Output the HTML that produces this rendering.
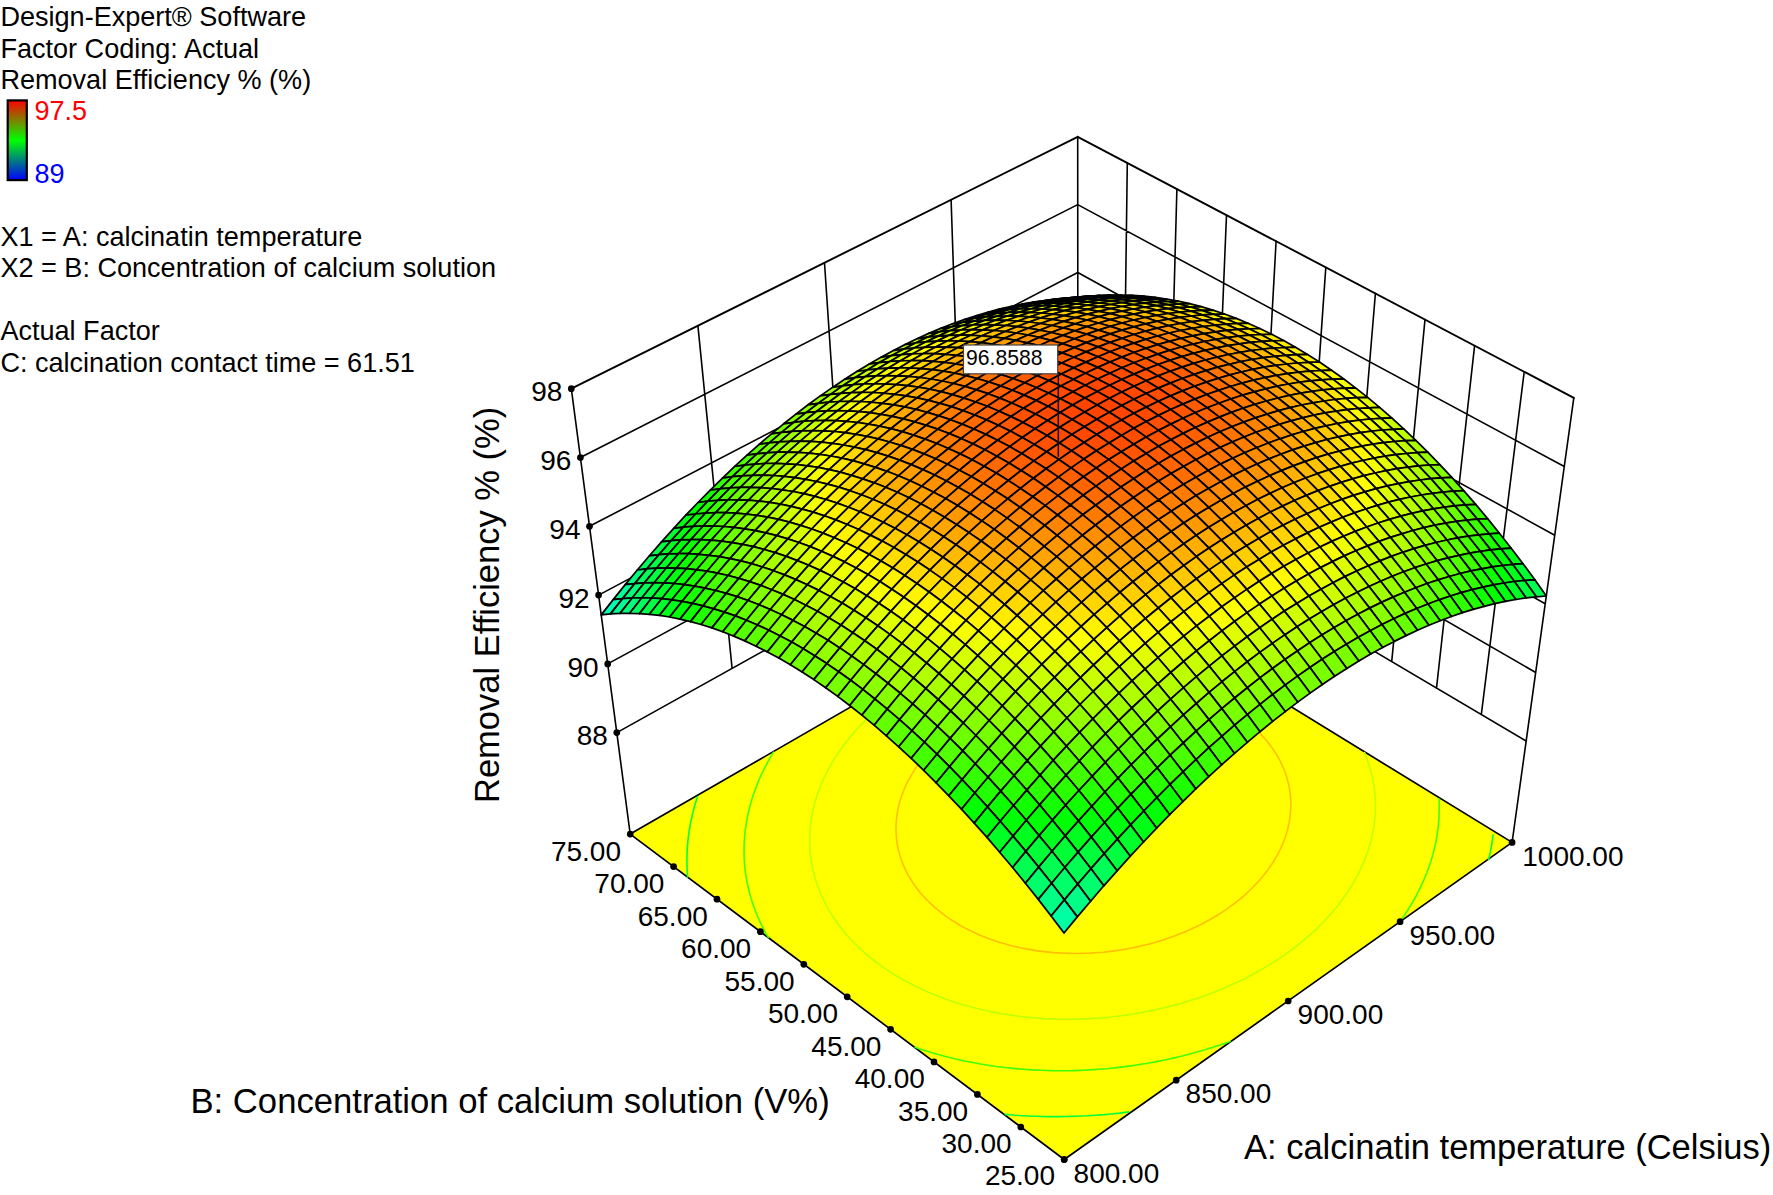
<!DOCTYPE html>
<html><head><meta charset="utf-8"><title>Design-Expert 3D Surface</title>
<style>
html,body{margin:0;padding:0;background:#fff}
body{width:1773px;height:1195px;overflow:hidden;position:relative;font-family:"Liberation Sans",sans-serif;color:#000}
svg{position:absolute;left:0;top:0}
svg text{font-family:"Liberation Sans",sans-serif;fill:#000}
</style></head><body>
<svg width="1773" height="1195" viewBox="0 0 1773 1195">
<defs><linearGradient id="lg" x1="0" y1="0" x2="0" y2="1"><stop offset="0" stop-color="#ff0000"/><stop offset="0.5" stop-color="#00ff00"/><stop offset="1" stop-color="#0000ff"/></linearGradient></defs>
<path d="M616.8,732.6 L1077.9,476.0 M1077.9,476.0 L1526.2,741.1 M607.7,663.9 L1077.9,408.1 M1077.9,408.1 L1535.7,672.5 M598.6,595.1 L1077.8,340.3 M1077.8,340.3 L1545.2,603.8 M589.5,526.3 L1077.8,272.5 M1077.8,272.5 L1554.7,535.2 M580.4,457.5 L1077.7,204.6 M1077.7,204.6 L1564.3,466.5 M732.1,668.5 L697.9,325.7 M847.4,604.3 L824.5,262.8 M962.6,540.1 L951.1,199.8 M1481.3,714.6 L1524.2,371.8 M1436.5,688.1 L1474.6,345.7 M1391.7,661.6 L1425.0,319.6 M1346.9,635.1 L1375.4,293.5 M1302.0,608.5 L1325.8,267.4 M1257.2,582.0 L1276.1,241.2 M1212.4,555.5 L1226.5,215.1 M1167.6,529.0 L1176.9,189.0 M1122.8,502.5 L1127.3,162.9 M630.2,834.1 L571.3,388.7 M1512.1,842.4 L1573.8,397.9 M1077.9,476.0 L1077.7,136.8" fill="none" stroke="#000" stroke-width="1.6" stroke-linecap="round"/>
<path d="M571.3,388.7 L1077.7,136.8 M1077.7,136.8 L1573.8,397.9" fill="none" stroke="#000" stroke-width="1.9" stroke-linecap="round" stroke-linejoin="round"/>
<polygon points="630.2,834.1 1064.2,1159.5 1512.1,842.4 1078.0,576.0" fill="#ffff00" stroke="#000" stroke-width="1.7" stroke-linejoin="round"/>
<polyline points="1488.4,860.4 1489.3,856.6 1489.9,854.0 1490.4,851.6 1490.9,849.2 1491.5,845.6 1492.1,842.0 1492.5,839.4 1492.8,836.9 1493.2,834.4" fill="none" stroke="#00ff40" stroke-width="1.6"/>
<polyline points="1004.6,1114.4 1010.0,1114.8 1014.4,1115.2 1018.8,1115.5 1023.3,1115.7 1027.9,1116.0 1032.4,1116.2 1037.1,1116.3 1041.7,1116.5 1046.5,1116.6 1051.3,1116.6 1056.1,1116.6 1061.0,1116.6 1066.0,1116.5 1071.0,1116.4 1076.1,1116.2 1081.3,1116.0 1086.5,1115.8 1091.3,1115.5 1095.7,1115.2 1100.0,1114.9 1104.3,1114.6 1108.5,1114.2 1113.9,1113.7 1119.6,1113.1 1125.0,1112.4 1129.0,1111.9" fill="none" stroke="#00ff40" stroke-width="1.6"/>
<polyline points="697.7,796.1 696.6,799.3 695.7,802.4 694.7,805.5 694.0,808.3 693.3,811.0 692.6,813.6 692.0,816.3 691.4,819.0 690.8,821.8 690.3,824.6 689.8,827.4 689.3,830.2 688.9,833.1 688.5,836.0 688.1,839.0 687.8,842.0 687.6,845.0 687.3,848.0 687.2,851.1 687.0,854.3 687.0,857.5 686.9,860.3 686.9,863.0 687.0,865.7 687.1,868.3 687.2,870.9 687.4,874.1 687.7,877.6" fill="none" stroke="#00ff40" stroke-width="1.6"/>
<polyline points="1398.5,923.6 1400.7,920.6 1403.1,917.2 1404.8,914.6 1407.1,911.2 1408.7,908.5 1410.6,905.5 1412.5,902.4 1413.8,900.0 1416.0,896.1 1417.1,894.0 1419.2,889.9 1420.3,887.6 1421.5,885.1 1423.3,881.1 1424.3,878.9 1425.5,876.0 1427.0,872.2 1427.8,870.0 1428.8,867.4 1430.2,863.3 1431.0,860.9 1431.7,858.5 1432.6,855.4 1433.6,851.6 1434.2,849.2 1434.8,846.8 1435.4,844.1 1436.1,840.5 1436.8,837.1 1437.2,834.6 1437.5,832.2 1437.9,829.7 1438.2,826.8 1438.5,823.5 1438.8,820.3 1439.0,817.1 1439.1,814.3 1439.2,811.7 1439.2,809.0 1439.2,806.4 1439.2,803.7 1439.1,800.9 1439.0,798.2" fill="none" stroke="#40ff00" stroke-width="1.6"/>
<polyline points="914.5,1047.1 919.9,1048.9 923.1,1049.9 929.6,1052.0 932.9,1053.0 938.5,1054.6 942.9,1055.8 946.4,1056.7 952.8,1058.3 956.9,1059.2 960.5,1060.1 966.1,1061.3 971.5,1062.3 975.2,1063.0 979.0,1063.7 984.7,1064.7 990.6,1065.6 994.5,1066.2 998.5,1066.7 1002.6,1067.2 1007.6,1067.8 1013.1,1068.4 1018.4,1068.9 1023.5,1069.3 1027.8,1069.6 1032.2,1069.9 1036.7,1070.1 1041.2,1070.3 1045.7,1070.5 1050.4,1070.6 1055.1,1070.7 1059.8,1070.7 1064.6,1070.7 1069.5,1070.7 1074.5,1070.6 1079.5,1070.4 1084.6,1070.2 1089.8,1069.9 1094.2,1069.6 1098.4,1069.3 1102.7,1069.0 1106.8,1068.7 1111.5,1068.2 1117.2,1067.6 1123.0,1066.9 1127.0,1066.4 1130.9,1065.9 1134.9,1065.3 1141.1,1064.3 1146.3,1063.5 1150.0,1062.8 1153.8,1062.1 1160.4,1060.9 1164.6,1060.0 1168.2,1059.2 1174.3,1057.9 1178.8,1056.8 1182.2,1056.0 1189.0,1054.2 1192.4,1053.3 1196.9,1052.1 1202.4,1050.5 1205.6,1049.6 1212.1,1047.6 1215.2,1046.6 1221.5,1044.5 1224.6,1043.4 1230.8,1041.2" fill="none" stroke="#40ff00" stroke-width="1.6"/>
<polyline points="1100.2,588.6 1096.5,588.8 1092.9,589.0 1088.7,589.2 1084.0,589.6 1079.2,590.0 1075.1,590.3 1071.6,590.7 1068.2,591.0 1064.3,591.5 1059.1,592.1 1054.8,592.6 1051.6,593.1 1048.3,593.6 1042.8,594.4" fill="none" stroke="#40ff00" stroke-width="1.6"/>
<polyline points="773.8,751.6 772.2,754.2 770.9,756.3 769.2,759.4 767.3,762.8 766.2,764.9 765.0,767.1 763.4,770.5 761.7,773.9 760.7,776.1 759.7,778.4 758.6,781.0 757.2,784.4 755.9,787.8 754.9,790.3 754.1,792.8 753.2,795.2 752.4,797.7 751.5,800.8 750.6,804.0 749.7,807.1 748.9,810.2 748.2,813.2 747.6,816.0 747.1,818.7 746.6,821.5 746.1,824.3 745.7,827.1 745.3,830.0 745.0,832.9 744.7,835.8 744.5,838.8 744.3,841.8 744.1,844.9 744.1,847.7 744.0,850.4 744.1,853.1 744.1,855.8 744.2,858.4 744.4,861.1 744.6,864.5 744.9,867.9 745.3,871.3 745.7,873.9 746.1,876.4 746.5,878.9 747.1,882.5 747.9,886.3 748.5,888.7 749.1,891.1 749.9,894.4 751.0,898.2 751.8,900.6 752.5,902.9 754.0,907.3 755.0,909.8 755.9,912.1 757.7,916.6 758.7,918.8 760.0,921.6 761.8,925.4 762.9,927.6 765.1,931.8 766.3,934.0 768.8,938.2" fill="none" stroke="#40ff00" stroke-width="1.6"/>
<polyline points="1167.2,630.0 1162.3,629.4 1158.8,629.0 1155.2,628.7 1151.6,628.3 1147.8,628.0 1143.2,627.7 1138.8,627.4 1134.4,627.2 1130.1,627.1 1125.9,627.0 1121.7,626.9 1117.6,626.9 1113.6,626.9 1109.7,627.0 1105.8,627.0 1101.9,627.2 1098.1,627.3 1094.4,627.5 1089.9,627.8 1085.2,628.2 1080.3,628.6 1076.4,628.9 1072.9,629.3 1069.5,629.7 1064.9,630.3 1059.5,631.0 1056.1,631.5 1052.9,632.0 1048.2,632.8 1043.3,633.6 1040.1,634.2 1036.0,635.0 1030.9,636.1 1027.9,636.8 1022.7,637.9 1019.0,638.8 1015.5,639.7 1010.3,641.1 1007.4,641.9 1001.8,643.5 999.0,644.3 993.5,646.0 990.6,647.0 985.4,648.7 980.5,650.4 977.5,651.5 972.4,653.5 968.7,654.9 964.8,656.5 959.8,658.6 954.9,660.7 952.4,661.8 947.6,664.1 942.9,666.3 938.3,668.7 933.7,671.1 929.1,673.5 924.7,676.0 920.3,678.5 916.0,681.2 911.7,683.8 907.5,686.5 903.4,689.3 899.3,692.1 895.3,695.0 891.8,697.6 889.4,699.4 885.6,702.4 881.9,705.5 880.0,707.1 876.3,710.2 872.7,713.4 871.0,715.1 867.5,718.4 864.7,721.1 862.4,723.4 859.1,726.9 857.5,728.7 854.3,732.2 852.7,734.0 849.7,737.6 848.1,739.6 845.9,742.4 843.7,745.2 842.3,747.2 839.5,751.1 838.2,753.1 836.4,755.8 834.2,759.1 833.0,761.2 831.4,763.9 829.3,767.5 828.1,769.7 827.0,771.9 825.3,775.3 823.7,778.5 822.7,780.8 821.7,783.1 820.5,786.0 819.2,789.4 818.0,792.5 817.2,795.0 816.4,797.4 815.6,799.9 814.9,802.6 814.0,805.7 813.3,808.8 812.6,811.9 812.0,814.9 811.5,817.9 811.0,820.9 810.6,823.8 810.3,826.7 810.1,829.5 809.9,832.3 809.7,835.1 809.7,837.9 809.6,840.6 809.7,843.3 809.8,846.0 809.9,848.6 810.1,851.6 810.5,855.0 810.9,858.5 811.3,861.5 811.7,863.9 812.2,866.4 812.8,869.4 813.8,873.2 814.5,876.1 815.2,878.5 816.1,881.3 817.5,885.4 818.3,887.7 819.2,890.0 821.0,894.5 822.0,896.7 823.3,899.4 825.2,903.2 826.3,905.3 828.6,909.6 829.9,911.6 832.4,915.8 833.8,917.8 836.5,921.8 837.9,923.8 840.9,927.7 842.5,929.7 845.6,933.4 848.8,937.2 850.5,939.0 854.0,942.7 857.6,946.3 861.3,949.8 863.4,951.6 867.1,954.9 871.2,958.3 875.3,961.5 879.6,964.7 884.0,967.9 888.6,970.9 893.2,973.9 896.3,975.8 900.5,978.3 905.5,981.1 910.6,983.8 914.4,985.8 918.6,987.8 924.0,990.3 927.0,991.7 932.5,994.0 937.5,996.0 941.3,997.4 946.8,999.5 950.4,1000.7 955.4,1002.4 959.9,1003.8 963.3,1004.8 969.7,1006.6 973.0,1007.5 977.8,1008.7 983.4,1010.0 986.9,1010.8 991.1,1011.7 997.4,1012.9 1001.5,1013.7 1005.3,1014.3 1009.3,1014.9 1015.1,1015.8 1020.6,1016.5 1024.9,1017.0 1029.0,1017.4 1033.2,1017.8 1037.4,1018.1 1041.7,1018.4 1046.7,1018.7 1051.7,1018.9 1056.5,1019.1 1061.2,1019.2 1065.9,1019.3 1070.5,1019.3 1075.0,1019.2 1079.5,1019.1 1083.8,1018.9 1088.5,1018.7 1093.6,1018.4 1098.9,1018.1 1104.3,1017.6 1108.9,1017.2 1112.9,1016.8 1116.9,1016.3 1121.2,1015.8 1127.1,1014.9 1132.2,1014.2 1135.9,1013.5 1139.6,1012.9 1146.0,1011.7 1150.4,1010.8 1154.0,1010.1 1159.6,1008.8 1164.3,1007.7 1167.7,1006.9 1174.4,1005.2 1177.7,1004.3 1182.4,1002.9 1187.3,1001.4 1190.8,1000.3 1196.7,998.4 1199.8,997.4 1205.8,995.2 1209.6,993.8 1214.7,991.9 1220.4,989.6 1223.2,988.4 1228.8,986.0 1233.1,984.1 1237.0,982.3 1242.3,979.7 1247.6,977.1 1250.1,975.8 1255.2,973.0 1260.2,970.3 1265.1,967.4 1269.8,964.6 1274.5,961.6 1279.1,958.6 1283.6,955.6 1287.9,952.5 1292.2,949.3 1296.4,946.1 1300.5,942.9 1304.5,939.6 1308.4,936.2 1312.2,932.8 1314.1,931.1 1317.8,927.6 1321.3,924.0 1324.3,921.0 1326.5,918.6 1329.8,915.0 1332.0,912.5 1334.6,909.4 1337.7,905.6 1339.2,903.7 1342.1,899.8 1343.6,897.9 1346.3,893.9 1347.7,891.9 1350.3,887.9 1351.6,885.8 1354.0,881.7 1355.2,879.7 1356.9,876.6 1358.6,873.3 1359.6,871.2 1361.5,867.2 1362.6,864.7 1363.6,862.5 1365.2,858.5 1366.2,855.8 1367.1,853.5 1368.1,850.4 1369.3,846.6 1370.0,844.3 1370.6,841.9 1371.4,839.0 1372.2,835.4 1372.8,832.3 1373.3,829.9 1373.7,827.4 1374.1,824.9 1374.5,821.7 1374.8,818.5 1375.1,815.3 1375.3,812.2 1375.4,809.4 1375.4,806.7 1375.4,804.0 1375.3,801.3 1375.2,798.5 1375.0,795.7 1374.8,792.9 1374.5,790.0 1374.1,787.1 1373.7,784.2 1373.1,781.2 1372.6,778.5 1372.0,775.9 1371.4,773.4 1370.8,770.9 1370.1,768.5 1369.2,765.5 1368.1,762.2 1367.0,759.0 1366.1,756.7 1365.2,754.4 1364.2,751.9" fill="none" stroke="#bfff00" stroke-width="1.6"/>
<polyline points="1198.7,925.6 1203.7,923.0 1208.7,920.3 1213.5,917.5 1218.2,914.7 1222.7,911.8 1227.2,908.8 1231.4,905.7 1235.6,902.6 1239.6,899.3 1243.5,896.1 1247.3,892.7 1249.1,891.0 1252.7,887.5 1256.1,883.9 1257.8,882.1 1261.0,878.5 1263.5,875.5 1265.6,872.8 1268.4,869.2 1269.9,867.0 1272.2,863.6 1273.9,861.0 1275.4,858.4 1277.5,854.8 1278.6,852.7 1280.4,849.0 1281.7,846.2 1282.6,844.0 1284.0,840.6 1285.2,837.3 1286.0,835.0 1286.7,832.6 1287.7,829.3 1288.5,825.7 1289.1,823.0 1289.5,820.5 1289.9,818.0 1290.2,815.4 1290.5,812.6 1290.7,809.5 1290.8,806.5 1290.8,803.6 1290.8,800.7 1290.6,797.9 1290.4,795.2 1290.0,792.5 1289.7,789.8 1289.2,787.2 1288.6,784.3 1287.8,781.1 1286.9,777.8 1286.0,774.9 1285.2,772.6 1284.3,770.3 1283.1,767.3 1281.4,763.7 1280.4,761.5 1279.3,759.4 1277.1,755.5 1275.7,753.2 1274.3,751.1 1271.8,747.4 1270.4,745.5 1267.4,741.8 1265.9,739.9 1262.8,736.4 1261.2,734.6 1257.8,731.3 1254.4,728.0 1252.6,726.4 1248.9,723.2 1245.0,720.2 1241.1,717.2 1237.9,715.0 1234.8,713.0 1230.5,710.3 1227.6,708.6 1223.8,706.4 1219.1,704.0 1214.3,701.6 1209.4,699.4 1206.9,698.3 1201.7,696.2 1196.4,694.2 1193.6,693.2 1188.1,691.3 1185.2,690.5 1179.7,688.9 1176.4,688.0 1172.7,687.1 1167.2,685.8 1164.0,685.1 1160.2,684.4 1154.5,683.4 1150.8,682.8 1147.3,682.3 1143.8,681.9 1138.8,681.3 1134.0,680.9 1129.3,680.5 1125.2,680.3 1121.2,680.1 1117.2,680.0 1113.0,679.9 1108.8,679.9 1104.5,680.0 1100.0,680.1 1096.0,680.3 1092.2,680.5 1088.5,680.8 1084.9,681.1 1080.7,681.5 1075.5,682.1 1070.9,682.7 1067.5,683.2 1064.2,683.7 1058.4,684.7 1054.6,685.5 1051.4,686.1 1045.4,687.4 1042.3,688.2 1038.1,689.2 1033.4,690.5 1030.2,691.4 1024.9,693.1 1021.4,694.2 1016.7,695.8 1011.4,697.7 1008.8,698.7 1003.6,700.8 998.6,702.9 996.1,704.1 991.2,706.3 986.5,708.7 981.8,711.1 977.2,713.6 972.8,716.2 968.4,718.8 964.2,721.6 960.0,724.4 956.0,727.3 952.0,730.2 948.9,732.6 946.3,734.8 942.6,738.0 939.0,741.2 937.2,742.9 933.8,746.3 932.0,748.0 928.8,751.5 926.7,753.8 924.1,756.9 922.3,759.1 919.7,762.5 918.3,764.5 915.5,768.4 914.2,770.4 912.7,772.9 910.5,776.6 909.3,778.7 908.1,780.9 906.2,784.7 905.0,787.5 904.0,789.8 903.1,792.1 901.8,795.4 900.7,798.8 899.8,801.8 899.1,804.3 898.5,806.8 898.0,809.4 897.5,812.1 897.0,814.8 896.6,817.5 896.4,820.4 896.1,823.3 896.0,826.2 896.0,829.2 896.1,832.3 896.2,835.5 896.5,838.7 896.9,842.0 897.3,844.5 897.8,847.0 898.3,849.5 899.2,852.9 900.3,856.6 901.0,858.9 901.8,861.2 903.4,865.1 904.6,867.9 905.6,870.1 907.8,874.4 909.0,876.5 911.0,879.9 912.8,882.6 915.0,885.8 917.0,888.5 920.0,892.4 921.6,894.2 924.9,897.9 928.4,901.5 930.2,903.2 933.9,906.7 937.8,910.0 941.9,913.2 946.1,916.4 950.5,919.4 955.1,922.3 959.9,925.2 964.8,927.9 967.4,929.2 972.6,931.8 978.0,934.3 980.8,935.4 986.5,937.7 989.7,938.9 995.4,940.9 998.5,941.9 1004.8,943.8 1008.0,944.7 1013.2,946.1 1018.1,947.2 1021.6,948.0 1026.2,948.9 1032.2,949.9 1036.2,950.6 1040.0,951.1 1043.9,951.6 1048.8,952.1 1053.9,952.6 1059.0,952.9 1063.8,953.2 1068.6,953.4 1073.2,953.5 1077.7,953.5 1082.1,953.4 1086.5,953.3 1090.7,953.1 1094.9,952.8 1098.9,952.5 1103.2,952.2 1108.7,951.6 1114.4,950.9 1118.3,950.3 1122.0,949.8 1126.5,949.0 1132.7,947.8 1136.1,947.1 1139.8,946.3 1146.2,944.8 1149.4,943.9 1154.7,942.5 1159.0,941.2 1163.2,939.9 1168.1,938.3 1172.5,936.7 1176.9,935.1 1182.6,932.8 1185.3,931.7 1190.8,929.3 1196.1,926.8 1198.7,925.6" fill="none" stroke="#ffbf00" stroke-width="1.6"/>
<g stroke="#000" stroke-width="1.75" stroke-linejoin="round">
<polygon points="1077.7,297.1 1088.8,296.6 1078.0,298.0 1066.9,298.5" fill="#23ff00"/>
<polygon points="1066.6,298.0 1077.7,297.1 1066.9,298.5 1055.8,299.4" fill="#36ff00"/>
<polygon points="1088.6,296.2 1099.7,295.7 1088.8,296.6 1077.7,297.1" fill="#3dff00"/>
<polygon points="1055.4,299.2 1066.6,298.0 1055.8,299.4 1044.6,300.6" fill="#47ff00"/>
<polygon points="1077.5,297.0 1088.6,296.2 1077.7,297.1 1066.6,298.0" fill="#50ff00"/>
<polygon points="1099.6,295.6 1110.6,295.2 1099.7,295.7 1088.6,296.2" fill="#56ff00"/>
<polygon points="1044.1,300.8 1055.4,299.2 1044.6,300.6 1033.3,302.2" fill="#57ff00"/>
<polygon points="1066.3,298.2 1077.5,297.0 1066.6,298.0 1055.4,299.2" fill="#61ff00"/>
<polygon points="1088.4,296.4 1099.6,295.6 1088.6,296.2 1077.5,297.0" fill="#68ff00"/>
<polygon points="1110.6,295.5 1121.7,295.1 1110.6,295.2 1099.6,295.6" fill="#6dff00"/>
<polygon points="1032.7,302.7 1044.1,300.8 1033.3,302.2 1022.0,304.2" fill="#66ff00"/>
<polygon points="1055.0,299.8 1066.3,298.2 1055.4,299.2 1044.1,300.8" fill="#72ff00"/>
<polygon points="1077.2,297.6 1088.4,296.4 1077.5,297.0 1066.3,298.2" fill="#7aff00"/>
<polygon points="1099.5,296.3 1110.6,295.5 1099.6,295.6 1088.4,296.4" fill="#80ff00"/>
<polygon points="1121.8,295.8 1132.8,295.4 1121.7,295.1 1110.6,295.5" fill="#82ff00"/>
<polygon points="1021.3,305.0 1032.7,302.7 1022.0,304.2 1010.6,306.5" fill="#74ff00"/>
<polygon points="1043.6,301.7 1055.0,299.8 1044.1,300.8 1032.7,302.7" fill="#81ff00"/>
<polygon points="1065.9,299.2 1077.2,297.6 1066.3,298.2 1055.0,299.8" fill="#8aff00"/>
<polygon points="1088.3,297.5 1099.5,296.3 1088.4,296.4 1077.2,297.6" fill="#91ff00"/>
<polygon points="1110.6,296.6 1121.8,295.8 1110.6,295.5 1099.5,296.3" fill="#95ff00"/>
<polygon points="1133.0,296.6 1144.1,296.2 1132.8,295.4 1121.8,295.8" fill="#96ff00"/>
<polygon points="1009.8,307.7 1021.3,305.0 1010.6,306.5 999.1,309.2" fill="#80ff00"/>
<polygon points="1032.1,304.0 1043.6,301.7 1032.7,302.7 1021.3,305.0" fill="#8eff00"/>
<polygon points="1054.5,301.1 1065.9,299.2 1055.0,299.8 1043.6,301.7" fill="#99ff00"/>
<polygon points="1076.9,299.0 1088.3,297.5 1077.2,297.6 1065.9,299.2" fill="#a2ff00"/>
<polygon points="1099.4,297.7 1110.6,296.6 1099.5,296.3 1088.3,297.5" fill="#a7ff00"/>
<polygon points="1144.3,297.8 1155.3,297.4 1144.1,296.2 1133.0,296.6" fill="#a8ff00"/>
<polygon points="998.2,310.8 1009.8,307.7 999.1,309.2 987.5,312.3" fill="#8bff00"/>
<polygon points="1121.8,297.3 1133.0,296.6 1121.8,295.8 1110.6,296.6" fill="#a9ff00"/>
<polygon points="1020.6,306.7 1032.1,304.0 1021.3,305.0 1009.8,307.7" fill="#9bff00"/>
<polygon points="1043.1,303.3 1054.5,301.1 1043.6,301.7 1032.1,304.0" fill="#a7ff00"/>
<polygon points="1065.6,300.9 1076.9,299.0 1065.9,299.2 1054.5,301.1" fill="#b1ff00"/>
<polygon points="986.6,314.2 998.2,310.8 987.5,312.3 975.9,315.8" fill="#95ff00"/>
<polygon points="1088.1,299.2 1099.4,297.7 1088.3,297.5 1076.9,299.0" fill="#b7ff00"/>
<polygon points="1155.7,299.4 1166.7,299.0 1155.3,297.4 1144.3,297.8" fill="#b9ff00"/>
<polygon points="1110.6,298.4 1121.8,297.3 1110.6,296.6 1099.4,297.7" fill="#bbff00"/>
<polygon points="1133.1,298.5 1144.3,297.8 1133.0,296.6 1121.8,297.3" fill="#bcff00"/>
<polygon points="1009.0,309.7 1020.6,306.7 1009.8,307.7 998.2,310.8" fill="#a6ff00"/>
<polygon points="1031.5,306.0 1043.1,303.3 1032.1,304.0 1020.6,306.7" fill="#b4ff00"/>
<polygon points="974.9,318.1 986.6,314.2 975.9,315.8 964.2,319.6" fill="#9dff00"/>
<polygon points="1054.1,303.1 1065.6,300.9 1054.5,301.1 1043.1,303.3" fill="#bfff00"/>
<polygon points="1076.7,301.1 1088.1,299.2 1076.9,299.0 1065.6,300.9" fill="#c7ff00"/>
<polygon points="1167.1,301.5 1178.1,301.1 1166.7,299.0 1155.7,299.4" fill="#c9ff00"/>
<polygon points="1099.3,299.9 1110.6,298.4 1099.4,297.7 1088.1,299.2" fill="#ccff00"/>
<polygon points="1144.5,300.1 1155.7,299.4 1144.3,297.8 1133.1,298.5" fill="#cdff00"/>
<polygon points="997.4,313.1 1009.0,309.7 998.2,310.8 986.6,314.2" fill="#b0ff00"/>
<polygon points="1121.9,299.6 1133.1,298.5 1121.8,297.3 1110.6,298.4" fill="#ceff00"/>
<polygon points="1019.9,309.0 1031.5,306.0 1020.6,306.7 1009.0,309.7" fill="#bfff00"/>
<polygon points="963.1,322.3 974.9,318.1 964.2,319.6 952.5,323.8" fill="#a5ff00"/>
<polygon points="1042.5,305.8 1054.1,303.1 1043.1,303.3 1031.5,306.0" fill="#cbff00"/>
<polygon points="1065.2,303.3 1076.7,301.1 1065.6,300.9 1054.1,303.1" fill="#d5ff00"/>
<polygon points="985.6,316.9 997.4,313.1 986.6,314.2 974.9,318.1" fill="#b8ff00"/>
<polygon points="1178.6,304.0 1189.6,303.7 1178.1,301.1 1167.1,301.5" fill="#d7ff00"/>
<polygon points="1087.9,301.8 1099.3,299.9 1088.1,299.2 1076.7,301.1" fill="#dbff00"/>
<polygon points="1156.0,302.2 1167.1,301.5 1155.7,299.4 1144.5,300.1" fill="#dcff00"/>
<polygon points="1110.6,301.1 1121.9,299.6 1110.6,298.4 1099.3,299.9" fill="#deff00"/>
<polygon points="1133.3,301.2 1144.5,300.1 1133.1,298.5 1121.9,299.6" fill="#dfff00"/>
<polygon points="1008.2,312.5 1019.9,309.0 1009.0,309.7 997.4,313.1" fill="#c9ff00"/>
<polygon points="951.3,326.9 963.1,322.3 952.5,323.8 940.7,328.4" fill="#abff00"/>
<polygon points="1030.9,308.8 1042.5,305.8 1031.5,306.0 1019.9,309.0" fill="#d7ff00"/>
<polygon points="973.8,321.2 985.6,316.9 974.9,318.1 963.1,322.3" fill="#c0ff00"/>
<polygon points="1053.6,306.0 1065.2,303.3 1054.1,303.1 1042.5,305.8" fill="#e1ff00"/>
<polygon points="1190.2,307.0 1201.2,306.7 1189.6,303.7 1178.6,304.0" fill="#e3ff00"/>
<polygon points="1076.4,304.0 1087.9,301.8 1076.7,301.1 1065.2,303.3" fill="#e9ff00"/>
<polygon points="1167.5,304.7 1178.6,304.0 1167.1,301.5 1156.0,302.2" fill="#eaff00"/>
<polygon points="939.4,331.9 951.3,326.9 940.7,328.4 928.8,333.4" fill="#afff00"/>
<polygon points="1099.2,302.9 1110.6,301.1 1099.3,299.9 1087.9,301.8" fill="#eeff00"/>
<polygon points="1144.7,303.2 1156.0,302.2 1144.5,300.1 1133.3,301.2" fill="#eeff00"/>
<polygon points="996.5,316.3 1008.2,312.5 997.4,313.1 985.6,316.9" fill="#d2ff00"/>
<polygon points="1122.0,302.6 1133.3,301.2 1121.9,299.6 1110.6,301.1" fill="#f0ff00"/>
<polygon points="1019.2,312.2 1030.9,308.8 1019.9,309.0 1008.2,312.5" fill="#e1ff00"/>
<polygon points="962.0,325.7 973.8,321.2 963.1,322.3 951.3,326.9" fill="#c6ff00"/>
<polygon points="1042.0,309.0 1053.6,306.0 1042.5,305.8 1030.9,308.8" fill="#edff00"/>
<polygon points="1201.8,310.4 1212.8,310.1 1201.2,306.7 1190.2,307.0" fill="#eeff00"/>
<polygon points="927.5,337.2 939.4,331.9 928.8,333.4 916.9,338.8" fill="#b3ff00"/>
<polygon points="1064.8,306.6 1076.4,304.0 1065.2,303.3 1053.6,306.0" fill="#f6ff00"/>
<polygon points="984.7,320.4 996.5,316.3 985.6,316.9 973.8,321.2" fill="#d9ff00"/>
<polygon points="1179.0,307.6 1190.2,307.0 1178.6,304.0 1167.5,304.7" fill="#f7ff00"/>
<polygon points="1087.7,305.1 1099.2,302.9 1087.9,301.8 1076.4,304.0" fill="#fcff00"/>
<polygon points="1156.2,305.7 1167.5,304.7 1156.0,302.2 1144.7,303.2" fill="#fcff00"/>
<polygon points="1110.5,304.5 1122.0,302.6 1110.6,301.1 1099.2,302.9" fill="#ffff00"/>
<polygon points="1133.4,304.7 1144.7,303.2 1133.3,301.2 1122.0,302.6" fill="#ffff00"/>
<polygon points="950.1,330.7 962.0,325.7 951.3,326.9 939.4,331.9" fill="#caff00"/>
<polygon points="1007.5,316.0 1019.2,312.2 1008.2,312.5 996.5,316.3" fill="#e9ff00"/>
<polygon points="915.5,343.0 927.5,337.2 916.9,338.8 905.0,344.6" fill="#b5ff00"/>
<polygon points="1030.3,312.4 1042.0,309.0 1030.9,308.8 1019.2,312.2" fill="#f7ff00"/>
<polygon points="1213.5,314.3 1224.5,314.0 1212.8,310.1 1201.8,310.4" fill="#f7ff00"/>
<polygon points="972.8,325.0 984.7,320.4 973.8,321.2 962.0,325.7" fill="#dfff00"/>
<polygon points="1053.2,309.6 1064.8,306.6 1053.6,306.0 1042.0,309.0" fill="#fffd00"/>
<polygon points="1190.7,311.1 1201.8,310.4 1190.2,307.0 1179.0,307.6" fill="#fffd00"/>
<polygon points="1076.1,307.7 1087.7,305.1 1076.4,304.0 1064.8,306.6" fill="#fff500"/>
<polygon points="1167.8,308.7 1179.0,307.6 1167.5,304.7 1156.2,305.7" fill="#fff500"/>
<polygon points="938.2,336.1 950.1,330.7 939.4,331.9 927.5,337.2" fill="#ceff00"/>
<polygon points="1099.0,306.7 1110.5,304.5 1099.2,302.9 1087.7,305.1" fill="#fff100"/>
<polygon points="1144.9,307.1 1156.2,305.7 1144.7,303.2 1133.4,304.7" fill="#fff100"/>
<polygon points="1122.0,306.5 1133.4,304.7 1122.0,302.6 1110.5,304.5" fill="#ffef00"/>
<polygon points="995.6,320.2 1007.5,316.0 996.5,316.3 984.7,320.4" fill="#f1ff00"/>
<polygon points="903.5,349.2 915.5,343.0 905.0,344.6 893.0,350.7" fill="#b6ff00"/>
<polygon points="1018.5,316.2 1030.3,312.4 1019.2,312.2 1007.5,316.0" fill="#fffe00"/>
<polygon points="1225.2,318.6 1236.2,318.4 1224.5,314.0 1213.5,314.3" fill="#ffff00"/>
<polygon points="960.9,330.0 972.8,325.0 962.0,325.7 950.1,330.7" fill="#e4ff00"/>
<polygon points="1041.5,313.0 1053.2,309.6 1042.0,309.0 1030.3,312.4" fill="#fff200"/>
<polygon points="1202.4,314.9 1213.5,314.3 1201.8,310.4 1190.7,311.1" fill="#fff300"/>
<polygon points="926.2,341.8 938.2,336.1 927.5,337.2 915.5,343.0" fill="#d0ff00"/>
<polygon points="891.4,355.7 903.5,349.2 893.0,350.7 881.0,357.3" fill="#b5ff00"/>
<polygon points="1064.5,310.7 1076.1,307.7 1064.8,306.6 1053.2,309.6" fill="#ffea00"/>
<polygon points="1179.5,312.1 1190.7,311.1 1179.0,307.6 1167.8,308.7" fill="#ffea00"/>
<polygon points="983.8,324.7 995.6,320.2 984.7,320.4 972.8,325.0" fill="#f7ff00"/>
<polygon points="1087.5,309.3 1099.0,306.7 1087.7,305.1 1076.1,307.7" fill="#ffe400"/>
<polygon points="1156.5,310.1 1167.8,308.7 1156.2,305.7 1144.9,307.1" fill="#ffe400"/>
<polygon points="1110.5,308.7 1122.0,306.5 1110.5,304.5 1099.0,306.7" fill="#ffe100"/>
<polygon points="1133.5,309.0 1144.9,307.1 1133.4,304.7 1122.0,306.5" fill="#ffe100"/>
<polygon points="948.9,335.4 960.9,330.0 950.1,330.7 938.2,336.1" fill="#e8ff00"/>
<polygon points="1006.7,320.3 1018.5,316.2 1007.5,316.0 995.6,320.2" fill="#fff700"/>
<polygon points="1237.0,323.5 1248.0,323.2 1236.2,318.4 1225.2,318.6" fill="#fff900"/>
<polygon points="914.1,348.0 926.2,341.8 915.5,343.0 903.5,349.2" fill="#d1ff00"/>
<polygon points="879.3,362.6 891.4,355.7 881.0,357.3 868.9,364.2" fill="#b4ff00"/>
<polygon points="1029.7,316.8 1041.5,313.0 1030.3,312.4 1018.5,316.2" fill="#ffe900"/>
<polygon points="1214.1,319.3 1225.2,318.6 1213.5,314.3 1202.4,314.9" fill="#ffeb00"/>
<polygon points="971.8,329.7 983.8,324.7 972.8,325.0 960.9,330.0" fill="#fcff00"/>
<polygon points="1052.7,314.1 1064.5,310.7 1053.2,309.6 1041.5,313.0" fill="#ffdf00"/>
<polygon points="1191.2,316.0 1202.4,314.9 1190.7,311.1 1179.5,312.1" fill="#ffe100"/>
<polygon points="1075.8,312.2 1087.5,309.3 1076.1,307.7 1064.5,310.7" fill="#ffd800"/>
<polygon points="1168.2,313.5 1179.5,312.1 1167.8,308.7 1156.5,310.1" fill="#ffd900"/>
<polygon points="936.9,341.1 948.9,335.4 938.2,336.1 926.2,341.8" fill="#eaff00"/>
<polygon points="1098.9,311.3 1110.5,308.7 1099.0,306.7 1087.5,309.3" fill="#ffd400"/>
<polygon points="1145.1,311.9 1156.5,310.1 1144.9,307.1 1133.5,309.0" fill="#ffd400"/>
<polygon points="1248.9,328.8 1259.8,328.5 1248.0,323.2 1237.0,323.5" fill="#fff400"/>
<polygon points="1122.0,311.1 1133.5,309.0 1122.0,306.5 1110.5,308.7" fill="#ffd300"/>
<polygon points="994.8,324.9 1006.7,320.3 995.6,320.2 983.8,324.7" fill="#fff000"/>
<polygon points="867.2,370.0 879.3,362.6 868.9,364.2 856.8,371.5" fill="#b1ff00"/>
<polygon points="902.0,354.6 914.1,348.0 903.5,349.2 891.4,355.7" fill="#d1ff00"/>
<polygon points="1226.0,324.1 1237.0,323.5 1225.2,318.6 1214.1,319.3" fill="#ffe500"/>
<polygon points="1017.8,321.0 1029.7,316.8 1018.5,316.2 1006.7,320.3" fill="#ffe200"/>
<polygon points="959.8,335.1 971.8,329.7 960.9,330.0 948.9,335.4" fill="#fffe00"/>
<polygon points="1203.0,320.3 1214.1,319.3 1202.4,314.9 1191.2,316.0" fill="#ffd900"/>
<polygon points="1040.9,317.9 1052.7,314.1 1041.5,313.0 1029.7,316.8" fill="#ffd600"/>
<polygon points="855.0,377.7 867.2,370.0 856.8,371.5 844.7,379.3" fill="#acff00"/>
<polygon points="924.8,347.3 936.9,341.1 926.2,341.8 914.1,348.0" fill="#ebff00"/>
<polygon points="889.9,361.5 902.0,354.6 891.4,355.7 879.3,362.6" fill="#cfff00"/>
<polygon points="1260.8,334.5 1271.7,334.3 1259.8,328.5 1248.9,328.8" fill="#fff100"/>
<polygon points="1179.9,317.4 1191.2,316.0 1179.5,312.1 1168.2,313.5" fill="#ffd000"/>
<polygon points="1064.1,315.6 1075.8,312.2 1064.5,310.7 1052.7,314.1" fill="#ffce00"/>
<polygon points="982.8,329.9 994.8,324.9 983.8,324.7 971.8,329.7" fill="#ffeb00"/>
<polygon points="1156.8,315.3 1168.2,313.5 1156.5,310.1 1145.1,311.9" fill="#ffc900"/>
<polygon points="1087.3,314.2 1098.9,311.3 1087.5,309.3 1075.8,312.2" fill="#ffc800"/>
<polygon points="1133.6,314.1 1145.1,311.9 1133.5,309.0 1122.0,311.1" fill="#ffc600"/>
<polygon points="1110.4,313.7 1122.0,311.1 1110.5,308.7 1098.9,311.3" fill="#ffc500"/>
<polygon points="1237.8,329.4 1248.9,328.8 1237.0,323.5 1226.0,324.1" fill="#ffe000"/>
<polygon points="947.8,340.8 959.8,335.1 948.9,335.4 936.9,341.1" fill="#fffc00"/>
<polygon points="1005.9,325.5 1017.8,321.0 1006.7,320.3 994.8,324.9" fill="#ffdb00"/>
<polygon points="842.8,385.8 855.0,377.7 844.7,379.3 832.5,387.4" fill="#a7ff00"/>
<polygon points="912.7,353.8 924.8,347.3 914.1,348.0 902.0,354.6" fill="#ebff00"/>
<polygon points="877.7,368.8 889.9,361.5 879.3,362.6 867.2,370.0" fill="#ccff00"/>
<polygon points="1214.8,325.1 1226.0,324.1 1214.1,319.3 1203.0,320.3" fill="#ffd200"/>
<polygon points="1029.1,322.0 1040.9,317.9 1029.7,316.8 1017.8,321.0" fill="#ffce00"/>
<polygon points="1272.7,340.8 1283.6,340.5 1271.7,334.3 1260.8,334.5" fill="#fff000"/>
<polygon points="970.8,335.2 982.8,329.9 971.8,329.7 959.8,335.1" fill="#ffe800"/>
<polygon points="1191.7,321.7 1203.0,320.3 1191.2,316.0 1179.9,317.4" fill="#ffc800"/>
<polygon points="1052.3,319.4 1064.1,315.6 1052.7,314.1 1040.9,317.9" fill="#ffc500"/>
<polygon points="830.6,394.4 842.8,385.8 832.5,387.4 820.3,395.9" fill="#a0ff00"/>
<polygon points="1168.5,319.2 1179.9,317.4 1168.2,313.5 1156.8,315.3" fill="#ffc000"/>
<polygon points="1075.5,317.6 1087.3,314.2 1075.8,312.2 1064.1,315.6" fill="#ffbe00"/>
<polygon points="935.7,347.0 947.8,340.8 936.9,341.1 924.8,347.3" fill="#fffb00"/>
<polygon points="1249.7,335.2 1260.8,334.5 1248.9,328.8 1237.8,329.4" fill="#ffdd00"/>
<polygon points="865.5,376.6 877.7,368.8 867.2,370.0 855.0,377.7" fill="#c8ff00"/>
<polygon points="1145.3,317.5 1156.8,315.3 1145.1,311.9 1133.6,314.1" fill="#ffbb00"/>
<polygon points="1098.8,316.7 1110.4,313.7 1098.9,311.3 1087.3,314.2" fill="#ffba00"/>
<polygon points="900.5,360.8 912.7,353.8 902.0,354.6 889.9,361.5" fill="#e9ff00"/>
<polygon points="1122.0,316.6 1133.6,314.1 1122.0,311.1 1110.4,313.7" fill="#ffb900"/>
<polygon points="993.9,330.5 1005.9,325.5 994.8,324.9 982.8,329.9" fill="#ffd600"/>
<polygon points="1284.6,347.5 1295.5,347.2 1283.6,340.5 1272.7,340.8" fill="#fff000"/>
<polygon points="1226.7,330.4 1237.8,329.4 1226.0,324.1 1214.8,325.1" fill="#ffce00"/>
<polygon points="818.4,403.3 830.6,394.4 820.3,395.9 808.1,404.8" fill="#98ff00"/>
<polygon points="1017.1,326.6 1029.1,322.0 1017.8,321.0 1005.9,325.5" fill="#ffc800"/>
<polygon points="958.7,341.0 970.8,335.2 959.8,335.1 947.8,340.8" fill="#ffe500"/>
<polygon points="853.3,384.7 865.5,376.6 855.0,377.7 842.8,385.8" fill="#c3ff00"/>
<polygon points="1203.5,326.5 1214.8,325.1 1203.0,320.3 1191.7,321.7" fill="#ffc100"/>
<polygon points="923.5,353.5 935.7,347.0 924.8,347.3 912.7,353.8" fill="#fffb00"/>
<polygon points="1040.4,323.5 1052.3,319.4 1040.9,317.9 1029.1,322.0" fill="#ffbd00"/>
<polygon points="888.3,368.1 900.5,360.8 889.9,361.5 877.7,368.8" fill="#e7ff00"/>
<polygon points="1261.7,341.4 1272.7,340.8 1260.8,334.5 1249.7,335.2" fill="#ffdb00"/>
<polygon points="1180.3,323.5 1191.7,321.7 1179.9,317.4 1168.5,319.2" fill="#ffb700"/>
<polygon points="1063.7,321.4 1075.5,317.6 1064.1,315.6 1052.3,319.4" fill="#ffb400"/>
<polygon points="806.1,412.6 818.4,403.3 808.1,404.8 795.9,414.1" fill="#8fff00"/>
<polygon points="981.9,335.8 993.9,330.5 982.8,329.9 970.8,335.2" fill="#ffd200"/>
<polygon points="1157.0,321.3 1168.5,319.2 1156.8,315.3 1145.3,317.5" fill="#ffb100"/>
<polygon points="1087.0,320.0 1098.8,316.7 1087.3,314.2 1075.5,317.6" fill="#ffaf00"/>
<polygon points="1296.6,354.7 1307.5,354.4 1295.5,347.2 1284.6,347.5" fill="#fff100"/>
<polygon points="1133.7,320.0 1145.3,317.5 1133.6,314.1 1122.0,316.6" fill="#ffad00"/>
<polygon points="1110.4,319.6 1122.0,316.6 1110.4,313.7 1098.8,316.7" fill="#ffad00"/>
<polygon points="1238.6,336.2 1249.7,335.2 1237.8,329.4 1226.7,330.4" fill="#ffca00"/>
<polygon points="841.0,393.3 853.3,384.7 842.8,385.8 830.6,394.4" fill="#bcff00"/>
<polygon points="946.6,347.1 958.7,341.0 947.8,340.8 935.7,347.0" fill="#ffe400"/>
<polygon points="1005.1,331.5 1017.1,326.6 1005.9,325.5 993.9,330.5" fill="#ffc300"/>
<polygon points="793.9,422.3 806.1,412.6 795.9,414.1 783.7,423.8" fill="#84ff00"/>
<polygon points="876.1,375.9 888.3,368.1 877.7,368.8 865.5,376.6" fill="#e2ff00"/>
<polygon points="911.3,360.5 923.5,353.5 912.7,353.8 900.5,360.8" fill="#fffc00"/>
<polygon points="1215.4,331.8 1226.7,330.4 1214.8,325.1 1203.5,326.5" fill="#ffbc00"/>
<polygon points="1273.6,348.1 1284.6,347.5 1272.7,340.8 1261.7,341.4" fill="#ffdb00"/>
<polygon points="1028.4,328.1 1040.4,323.5 1029.1,322.0 1017.1,326.6" fill="#ffb600"/>
<polygon points="969.8,341.6 981.9,335.8 970.8,335.2 958.7,341.0" fill="#ffd000"/>
<polygon points="1308.6,362.3 1319.5,362.0 1307.5,354.4 1296.6,354.7" fill="#fff400"/>
<polygon points="1192.1,328.3 1203.5,326.5 1191.7,321.7 1180.3,323.5" fill="#ffb100"/>
<polygon points="828.8,402.2 841.0,393.3 830.6,394.4 818.4,403.3" fill="#b4ff00"/>
<polygon points="1051.8,325.5 1063.7,321.4 1052.3,319.4 1040.4,323.5" fill="#ffac00"/>
<polygon points="781.6,432.4 793.9,422.3 783.7,423.8 771.5,433.9" fill="#78ff00"/>
<polygon points="1168.8,325.7 1180.3,323.5 1168.5,319.2 1157.0,321.3" fill="#ffa900"/>
<polygon points="934.4,353.7 946.6,347.1 935.7,347.0 923.5,353.5" fill="#ffe400"/>
<polygon points="1250.5,342.4 1261.7,341.4 1249.7,335.2 1238.6,336.2" fill="#ffc800"/>
<polygon points="1075.2,323.8 1087.0,320.0 1075.5,317.6 1063.7,321.4" fill="#ffa600"/>
<polygon points="863.8,384.0 876.1,375.9 865.5,376.6 853.3,384.7" fill="#ddff00"/>
<polygon points="1145.4,323.9 1157.0,321.3 1145.3,317.5 1133.7,320.0" fill="#ffa400"/>
<polygon points="899.1,367.9 911.3,360.5 900.5,360.8 888.3,368.1" fill="#ffff00"/>
<polygon points="1098.6,323.0 1110.4,319.6 1098.8,316.7 1087.0,320.0" fill="#ffa200"/>
<polygon points="1122.0,323.0 1133.7,320.0 1122.0,316.6 1110.4,319.6" fill="#ffa100"/>
<polygon points="993.1,336.9 1005.1,331.5 993.9,330.5 981.9,335.8" fill="#ffbf00"/>
<polygon points="1285.6,355.3 1296.6,354.7 1284.6,347.5 1273.6,348.1" fill="#ffdd00"/>
<polygon points="769.3,442.9 781.6,432.4 771.5,433.9 759.2,444.3" fill="#6bff00"/>
<polygon points="816.5,411.5 828.8,402.2 818.4,403.3 806.1,412.6" fill="#abff00"/>
<polygon points="1227.3,337.6 1238.6,336.2 1226.7,330.4 1215.4,331.8" fill="#ffb900"/>
<polygon points="1320.7,370.5 1331.5,370.2 1319.5,362.0 1308.6,362.3" fill="#fff800"/>
<polygon points="1016.4,333.0 1028.4,328.1 1017.1,326.6 1005.1,331.5" fill="#ffb100"/>
<polygon points="957.6,347.7 969.8,341.6 958.7,341.0 946.6,347.1" fill="#ffcf00"/>
<polygon points="851.6,392.6 863.8,384.0 853.3,384.7 841.0,393.3" fill="#d7ff00"/>
<polygon points="1204.0,333.6 1215.4,331.8 1203.5,326.5 1192.1,328.3" fill="#ffac00"/>
<polygon points="922.2,360.7 934.4,353.7 923.5,353.5 911.3,360.5" fill="#ffe500"/>
<polygon points="757.0,453.8 769.3,442.9 759.2,444.3 747.0,455.2" fill="#5dff00"/>
<polygon points="1039.9,330.1 1051.8,325.5 1040.4,323.5 1028.4,328.1" fill="#ffa600"/>
<polygon points="886.8,375.6 899.1,367.9 888.3,368.1 876.1,375.9" fill="#fbff00"/>
<polygon points="1262.5,349.1 1273.6,348.1 1261.7,341.4 1250.5,342.4" fill="#ffc800"/>
<polygon points="804.1,421.2 816.5,411.5 806.1,412.6 793.9,422.3" fill="#a0ff00"/>
<polygon points="1180.7,330.5 1192.1,328.3 1180.3,323.5 1168.8,325.7" fill="#ffa200"/>
<polygon points="1063.3,327.9 1075.2,323.8 1063.7,321.4 1051.8,325.5" fill="#ff9e00"/>
<polygon points="981.0,342.6 993.1,336.9 981.9,335.8 969.8,341.6" fill="#ffbc00"/>
<polygon points="1297.7,363.0 1308.6,362.3 1296.6,354.7 1285.6,355.3" fill="#ffdf00"/>
<polygon points="1332.7,379.1 1343.5,378.8 1331.5,370.2 1320.7,370.5" fill="#fffe00"/>
<polygon points="1157.2,328.2 1168.8,325.7 1157.0,321.3 1145.4,323.9" fill="#ff9b00"/>
<polygon points="1086.8,326.7 1098.6,323.0 1087.0,320.0 1075.2,323.8" fill="#ff9900"/>
<polygon points="744.7,465.1 757.0,453.8 747.0,455.2 734.7,466.4" fill="#4dff00"/>
<polygon points="1133.8,326.8 1145.4,323.9 1133.7,320.0 1122.0,323.0" fill="#ff9700"/>
<polygon points="1110.3,326.3 1122.0,323.0 1110.4,319.6 1098.6,323.0" fill="#ff9700"/>
<polygon points="1239.3,343.8 1250.5,342.4 1238.6,336.2 1227.3,337.6" fill="#ffb700"/>
<polygon points="839.2,401.5 851.6,392.6 841.0,393.3 828.8,402.2" fill="#cfff00"/>
<polygon points="945.5,354.3 957.6,347.7 946.6,347.1 934.4,353.7" fill="#ffce00"/>
<polygon points="791.8,431.4 804.1,421.2 793.9,422.3 781.6,432.4" fill="#95ff00"/>
<polygon points="1004.4,338.4 1016.4,333.0 1005.1,331.5 993.1,336.9" fill="#ffad00"/>
<polygon points="874.5,383.8 886.8,375.6 876.1,375.9 863.8,384.0" fill="#f6ff00"/>
<polygon points="910.0,368.0 922.2,360.7 911.3,360.5 899.1,367.9" fill="#ffe800"/>
<polygon points="732.4,476.7 744.7,465.1 734.7,466.4 722.5,478.1" fill="#3cff00"/>
<polygon points="1274.6,356.3 1285.6,355.3 1273.6,348.1 1262.5,349.1" fill="#ffc900"/>
<polygon points="1216.0,339.4 1227.3,337.6 1215.4,331.8 1204.0,333.6" fill="#ffa800"/>
<polygon points="1344.8,388.2 1355.5,387.9 1343.5,378.8 1332.7,379.1" fill="#f8ff00"/>
<polygon points="1027.8,335.0 1039.9,330.1 1028.4,328.1 1016.4,333.0" fill="#ffa000"/>
<polygon points="1309.8,371.1 1320.7,370.5 1308.6,362.3 1297.7,363.0" fill="#ffe400"/>
<polygon points="826.9,410.9 839.2,401.5 828.8,402.2 816.5,411.5" fill="#c5ff00"/>
<polygon points="968.8,348.8 981.0,342.6 969.8,341.6 957.6,347.7" fill="#ffbb00"/>
<polygon points="779.5,441.9 791.8,431.4 781.6,432.4 769.3,442.9" fill="#88ff00"/>
<polygon points="720.1,488.8 732.4,476.7 722.5,478.1 710.3,490.1" fill="#2aff00"/>
<polygon points="1192.6,335.8 1204.0,333.6 1192.1,328.3 1180.7,330.5" fill="#ff9d00"/>
<polygon points="1051.3,332.5 1063.3,327.9 1051.8,325.5 1039.9,330.1" fill="#ff9700"/>
<polygon points="1251.3,350.5 1262.5,349.1 1250.5,342.4 1239.3,343.8" fill="#ffb600"/>
<polygon points="1169.1,333.0 1180.7,330.5 1168.8,325.7 1157.2,328.2" fill="#ff9500"/>
<polygon points="862.2,392.3 874.5,383.8 863.8,384.0 851.6,392.6" fill="#efff00"/>
<polygon points="933.2,361.3 945.5,354.3 934.4,353.7 922.2,360.7" fill="#ffd000"/>
<polygon points="1074.9,330.8 1086.8,326.7 1075.2,323.8 1063.3,327.9" fill="#ff9000"/>
<polygon points="707.9,501.2 720.1,488.8 710.3,490.1 698.0,502.5" fill="#16ff00"/>
<polygon points="897.7,375.8 910.0,368.0 899.1,367.9 886.8,375.6" fill="#ffec00"/>
<polygon points="1145.6,331.2 1157.2,328.2 1145.4,323.9 1133.8,326.8" fill="#ff8f00"/>
<polygon points="1098.5,330.1 1110.3,326.3 1098.6,323.0 1086.8,326.7" fill="#ff8d00"/>
<polygon points="1122.0,330.2 1133.8,326.8 1122.0,323.0 1110.3,326.3" fill="#ff8d00"/>
<polygon points="1356.9,397.7 1367.6,397.4 1355.5,387.9 1344.8,388.2" fill="#efff00"/>
<polygon points="992.2,344.1 1004.4,338.4 993.1,336.9 981.0,342.6" fill="#ffaa00"/>
<polygon points="767.1,452.8 779.5,441.9 769.3,442.9 757.0,453.8" fill="#79ff00"/>
<polygon points="1286.6,364.0 1297.7,363.0 1285.6,355.3 1274.6,356.3" fill="#ffcc00"/>
<polygon points="814.5,420.6 826.9,410.9 816.5,411.5 804.1,421.2" fill="#bbff00"/>
<polygon points="1321.8,379.8 1332.7,379.1 1320.7,370.5 1309.8,371.1" fill="#ffea00"/>
<polygon points="695.6,514.0 707.9,501.2 698.0,502.5 685.8,515.2" fill="#02ff00"/>
<polygon points="1228.0,345.6 1239.3,343.8 1227.3,337.6 1216.0,339.4" fill="#ffa600"/>
<polygon points="1015.7,340.4 1027.8,335.0 1016.4,333.0 1004.4,338.4" fill="#ff9c00"/>
<polygon points="956.6,355.4 968.8,348.8 957.6,347.7 945.5,354.3" fill="#ffbb00"/>
<polygon points="683.4,527.2 695.6,514.0 685.8,515.2 673.7,528.4" fill="#00ff15"/>
<polygon points="754.8,464.1 767.1,452.8 757.0,453.8 744.7,465.1" fill="#6aff00"/>
<polygon points="849.8,401.3 862.2,392.3 851.6,392.6 839.2,401.5" fill="#e8ff00"/>
<polygon points="1204.5,341.5 1216.0,339.4 1204.0,333.6 1192.6,335.8" fill="#ff9900"/>
<polygon points="1369.0,407.8 1379.6,407.4 1367.6,397.4 1356.9,397.7" fill="#e4ff00"/>
<polygon points="1263.4,357.7 1274.6,356.3 1262.5,349.1 1251.3,350.5" fill="#ffb800"/>
<polygon points="920.9,368.6 933.2,361.3 922.2,360.7 910.0,368.0" fill="#ffd200"/>
<polygon points="885.3,384.0 897.7,375.8 886.8,375.6 874.5,383.8" fill="#fff100"/>
<polygon points="802.2,430.8 814.5,420.6 804.1,421.2 791.8,431.4" fill="#afff00"/>
<polygon points="671.2,540.7 683.4,527.2 673.7,528.4 661.5,541.9" fill="#00ff2c"/>
<polygon points="1039.3,337.4 1051.3,332.5 1039.9,330.1 1027.8,335.0" fill="#ff9100"/>
<polygon points="1333.9,388.9 1344.8,388.2 1332.7,379.1 1321.8,379.8" fill="#fff100"/>
<polygon points="1181.0,338.3 1192.6,335.8 1180.7,330.5 1169.1,333.0" fill="#ff8f00"/>
<polygon points="1298.7,372.2 1309.8,371.1 1297.7,363.0 1286.6,364.0" fill="#ffd100"/>
<polygon points="742.5,475.8 754.8,464.1 744.7,465.1 732.4,476.7" fill="#59ff00"/>
<polygon points="659.0,554.6 671.2,540.7 661.5,541.9 649.4,555.8" fill="#00ff45"/>
<polygon points="980.0,350.3 992.2,344.1 981.0,342.6 968.8,348.8" fill="#ffa900"/>
<polygon points="1062.9,335.4 1074.9,330.8 1063.3,327.9 1051.3,332.5" fill="#ff8a00"/>
<polygon points="1157.5,336.0 1169.1,333.0 1157.2,328.2 1145.6,331.2" fill="#ff8800"/>
<polygon points="646.8,568.9 659.0,554.6 649.4,555.8 637.3,570.0" fill="#00ff5e"/>
<polygon points="1086.6,334.2 1098.5,330.1 1086.8,326.7 1074.9,330.8" fill="#ff8500"/>
<polygon points="837.5,410.7 849.8,401.3 839.2,401.5 826.9,410.9" fill="#dfff00"/>
<polygon points="1240.0,352.3 1251.3,350.5 1239.3,343.8 1228.0,345.6" fill="#ffa600"/>
<polygon points="1133.8,334.5 1145.6,331.2 1133.8,326.8 1122.0,330.2" fill="#ff8400"/>
<polygon points="1381.0,418.3 1391.7,417.9 1379.6,407.4 1369.0,407.8" fill="#d8ff00"/>
<polygon points="1110.2,333.9 1122.0,330.2 1110.3,326.3 1098.5,330.1" fill="#ff8300"/>
<polygon points="634.7,583.6 646.8,568.9 637.3,570.0 625.2,584.6" fill="#00ff7a"/>
<polygon points="789.8,441.3 802.2,430.8 791.8,431.4 779.5,441.9" fill="#a2ff00"/>
<polygon points="730.1,487.8 742.5,475.8 732.4,476.7 720.1,488.8" fill="#47ff00"/>
<polygon points="622.6,598.6 634.7,583.6 625.2,584.6 613.2,599.6" fill="#00ff96"/>
<polygon points="944.3,362.3 956.6,355.4 945.5,354.3 933.2,361.3" fill="#ffbc00"/>
<polygon points="610.5,613.9 622.6,598.6 613.2,599.6 601.2,614.9" fill="#00ffb4"/>
<polygon points="873.0,392.5 885.3,384.0 874.5,383.8 862.2,392.3" fill="#fff700"/>
<polygon points="1003.6,346.1 1015.7,340.4 1004.4,338.4 992.2,344.1" fill="#ff9900"/>
<polygon points="908.6,376.4 920.9,368.6 910.0,368.0 897.7,375.8" fill="#ffd600"/>
<polygon points="1275.5,365.4 1286.6,364.0 1274.6,356.3 1263.4,357.7" fill="#ffba00"/>
<polygon points="1346.0,398.4 1356.9,397.7 1344.8,388.2 1333.9,388.9" fill="#fffa00"/>
<polygon points="1216.5,347.8 1228.0,345.6 1216.0,339.4 1204.5,341.5" fill="#ff9700"/>
<polygon points="1310.8,380.8 1321.8,379.8 1309.8,371.1 1298.7,372.2" fill="#ffd600"/>
<polygon points="717.8,500.3 730.1,487.8 720.1,488.8 707.9,501.2" fill="#33ff00"/>
<polygon points="1393.1,429.3 1403.7,428.9 1391.7,417.9 1381.0,418.3" fill="#caff00"/>
<polygon points="777.4,452.2 789.8,441.3 779.5,441.9 767.1,452.8" fill="#94ff00"/>
<polygon points="825.1,420.4 837.5,410.7 826.9,410.9 814.5,420.6" fill="#d4ff00"/>
<polygon points="1027.2,342.8 1039.3,337.4 1027.8,335.0 1015.7,340.4" fill="#ff8d00"/>
<polygon points="967.8,356.9 980.0,350.3 968.8,348.8 956.6,355.4" fill="#ffa800"/>
<polygon points="1193.0,344.1 1204.5,341.5 1192.6,335.8 1181.0,338.3" fill="#ff8c00"/>
<polygon points="705.5,513.1 717.8,500.3 707.9,501.2 695.6,514.0" fill="#1eff00"/>
<polygon points="1252.1,359.5 1263.4,357.7 1251.3,350.5 1240.0,352.3" fill="#ffa700"/>
<polygon points="1050.9,340.3 1062.9,335.4 1051.3,332.5 1039.3,337.4" fill="#ff8400"/>
<polygon points="860.6,401.5 873.0,392.5 862.2,392.3 849.8,401.3" fill="#ffff00"/>
<polygon points="1358.2,408.5 1369.0,407.8 1356.9,397.7 1346.0,398.4" fill="#f9ff00"/>
<polygon points="1169.4,341.3 1181.0,338.3 1169.1,333.0 1157.5,336.0" fill="#ff8300"/>
<polygon points="932.0,369.7 944.3,362.3 933.2,361.3 920.9,368.6" fill="#ffbe00"/>
<polygon points="765.0,463.5 777.4,452.2 767.1,452.8 754.8,464.1" fill="#85ff00"/>
<polygon points="1405.2,440.7 1415.8,440.3 1403.7,428.9 1393.1,429.3" fill="#bbff00"/>
<polygon points="896.2,384.6 908.6,376.4 897.7,375.8 885.3,384.0" fill="#ffdb00"/>
<polygon points="1074.6,338.8 1086.6,334.2 1074.9,330.8 1062.9,335.4" fill="#ff7e00"/>
<polygon points="693.2,526.3 705.5,513.1 695.6,514.0 683.4,527.2" fill="#08ff00"/>
<polygon points="1145.7,339.3 1157.5,336.0 1145.6,331.2 1133.8,334.5" fill="#ff7d00"/>
<polygon points="1287.6,373.6 1298.7,372.2 1286.6,364.0 1275.5,365.4" fill="#ffbf00"/>
<polygon points="1323.0,389.9 1333.9,388.9 1321.8,379.8 1310.8,380.8" fill="#ffde00"/>
<polygon points="812.7,430.6 825.1,420.4 814.5,420.6 802.2,430.8" fill="#c9ff00"/>
<polygon points="1098.3,338.1 1110.2,333.9 1098.5,330.1 1086.6,334.2" fill="#ff7b00"/>
<polygon points="1122.0,338.3 1133.8,334.5 1122.0,330.2 1110.2,333.9" fill="#ff7a00"/>
<polygon points="991.4,352.3 1003.6,346.1 992.2,344.1 980.0,350.3" fill="#ff9800"/>
<polygon points="680.9,539.9 693.2,526.3 683.4,527.2 671.2,540.7" fill="#00ff0f"/>
<polygon points="1228.6,354.5 1240.0,352.3 1228.0,345.6 1216.5,347.8" fill="#ff9700"/>
<polygon points="752.6,475.3 765.0,463.5 754.8,464.1 742.5,475.8" fill="#74ff00"/>
<polygon points="1417.3,452.6 1427.8,452.2 1415.8,440.3 1405.2,440.7" fill="#abff00"/>
<polygon points="668.7,553.9 680.9,539.9 671.2,540.7 659.0,554.6" fill="#00ff27"/>
<polygon points="1370.3,419.0 1381.0,418.3 1369.0,407.8 1358.2,408.5" fill="#edff00"/>
<polygon points="848.2,410.9 860.6,401.5 849.8,401.3 837.5,410.7" fill="#f6ff00"/>
<polygon points="955.5,363.9 967.8,356.9 956.6,355.4 944.3,362.3" fill="#ffa900"/>
<polygon points="1015.1,348.6 1027.2,342.8 1015.7,340.4 1003.6,346.1" fill="#ff8a00"/>
<polygon points="656.5,568.2 668.7,553.9 659.0,554.6 646.8,568.9" fill="#00ff41"/>
<polygon points="1205.0,350.3 1216.5,347.8 1204.5,341.5 1193.0,344.1" fill="#ff8900"/>
<polygon points="800.3,441.1 812.7,430.6 802.2,430.8 789.8,441.3" fill="#bcff00"/>
<polygon points="1264.2,367.2 1275.5,365.4 1263.4,357.7 1252.1,359.5" fill="#ffaa00"/>
<polygon points="883.8,393.2 896.2,384.6 885.3,384.0 873.0,392.5" fill="#ffe100"/>
<polygon points="919.6,377.5 932.0,369.7 920.9,368.6 908.6,376.4" fill="#ffc200"/>
<polygon points="644.3,582.9 656.5,568.2 646.8,568.9 634.7,583.6" fill="#00ff5c"/>
<polygon points="1335.1,399.5 1346.0,398.4 1333.9,388.9 1323.0,389.9" fill="#ffe700"/>
<polygon points="740.3,487.4 752.6,475.3 742.5,475.8 730.1,487.8" fill="#62ff00"/>
<polygon points="1429.3,465.0 1439.8,464.6 1427.8,452.2 1417.3,452.6" fill="#98ff00"/>
<polygon points="1299.7,382.2 1310.8,380.8 1298.7,372.2 1287.6,373.6" fill="#ffc400"/>
<polygon points="632.2,598.0 644.3,582.9 634.7,583.6 622.6,598.6" fill="#00ff79"/>
<polygon points="1038.8,345.7 1050.9,340.3 1039.3,337.4 1027.2,342.8" fill="#ff8000"/>
<polygon points="620.0,613.4 632.2,598.0 622.6,598.6 610.5,613.9" fill="#00ff96"/>
<polygon points="1181.4,347.0 1193.0,344.1 1181.0,338.3 1169.4,341.3" fill="#ff7f00"/>
<polygon points="1382.4,430.0 1393.1,429.3 1381.0,418.3 1370.3,419.0" fill="#e0ff00"/>
<polygon points="979.1,358.9 991.4,352.3 980.0,350.3 967.8,356.9" fill="#ff9800"/>
<polygon points="1062.5,343.7 1074.6,338.8 1062.9,335.4 1050.9,340.3" fill="#ff7800"/>
<polygon points="727.9,499.8 740.3,487.4 730.1,487.8 717.8,500.3" fill="#4eff00"/>
<polygon points="835.7,420.7 848.2,410.9 837.5,410.7 825.1,420.4" fill="#ecff00"/>
<polygon points="1157.6,344.6 1169.4,341.3 1157.5,336.0 1145.7,339.3" fill="#ff7800"/>
<polygon points="787.8,452.1 800.3,441.1 789.8,441.3 777.4,452.2" fill="#aeff00"/>
<polygon points="1441.3,477.9 1451.8,477.4 1439.8,464.6 1429.3,465.0" fill="#84ff00"/>
<polygon points="1240.7,361.7 1252.1,359.5 1240.0,352.3 1228.6,354.5" fill="#ff9800"/>
<polygon points="1086.3,342.6 1098.3,338.1 1086.6,334.2 1074.6,338.8" fill="#ff7400"/>
<polygon points="1133.9,343.1 1145.7,339.3 1133.8,334.5 1122.0,338.3" fill="#ff7300"/>
<polygon points="1110.1,342.4 1122.0,338.3 1110.2,333.9 1098.3,338.1" fill="#ff7200"/>
<polygon points="1347.3,409.6 1358.2,408.5 1346.0,398.4 1335.1,399.5" fill="#fff100"/>
<polygon points="943.2,371.2 955.5,363.9 944.3,362.3 932.0,369.7" fill="#ffac00"/>
<polygon points="871.4,402.2 883.8,393.2 873.0,392.5 860.6,401.5" fill="#ffe900"/>
<polygon points="715.5,512.7 727.9,499.8 717.8,500.3 705.5,513.1" fill="#3aff00"/>
<polygon points="1276.3,375.4 1287.6,373.6 1275.5,365.4 1264.2,367.2" fill="#ffae00"/>
<polygon points="1453.3,491.2 1463.7,490.7 1451.8,477.4 1441.3,477.9" fill="#6fff00"/>
<polygon points="1394.5,441.5 1405.2,440.7 1393.1,429.3 1382.4,430.0" fill="#d0ff00"/>
<polygon points="907.3,385.7 919.6,377.5 908.6,376.4 896.2,384.6" fill="#ffc700"/>
<polygon points="1002.8,354.7 1015.1,348.6 1003.6,346.1 991.4,352.3" fill="#ff8900"/>
<polygon points="1311.9,391.4 1323.0,389.9 1310.8,380.8 1299.7,382.2" fill="#ffcc00"/>
<polygon points="1217.1,357.1 1228.6,354.5 1216.5,347.8 1205.0,350.3" fill="#ff8900"/>
<polygon points="775.4,463.4 787.8,452.1 777.4,452.2 765.0,463.5" fill="#9eff00"/>
<polygon points="823.3,430.8 835.7,420.7 825.1,420.4 812.7,430.6" fill="#e0ff00"/>
<polygon points="1465.3,504.9 1475.7,504.4 1463.7,490.7 1453.3,491.2" fill="#58ff00"/>
<polygon points="703.2,526.0 715.5,512.7 705.5,513.1 693.2,526.3" fill="#24ff00"/>
<polygon points="1026.6,351.5 1038.8,345.7 1027.2,342.8 1015.1,348.6" fill="#ff7d00"/>
<polygon points="1193.4,353.3 1205.0,350.3 1193.0,344.1 1181.4,347.0" fill="#ff7d00"/>
<polygon points="1406.6,453.5 1417.3,452.6 1405.2,440.7 1394.5,441.5" fill="#c0ff00"/>
<polygon points="1477.3,519.1 1487.6,518.6 1475.7,504.4 1465.3,504.9" fill="#40ff00"/>
<polygon points="966.8,365.8 979.1,358.9 967.8,356.9 955.5,363.9" fill="#ff9900"/>
<polygon points="1359.4,420.1 1370.3,419.0 1358.2,408.5 1347.3,409.6" fill="#fffd00"/>
<polygon points="690.9,539.6 703.2,526.0 693.2,526.3 680.9,539.9" fill="#0dff00"/>
<polygon points="1252.8,369.4 1264.2,367.2 1252.1,359.5 1240.7,361.7" fill="#ff9a00"/>
<polygon points="763.0,475.2 775.4,463.4 765.0,463.5 752.6,475.3" fill="#8dff00"/>
<polygon points="859.0,411.6 871.4,402.2 860.6,401.5 848.2,410.9" fill="#fff200"/>
<polygon points="1489.2,533.8 1499.4,533.2 1487.6,518.6 1477.3,519.1" fill="#26ff00"/>
<polygon points="1050.4,349.1 1062.5,343.7 1050.9,340.3 1038.8,345.7" fill="#ff7400"/>
<polygon points="1169.6,350.4 1181.4,347.0 1169.4,341.3 1157.6,344.6" fill="#ff7400"/>
<polygon points="678.6,553.6 690.9,539.6 680.9,539.9 668.7,553.9" fill="#00ff0c"/>
<polygon points="930.8,379.0 943.2,371.2 932.0,369.7 919.6,377.5" fill="#ffaf00"/>
<polygon points="1324.0,401.0 1335.1,399.5 1323.0,389.9 1311.9,391.4" fill="#ffd400"/>
<polygon points="1288.5,384.0 1299.7,382.2 1287.6,373.6 1276.3,375.4" fill="#ffb400"/>
<polygon points="894.8,394.3 907.3,385.7 896.2,384.6 883.8,393.2" fill="#ffcd00"/>
<polygon points="1501.0,548.9 1511.2,548.2 1499.4,533.2 1489.2,533.8" fill="#0bff00"/>
<polygon points="810.8,441.4 823.3,430.8 812.7,430.6 800.3,441.1" fill="#d4ff00"/>
<polygon points="1074.3,347.6 1086.3,342.6 1074.6,338.8 1062.5,343.7" fill="#ff6e00"/>
<polygon points="1145.8,348.3 1157.6,344.6 1145.7,339.3 1133.9,343.1" fill="#ff6e00"/>
<polygon points="1418.7,465.9 1429.3,465.0 1417.3,452.6 1406.6,453.5" fill="#aeff00"/>
<polygon points="1512.8,564.4 1523.0,563.7 1511.2,548.2 1501.0,548.9" fill="#00ff12"/>
<polygon points="666.3,568.0 678.6,553.6 668.7,553.9 656.5,568.2" fill="#00ff25"/>
<polygon points="1536.3,596.8 1546.3,596.0 1534.7,579.6 1524.6,580.4" fill="#00ff51"/>
<polygon points="1524.6,580.4 1534.7,579.6 1523.0,563.7 1512.8,564.4" fill="#00ff31"/>
<polygon points="1098.1,346.9 1110.1,342.4 1098.3,338.1 1086.3,342.6" fill="#ff6b00"/>
<polygon points="1122.0,347.2 1133.9,343.1 1122.0,338.3 1110.1,342.4" fill="#ff6b00"/>
<polygon points="990.6,361.3 1002.8,354.7 991.4,352.3 979.1,358.9" fill="#ff8800"/>
<polygon points="750.5,487.3 763.0,475.2 752.6,475.3 740.3,487.4" fill="#7bff00"/>
<polygon points="1229.2,364.3 1240.7,361.7 1228.6,354.5 1217.1,357.1" fill="#ff8a00"/>
<polygon points="654.1,582.7 666.3,568.0 656.5,568.2 644.3,582.9" fill="#00ff40"/>
<polygon points="1371.6,431.2 1382.4,430.0 1370.3,419.0 1359.4,420.1" fill="#f3ff00"/>
<polygon points="641.9,597.8 654.1,582.7 644.3,582.9 632.2,598.0" fill="#00ff5d"/>
<polygon points="629.7,613.3 641.9,597.8 632.2,598.0 620.0,613.4" fill="#00ff7a"/>
<polygon points="1430.8,478.7 1441.3,477.9 1429.3,465.0 1418.7,465.9" fill="#9aff00"/>
<polygon points="846.5,421.3 859.0,411.6 848.2,410.9 835.7,420.7" fill="#fffc00"/>
<polygon points="798.4,452.4 810.8,441.4 800.3,441.1 787.8,452.1" fill="#c5ff00"/>
<polygon points="954.5,373.2 966.8,365.8 955.5,363.9 943.2,371.2" fill="#ff9b00"/>
<polygon points="738.1,499.8 750.5,487.3 740.3,487.4 727.9,499.8" fill="#68ff00"/>
<polygon points="1014.4,357.6 1026.6,351.5 1015.1,348.6 1002.8,354.7" fill="#ff7b00"/>
<polygon points="1265.0,377.6 1276.3,375.4 1264.2,367.2 1252.8,369.4" fill="#ff9e00"/>
<polygon points="1336.2,411.1 1347.3,409.6 1335.1,399.5 1324.0,401.0" fill="#ffdf00"/>
<polygon points="1205.5,360.0 1217.1,357.1 1205.0,350.3 1193.4,353.3" fill="#ff7c00"/>
<polygon points="882.4,403.3 894.8,394.3 883.8,393.2 871.4,402.2" fill="#ffd500"/>
<polygon points="1300.7,393.2 1311.9,391.4 1299.7,382.2 1288.5,384.0" fill="#ffbb00"/>
<polygon points="918.4,387.2 930.8,379.0 919.6,377.5 907.3,385.7" fill="#ffb400"/>
<polygon points="1383.7,442.7 1394.5,441.5 1382.4,430.0 1371.6,431.2" fill="#e4ff00"/>
<polygon points="1442.8,492.1 1453.3,491.2 1441.3,477.9 1430.8,478.7" fill="#85ff00"/>
<polygon points="725.7,512.7 738.1,499.8 727.9,499.8 715.5,512.7" fill="#54ff00"/>
<polygon points="1038.2,354.8 1050.4,349.1 1038.8,345.7 1026.6,351.5" fill="#ff7100"/>
<polygon points="1181.7,356.6 1193.4,353.3 1181.4,347.0 1169.6,350.4" fill="#ff7200"/>
<polygon points="785.9,463.8 798.4,452.4 787.8,452.1 775.4,463.4" fill="#b6ff00"/>
<polygon points="1454.9,505.9 1465.3,504.9 1453.3,491.2 1442.8,492.1" fill="#6eff00"/>
<polygon points="834.0,431.5 846.5,421.3 835.7,420.7 823.3,430.8" fill="#f6ff00"/>
<polygon points="978.2,368.3 990.6,361.3 979.1,358.9 966.8,365.8" fill="#ff8900"/>
<polygon points="1241.3,372.0 1252.8,369.4 1240.7,361.7 1229.2,364.3" fill="#ff8c00"/>
<polygon points="1062.1,352.9 1074.3,347.6 1062.5,343.7 1050.4,349.1" fill="#ff6900"/>
<polygon points="1157.8,354.1 1169.6,350.4 1157.6,344.6 1145.8,348.3" fill="#ff6a00"/>
<polygon points="713.3,526.0 725.7,512.7 715.5,512.7 703.2,526.0" fill="#3eff00"/>
<polygon points="1348.4,421.6 1359.4,420.1 1347.3,409.6 1336.2,411.1" fill="#ffeb00"/>
<polygon points="1395.9,454.6 1406.6,453.5 1394.5,441.5 1383.7,442.7" fill="#d4ff00"/>
<polygon points="1086.1,351.9 1098.1,346.9 1086.3,342.6 1074.3,347.6" fill="#ff6500"/>
<polygon points="1466.8,520.1 1477.3,519.1 1465.3,504.9 1454.9,505.9" fill="#56ff00"/>
<polygon points="1133.9,352.5 1145.8,348.3 1133.9,343.1 1122.0,347.2" fill="#ff6500"/>
<polygon points="1110.0,351.8 1122.0,347.2 1110.1,342.4 1098.1,346.9" fill="#ff6400"/>
<polygon points="1277.2,386.2 1288.5,384.0 1276.3,375.4 1265.0,377.6" fill="#ffa400"/>
<polygon points="869.9,412.7 882.4,403.3 871.4,402.2 859.0,411.6" fill="#ffdd00"/>
<polygon points="1312.9,402.8 1324.0,401.0 1311.9,391.4 1300.7,393.2" fill="#ffc300"/>
<polygon points="942.1,381.0 954.5,373.2 943.2,371.2 930.8,379.0" fill="#ff9e00"/>
<polygon points="700.9,539.7 713.3,526.0 703.2,526.0 690.9,539.6" fill="#27ff00"/>
<polygon points="1478.8,534.8 1489.2,533.8 1477.3,519.1 1466.8,520.1" fill="#3cff00"/>
<polygon points="773.4,475.5 785.9,463.8 775.4,463.4 763.0,475.2" fill="#a5ff00"/>
<polygon points="905.9,395.8 918.4,387.2 907.3,385.7 894.8,394.3" fill="#ffba00"/>
<polygon points="1002.1,364.2 1014.4,357.6 1002.8,354.7 990.6,361.3" fill="#ff7b00"/>
<polygon points="1217.6,367.2 1229.2,364.3 1217.1,357.1 1205.5,360.0" fill="#ff7d00"/>
<polygon points="1490.7,549.9 1501.0,548.9 1489.2,533.8 1478.8,534.8" fill="#20ff00"/>
<polygon points="821.5,442.1 834.0,431.5 823.3,430.8 810.8,441.4" fill="#eaff00"/>
<polygon points="1408.0,467.1 1418.7,465.9 1406.6,453.5 1395.9,454.6" fill="#c2ff00"/>
<polygon points="688.6,553.7 700.9,539.7 690.9,539.6 678.6,553.6" fill="#0eff00"/>
<polygon points="1502.6,565.5 1512.8,564.4 1501.0,548.9 1490.7,549.9" fill="#04ff00"/>
<polygon points="1514.4,581.5 1524.6,580.4 1512.8,564.4 1502.6,565.5" fill="#00ff1b"/>
<polygon points="1526.1,597.9 1536.3,596.8 1524.6,580.4 1514.4,581.5" fill="#00ff3b"/>
<polygon points="1360.6,432.7 1371.6,431.2 1359.4,420.1 1348.4,421.6" fill="#fff800"/>
<polygon points="676.3,568.1 688.6,553.7 678.6,553.6 666.3,568.0" fill="#00ff0b"/>
<polygon points="760.9,487.7 773.4,475.5 763.0,475.2 750.5,487.3" fill="#94ff00"/>
<polygon points="1026.0,361.0 1038.2,354.8 1026.6,351.5 1014.4,357.6" fill="#ff6f00"/>
<polygon points="1193.8,363.4 1205.5,360.0 1193.4,353.3 1181.7,356.6" fill="#ff7100"/>
<polygon points="1253.5,380.2 1265.0,377.6 1252.8,369.4 1241.3,372.0" fill="#ff9000"/>
<polygon points="965.9,375.7 978.2,368.3 966.8,365.8 954.5,373.2" fill="#ff8b00"/>
<polygon points="664.0,582.9 676.3,568.1 666.3,568.0 654.1,582.7" fill="#00ff26"/>
<polygon points="1420.1,480.0 1430.8,478.7 1418.7,465.9 1408.0,467.1" fill="#aeff00"/>
<polygon points="857.4,422.5 869.9,412.7 859.0,411.6 846.5,421.3" fill="#ffe800"/>
<polygon points="1325.1,412.9 1336.2,411.1 1324.0,401.0 1312.9,402.8" fill="#ffce00"/>
<polygon points="651.7,598.0 664.0,582.9 654.1,582.7 641.9,597.8" fill="#00ff42"/>
<polygon points="1289.4,395.4 1300.7,393.2 1288.5,384.0 1277.2,386.2" fill="#ffab00"/>
<polygon points="639.5,613.6 651.7,598.0 641.9,597.8 629.7,613.3" fill="#00ff60"/>
<polygon points="809.0,453.1 821.5,442.1 810.8,441.4 798.4,452.4" fill="#dcff00"/>
<polygon points="1049.9,358.7 1062.1,352.9 1050.4,349.1 1038.2,354.8" fill="#ff6600"/>
<polygon points="1169.9,360.4 1181.7,356.6 1169.6,350.4 1157.8,354.1" fill="#ff6800"/>
<polygon points="929.6,389.2 942.1,381.0 930.8,379.0 918.4,387.2" fill="#ffa300"/>
<polygon points="893.5,404.8 905.9,395.8 894.8,394.3 882.4,403.3" fill="#ffc200"/>
<polygon points="748.5,500.2 760.9,487.7 750.5,487.3 738.1,499.8" fill="#80ff00"/>
<polygon points="1372.8,444.2 1383.7,442.7 1371.6,431.2 1360.6,432.7" fill="#f7ff00"/>
<polygon points="1432.2,493.3 1442.8,492.1 1430.8,478.7 1420.1,480.0" fill="#99ff00"/>
<polygon points="1073.9,357.3 1086.1,351.9 1074.3,347.6 1062.1,352.9" fill="#ff6100"/>
<polygon points="1145.9,358.3 1157.8,354.1 1145.8,348.3 1133.9,352.5" fill="#ff6100"/>
<polygon points="1097.9,356.7 1110.0,351.8 1098.1,346.9 1086.1,351.9" fill="#ff5e00"/>
<polygon points="1121.9,357.1 1133.9,352.5 1122.0,347.2 1110.0,351.8" fill="#ff5e00"/>
<polygon points="1229.8,374.9 1241.3,372.0 1229.2,364.3 1217.6,367.2" fill="#ff7f00"/>
<polygon points="989.7,371.2 1002.1,364.2 990.6,361.3 978.2,368.3" fill="#ff7b00"/>
<polygon points="736.0,513.2 748.5,500.2 738.1,499.8 725.7,512.7" fill="#6cff00"/>
<polygon points="1444.3,507.2 1454.9,505.9 1442.8,492.1 1432.2,493.3" fill="#82ff00"/>
<polygon points="844.9,432.7 857.4,422.5 846.5,421.3 834.0,431.5" fill="#fff300"/>
<polygon points="796.5,464.5 809.0,453.1 798.4,452.4 785.9,463.8" fill="#cdff00"/>
<polygon points="1337.3,423.5 1348.4,421.6 1336.2,411.1 1325.1,412.9" fill="#ffda00"/>
<polygon points="1385.0,456.2 1395.9,454.6 1383.7,442.7 1372.8,444.2" fill="#e6ff00"/>
<polygon points="1265.7,388.8 1277.2,386.2 1265.0,377.6 1253.5,380.2" fill="#ff9600"/>
<polygon points="1301.6,405.0 1312.9,402.8 1300.7,393.2 1289.4,395.4" fill="#ffb400"/>
<polygon points="953.4,383.5 965.9,375.7 954.5,373.2 942.1,381.0" fill="#ff8f00"/>
<polygon points="1456.3,521.4 1466.8,520.1 1454.9,505.9 1444.3,507.2" fill="#6aff00"/>
<polygon points="1205.9,370.6 1217.6,367.2 1205.5,360.0 1193.8,363.4" fill="#ff7200"/>
<polygon points="1013.7,367.6 1026.0,361.0 1014.4,357.6 1002.1,364.2" fill="#ff6e00"/>
<polygon points="723.6,526.5 736.0,513.2 725.7,512.7 713.3,526.0" fill="#56ff00"/>
<polygon points="880.9,414.3 893.5,404.8 882.4,403.3 869.9,412.7" fill="#ffcb00"/>
<polygon points="917.1,397.8 929.6,389.2 918.4,387.2 905.9,395.8" fill="#ffa900"/>
<polygon points="1468.3,536.2 1478.8,534.8 1466.8,520.1 1456.3,521.4" fill="#50ff00"/>
<polygon points="784.0,476.3 796.5,464.5 785.9,463.8 773.4,475.5" fill="#bcff00"/>
<polygon points="711.1,540.2 723.6,526.5 713.3,526.0 700.9,539.7" fill="#3fff00"/>
<polygon points="1397.1,468.6 1408.0,467.1 1395.9,454.6 1385.0,456.2" fill="#d4ff00"/>
<polygon points="1480.2,551.3 1490.7,549.9 1478.8,534.8 1468.3,536.2" fill="#35ff00"/>
<polygon points="1182.0,367.1 1193.8,363.4 1181.7,356.6 1169.9,360.4" fill="#ff6700"/>
<polygon points="1037.7,364.9 1049.9,358.7 1038.2,354.8 1026.0,361.0" fill="#ff6400"/>
<polygon points="832.3,443.3 844.9,432.7 834.0,431.5 821.5,442.1" fill="#feff00"/>
<polygon points="1349.5,434.6 1360.6,432.7 1348.4,421.6 1337.3,423.5" fill="#ffe700"/>
<polygon points="1492.2,566.9 1502.6,565.5 1490.7,549.9 1480.2,551.3" fill="#18ff00"/>
<polygon points="1242.0,383.2 1253.5,380.2 1241.3,372.0 1229.8,374.9" fill="#ff8300"/>
<polygon points="1504.0,583.0 1514.4,581.5 1502.6,565.5 1492.2,566.9" fill="#00ff06"/>
<polygon points="1515.8,599.5 1526.1,597.9 1514.4,581.5 1504.0,583.0" fill="#00ff26"/>
<polygon points="977.3,378.6 989.7,371.2 978.2,368.3 965.9,375.7" fill="#ff7d00"/>
<polygon points="698.7,554.3 711.1,540.2 700.9,539.7 688.6,553.7" fill="#27ff00"/>
<polygon points="1158.0,364.5 1169.9,360.4 1157.8,354.1 1145.9,358.3" fill="#ff5f00"/>
<polygon points="1061.7,363.0 1073.9,357.3 1062.1,352.9 1049.9,358.7" fill="#ff5d00"/>
<polygon points="1313.8,415.2 1325.1,412.9 1312.9,402.8 1301.6,405.0" fill="#ffbe00"/>
<polygon points="1278.0,398.0 1289.4,395.4 1277.2,386.2 1265.7,388.8" fill="#ff9d00"/>
<polygon points="771.5,488.5 784.0,476.3 773.4,475.5 760.9,487.7" fill="#aaff00"/>
<polygon points="1409.3,481.6 1420.1,480.0 1408.0,467.1 1397.1,468.6" fill="#c1ff00"/>
<polygon points="1133.9,362.8 1145.9,358.3 1133.9,352.5 1121.9,357.1" fill="#ff5a00"/>
<polygon points="1085.8,362.1 1097.9,356.7 1086.1,351.9 1073.9,357.3" fill="#ff5900"/>
<polygon points="686.4,568.7 698.7,554.3 688.6,553.7 676.3,568.1" fill="#0dff00"/>
<polygon points="868.4,424.1 880.9,414.3 869.9,412.7 857.4,422.5" fill="#ffd500"/>
<polygon points="1109.9,362.0 1121.9,357.1 1110.0,351.8 1097.9,356.7" fill="#ff5800"/>
<polygon points="941.0,391.7 953.4,383.5 942.1,381.0 929.6,389.2" fill="#ff9300"/>
<polygon points="674.0,583.5 686.4,568.7 676.3,568.1 664.0,582.9" fill="#00ff0d"/>
<polygon points="904.6,406.9 917.1,397.8 905.9,395.8 893.5,404.8" fill="#ffb100"/>
<polygon points="1361.8,446.1 1372.8,444.2 1360.6,432.7 1349.5,434.6" fill="#fff600"/>
<polygon points="819.8,454.3 832.3,443.3 821.5,442.1 809.0,453.1" fill="#f1ff00"/>
<polygon points="1218.1,378.3 1229.8,374.9 1217.6,367.2 1205.9,370.6" fill="#ff7400"/>
<polygon points="661.7,598.7 674.0,583.5 664.0,582.9 651.7,598.0" fill="#00ff29"/>
<polygon points="1001.3,374.6 1013.7,367.6 1002.1,364.2 989.7,371.2" fill="#ff6f00"/>
<polygon points="1421.4,495.0 1432.2,493.3 1420.1,480.0 1409.3,481.6" fill="#acff00"/>
<polygon points="649.4,614.3 661.7,598.7 651.7,598.0 639.5,613.6" fill="#00ff47"/>
<polygon points="758.9,501.1 771.5,488.5 760.9,487.7 748.5,500.2" fill="#97ff00"/>
<polygon points="1326.1,425.8 1337.3,423.5 1325.1,412.9 1313.8,415.2" fill="#ffca00"/>
<polygon points="1254.2,391.8 1265.7,388.8 1253.5,380.2 1242.0,383.2" fill="#ff8900"/>
<polygon points="1194.1,374.4 1205.9,370.6 1193.8,363.4 1182.0,367.1" fill="#ff6700"/>
<polygon points="1433.5,508.8 1444.3,507.2 1432.2,493.3 1421.4,495.0" fill="#95ff00"/>
<polygon points="1025.4,371.5 1037.7,364.9 1026.0,361.0 1013.7,367.6" fill="#ff6400"/>
<polygon points="855.9,434.3 868.4,424.1 857.4,422.5 844.9,432.7" fill="#ffe000"/>
<polygon points="1374.0,458.1 1385.0,456.2 1372.8,444.2 1361.8,446.1" fill="#f8ff00"/>
<polygon points="1290.2,407.7 1301.6,405.0 1289.4,395.4 1278.0,398.0" fill="#ffa500"/>
<polygon points="964.9,386.4 977.3,378.6 965.9,375.7 953.4,383.5" fill="#ff8100"/>
<polygon points="746.4,514.1 758.9,501.1 748.5,500.2 736.0,513.2" fill="#83ff00"/>
<polygon points="807.2,465.8 819.8,454.3 809.0,453.1 796.5,464.5" fill="#e1ff00"/>
<polygon points="1445.6,523.1 1456.3,521.4 1444.3,507.2 1433.5,508.8" fill="#7dff00"/>
<polygon points="1170.1,371.3 1182.0,367.1 1169.9,360.4 1158.0,364.5" fill="#ff5e00"/>
<polygon points="892.1,416.3 904.6,406.9 893.5,404.8 880.9,414.3" fill="#ffb900"/>
<polygon points="928.5,400.3 941.0,391.7 929.6,389.2 917.1,397.8" fill="#ff9900"/>
<polygon points="1049.5,369.2 1061.7,363.0 1049.9,358.7 1037.7,364.9" fill="#ff5b00"/>
<polygon points="733.9,527.4 746.4,514.1 736.0,513.2 723.6,526.5" fill="#6dff00"/>
<polygon points="1457.7,537.9 1468.3,536.2 1456.3,521.4 1445.6,523.1" fill="#64ff00"/>
<polygon points="1146.0,369.1 1158.0,364.5 1145.9,358.3 1133.9,362.8" fill="#ff5700"/>
<polygon points="1073.6,367.9 1085.8,362.1 1073.9,357.3 1061.7,363.0" fill="#ff5600"/>
<polygon points="1230.3,386.5 1242.0,383.2 1229.8,374.9 1218.1,378.3" fill="#ff7800"/>
<polygon points="1386.2,470.6 1397.1,468.6 1385.0,456.2 1374.0,458.1" fill="#e6ff00"/>
<polygon points="1338.3,436.8 1349.5,434.6 1337.3,423.5 1326.1,425.8" fill="#ffd700"/>
<polygon points="1121.9,367.8 1133.9,362.8 1121.9,357.1 1109.9,362.0" fill="#ff5400"/>
<polygon points="1097.7,367.4 1109.9,362.0 1097.9,356.7 1085.8,362.1" fill="#ff5300"/>
<polygon points="794.7,477.6 807.2,465.8 796.5,464.5 784.0,476.3" fill="#d1ff00"/>
<polygon points="988.9,382.0 1001.3,374.6 989.7,371.2 977.3,378.6" fill="#ff7100"/>
<polygon points="1469.7,553.1 1480.2,551.3 1468.3,536.2 1457.7,537.9" fill="#48ff00"/>
<polygon points="843.3,445.0 855.9,434.3 844.9,432.7 832.3,443.3" fill="#ffec00"/>
<polygon points="721.5,541.2 733.9,527.4 723.6,526.5 711.1,540.2" fill="#56ff00"/>
<polygon points="1481.6,568.8 1492.2,566.9 1480.2,551.3 1469.7,553.1" fill="#2cff00"/>
<polygon points="1493.5,584.8 1504.0,583.0 1492.2,566.9 1481.6,568.8" fill="#0dff00"/>
<polygon points="1266.4,401.0 1278.0,398.0 1265.7,388.8 1254.2,391.8" fill="#ff9000"/>
<polygon points="1505.4,601.4 1515.8,599.5 1504.0,583.0 1493.5,584.8" fill="#00ff12"/>
<polygon points="1302.5,417.8 1313.8,415.2 1301.6,405.0 1290.2,407.7" fill="#ffaf00"/>
<polygon points="1398.4,483.6 1409.3,481.6 1397.1,468.6 1386.2,470.6" fill="#d3ff00"/>
<polygon points="1206.3,382.1 1218.1,378.3 1205.9,370.6 1194.1,374.4" fill="#ff6a00"/>
<polygon points="709.0,555.3 721.5,541.2 711.1,540.2 698.7,554.3" fill="#3eff00"/>
<polygon points="952.4,394.6 964.9,386.4 953.4,383.5 941.0,391.7" fill="#ff8500"/>
<polygon points="879.5,426.1 892.1,416.3 880.9,414.3 868.4,424.1" fill="#ffc300"/>
<polygon points="1013.0,378.5 1025.4,371.5 1013.7,367.6 1001.3,374.6" fill="#ff6400"/>
<polygon points="782.1,489.8 794.7,477.6 784.0,476.3 771.5,488.5" fill="#bfff00"/>
<polygon points="915.9,409.4 928.5,400.3 917.1,397.8 904.6,406.9" fill="#ffa100"/>
<polygon points="1350.6,448.4 1361.8,446.1 1349.5,434.6 1338.3,436.8" fill="#ffe600"/>
<polygon points="696.6,569.8 709.0,555.3 698.7,554.3 686.4,568.7" fill="#25ff00"/>
<polygon points="830.7,456.0 843.3,445.0 832.3,443.3 819.8,454.3" fill="#fffa00"/>
<polygon points="1410.5,497.0 1421.4,495.0 1409.3,481.6 1398.4,483.6" fill="#beff00"/>
<polygon points="1182.3,378.5 1194.1,374.4 1182.0,367.1 1170.1,371.3" fill="#ff5e00"/>
<polygon points="684.2,584.6 696.6,569.8 686.4,568.7 674.0,583.5" fill="#0aff00"/>
<polygon points="1037.1,375.8 1049.5,369.2 1037.7,364.9 1025.4,371.5" fill="#ff5b00"/>
<polygon points="1242.6,395.2 1254.2,391.8 1242.0,383.2 1230.3,386.5" fill="#ff7d00"/>
<polygon points="671.8,599.8 684.2,584.6 674.0,583.5 661.7,598.7" fill="#00ff12"/>
<polygon points="1314.8,428.4 1326.1,425.8 1313.8,415.2 1302.5,417.8" fill="#ffbb00"/>
<polygon points="769.6,502.4 782.1,489.8 771.5,488.5 758.9,501.1" fill="#acff00"/>
<polygon points="659.5,615.4 671.8,599.8 661.7,598.7 649.4,614.3" fill="#00ff2f"/>
<polygon points="976.4,389.8 988.9,382.0 977.3,378.6 964.9,386.4" fill="#ff7400"/>
<polygon points="1278.7,410.7 1290.2,407.7 1278.0,398.0 1266.4,401.0" fill="#ff9800"/>
<polygon points="1158.1,375.9 1170.1,371.3 1158.0,364.5 1146.0,369.1" fill="#ff5600"/>
<polygon points="1061.3,374.0 1073.6,367.9 1061.7,363.0 1049.5,369.2" fill="#ff5400"/>
<polygon points="1422.7,510.9 1433.5,508.8 1421.4,495.0 1410.5,497.0" fill="#a7ff00"/>
<polygon points="1362.9,460.5 1374.0,458.1 1361.8,446.1 1350.6,448.4" fill="#fff600"/>
<polygon points="866.9,436.4 879.5,426.1 868.4,424.1 855.9,434.3" fill="#ffce00"/>
<polygon points="1134.0,374.1 1146.0,369.1 1133.9,362.8 1121.9,367.8" fill="#ff5100"/>
<polygon points="1085.5,373.2 1097.7,367.4 1085.8,362.1 1073.6,367.9" fill="#ff5000"/>
<polygon points="1109.8,373.2 1121.9,367.8 1109.9,362.0 1097.7,367.4" fill="#ff4f00"/>
<polygon points="818.1,467.4 830.7,456.0 819.8,454.3 807.2,465.8" fill="#f5ff00"/>
<polygon points="939.9,403.3 952.4,394.6 941.0,391.7 928.5,400.3" fill="#ff8b00"/>
<polygon points="757.0,515.4 769.6,502.4 758.9,501.1 746.4,514.1" fill="#98ff00"/>
<polygon points="903.3,418.8 915.9,409.4 904.6,406.9 892.1,416.3" fill="#ffa900"/>
<polygon points="1434.8,525.2 1445.6,523.1 1433.5,508.8 1422.7,510.9" fill="#8fff00"/>
<polygon points="1218.6,390.3 1230.3,386.5 1218.1,378.3 1206.3,382.1" fill="#ff6d00"/>
<polygon points="1000.6,385.9 1013.0,378.5 1001.3,374.6 988.9,382.0" fill="#ff6600"/>
<polygon points="1327.0,439.5 1338.3,436.8 1326.1,425.8 1314.8,428.4" fill="#ffc800"/>
<polygon points="1446.9,540.0 1457.7,537.9 1445.6,523.1 1434.8,525.2" fill="#76ff00"/>
<polygon points="1375.1,473.0 1386.2,470.6 1374.0,458.1 1362.9,460.5" fill="#f6ff00"/>
<polygon points="744.5,528.8 757.0,515.4 746.4,514.1 733.9,527.4" fill="#82ff00"/>
<polygon points="1254.8,404.4 1266.4,401.0 1254.2,391.8 1242.6,395.2" fill="#ff8400"/>
<polygon points="1459.0,555.3 1469.7,553.1 1457.7,537.9 1446.9,540.0" fill="#5aff00"/>
<polygon points="1291.0,420.8 1302.5,417.8 1290.2,407.7 1278.7,410.7" fill="#ffa200"/>
<polygon points="1194.5,386.3 1206.3,382.1 1194.1,374.4 1182.3,378.5" fill="#ff6100"/>
<polygon points="805.5,479.3 818.1,467.4 807.2,465.8 794.7,477.6" fill="#e4ff00"/>
<polygon points="854.3,447.1 866.9,436.4 855.9,434.3 843.3,445.0" fill="#ffdb00"/>
<polygon points="1471.0,570.9 1481.6,568.8 1469.7,553.1 1459.0,555.3" fill="#3eff00"/>
<polygon points="1024.8,382.8 1037.1,375.8 1025.4,371.5 1013.0,378.5" fill="#ff5b00"/>
<polygon points="1482.9,587.1 1493.5,584.8 1481.6,568.8 1471.0,570.9" fill="#20ff00"/>
<polygon points="1494.8,603.6 1505.4,601.4 1493.5,584.8 1482.9,587.1" fill="#00ff00"/>
<polygon points="963.9,398.1 976.4,389.8 964.9,386.4 952.4,394.6" fill="#ff7900"/>
<polygon points="731.9,542.6 744.5,528.8 733.9,527.4 721.5,541.2" fill="#6cff00"/>
<polygon points="1387.3,485.9 1398.4,483.6 1386.2,470.6 1375.1,473.0" fill="#e3ff00"/>
<polygon points="890.8,428.7 903.3,418.8 892.1,416.3 879.5,426.1" fill="#ffb300"/>
<polygon points="1170.3,383.1 1182.3,378.5 1170.1,371.3 1158.1,375.9" fill="#ff5700"/>
<polygon points="927.3,412.3 939.9,403.3 928.5,400.3 915.9,409.4" fill="#ff9200"/>
<polygon points="1339.3,451.1 1350.6,448.4 1338.3,436.8 1327.0,439.5" fill="#ffd700"/>
<polygon points="1049.0,380.6 1061.3,374.0 1049.5,369.2 1037.1,375.8" fill="#ff5300"/>
<polygon points="719.4,556.7 731.9,542.6 721.5,541.2 709.0,555.3" fill="#54ff00"/>
<polygon points="792.9,491.5 805.5,479.3 794.7,477.6 782.1,489.8" fill="#d3ff00"/>
<polygon points="1230.8,399.0 1242.6,395.2 1230.3,386.5 1218.6,390.3" fill="#ff7300"/>
<polygon points="1146.1,380.8 1158.1,375.9 1146.0,369.1 1134.0,374.1" fill="#ff5000"/>
<polygon points="1073.3,379.4 1085.5,373.2 1073.6,367.9 1061.3,374.0" fill="#ff4e00"/>
<polygon points="1399.5,499.4 1410.5,497.0 1398.4,483.6 1387.3,485.9" fill="#ceff00"/>
<polygon points="841.7,458.1 854.3,447.1 843.3,445.0 830.7,456.0" fill="#ffe800"/>
<polygon points="1121.8,379.5 1134.0,374.1 1121.9,367.8 1109.8,373.2" fill="#ff4c00"/>
<polygon points="707.0,571.2 719.4,556.7 709.0,555.3 696.6,569.8" fill="#3aff00"/>
<polygon points="1097.5,379.0 1109.8,373.2 1097.7,367.4 1085.5,373.2" fill="#ff4c00"/>
<polygon points="1303.3,431.5 1314.8,428.4 1302.5,417.8 1291.0,420.8" fill="#ffae00"/>
<polygon points="988.1,393.7 1000.6,385.9 988.9,382.0 976.4,389.8" fill="#ff6900"/>
<polygon points="1267.1,414.1 1278.7,410.7 1266.4,401.0 1254.8,404.4" fill="#ff8c00"/>
<polygon points="694.5,586.1 707.0,571.2 696.6,569.8 684.2,584.6" fill="#20ff00"/>
<polygon points="1351.6,463.2 1362.9,460.5 1350.6,448.4 1339.3,451.1" fill="#ffe700"/>
<polygon points="780.3,504.2 792.9,491.5 782.1,489.8 769.6,502.4" fill="#c0ff00"/>
<polygon points="1411.7,513.3 1422.7,510.9 1410.5,497.0 1399.5,499.4" fill="#b8ff00"/>
<polygon points="682.1,601.4 694.5,586.1 684.2,584.6 671.8,599.8" fill="#04ff00"/>
<polygon points="1206.7,394.5 1218.6,390.3 1206.3,382.1 1194.5,386.3" fill="#ff6400"/>
<polygon points="878.1,438.9 890.8,428.7 879.5,426.1 866.9,436.4" fill="#ffbe00"/>
<polygon points="951.4,406.7 963.9,398.1 952.4,394.6 939.9,403.3" fill="#ff7f00"/>
<polygon points="669.7,617.0 682.1,601.4 671.8,599.8 659.5,615.4" fill="#00ff1a"/>
<polygon points="1012.3,390.3 1024.8,382.8 1013.0,378.5 1000.6,385.9" fill="#ff5d00"/>
<polygon points="914.7,421.8 927.3,412.3 915.9,409.4 903.3,418.8" fill="#ff9b00"/>
<polygon points="829.1,469.6 841.7,458.1 830.7,456.0 818.1,467.4" fill="#fff700"/>
<polygon points="1423.9,527.7 1434.8,525.2 1422.7,510.9 1411.7,513.3" fill="#a0ff00"/>
<polygon points="767.7,517.2 780.3,504.2 769.6,502.4 757.0,515.4" fill="#acff00"/>
<polygon points="1315.6,442.6 1327.0,439.5 1314.8,428.4 1303.3,431.5" fill="#ffbb00"/>
<polygon points="1182.5,390.9 1194.5,386.3 1182.3,378.5 1170.3,383.1" fill="#ff5900"/>
<polygon points="1243.1,408.2 1254.8,404.4 1242.6,395.2 1230.8,399.0" fill="#ff7900"/>
<polygon points="1363.9,475.7 1375.1,473.0 1362.9,460.5 1351.6,463.2" fill="#fff900"/>
<polygon points="1436.0,542.5 1446.9,540.0 1434.8,525.2 1423.9,527.7" fill="#86ff00"/>
<polygon points="1036.6,387.7 1049.0,380.6 1037.1,375.8 1024.8,382.8" fill="#ff5300"/>
<polygon points="1279.4,424.3 1291.0,420.8 1278.7,410.7 1267.1,414.1" fill="#ff9600"/>
<polygon points="1448.1,557.8 1459.0,555.3 1446.9,540.0 1436.0,542.5" fill="#6bff00"/>
<polygon points="975.6,402.0 988.1,393.7 976.4,389.8 963.9,398.1" fill="#ff6e00"/>
<polygon points="1158.3,388.1 1170.3,383.1 1158.1,375.9 1146.1,380.8" fill="#ff5000"/>
<polygon points="865.5,449.6 878.1,438.9 866.9,436.4 854.3,447.1" fill="#ffca00"/>
<polygon points="755.1,530.6 767.7,517.2 757.0,515.4 744.5,528.8" fill="#96ff00"/>
<polygon points="1060.9,386.0 1073.3,379.4 1061.3,374.0 1049.0,380.6" fill="#ff4d00"/>
<polygon points="816.4,481.5 829.1,469.6 818.1,467.4 805.5,479.3" fill="#f6ff00"/>
<polygon points="1460.2,573.5 1471.0,570.9 1459.0,555.3 1448.1,557.8" fill="#4fff00"/>
<polygon points="1472.2,589.7 1482.9,587.1 1471.0,570.9 1460.2,573.5" fill="#31ff00"/>
<polygon points="1134.0,386.2 1146.1,380.8 1134.0,374.1 1121.8,379.5" fill="#ff4b00"/>
<polygon points="1484.2,606.3 1494.8,603.6 1482.9,587.1 1472.2,589.7" fill="#11ff00"/>
<polygon points="1085.3,385.2 1097.5,379.0 1085.5,373.2 1073.3,379.4" fill="#ff4900"/>
<polygon points="1376.2,488.7 1387.3,485.9 1375.1,473.0 1363.9,475.7" fill="#f2ff00"/>
<polygon points="1109.6,385.3 1121.8,379.5 1109.8,373.2 1097.5,379.0" fill="#ff4900"/>
<polygon points="938.8,415.8 951.4,406.7 939.9,403.3 927.3,412.3" fill="#ff8600"/>
<polygon points="902.1,431.7 914.7,421.8 903.3,418.8 890.8,428.7" fill="#ffa500"/>
<polygon points="1219.0,403.2 1230.8,399.0 1218.6,390.3 1206.7,394.5" fill="#ff6900"/>
<polygon points="1328.0,454.2 1339.3,451.1 1327.0,439.5 1315.6,442.6" fill="#ffc900"/>
<polygon points="742.5,544.4 755.1,530.6 744.5,528.8 731.9,542.6" fill="#80ff00"/>
<polygon points="999.8,398.1 1012.3,390.3 1000.6,385.9 988.1,393.7" fill="#ff6000"/>
<polygon points="1255.4,417.9 1267.1,414.1 1254.8,404.4 1243.1,408.2" fill="#ff8200"/>
<polygon points="1291.8,434.9 1303.3,431.5 1291.0,420.8 1279.4,424.3" fill="#ffa200"/>
<polygon points="803.8,493.7 816.4,481.5 805.5,479.3 792.9,491.5" fill="#e5ff00"/>
<polygon points="1388.4,502.2 1399.5,499.4 1387.3,485.9 1376.2,488.7" fill="#ddff00"/>
<polygon points="730.0,558.6 742.5,544.4 731.9,542.6 719.4,556.7" fill="#68ff00"/>
<polygon points="852.8,460.7 865.5,449.6 854.3,447.1 841.7,458.1" fill="#ffd800"/>
<polygon points="1194.8,399.1 1206.7,394.5 1194.5,386.3 1182.5,390.9" fill="#ff5c00"/>
<polygon points="717.5,573.2 730.0,558.6 719.4,556.7 707.0,571.2" fill="#4eff00"/>
<polygon points="1340.3,466.3 1351.6,463.2 1339.3,451.1 1328.0,454.2" fill="#ffd900"/>
<polygon points="1024.1,395.1 1036.6,387.7 1024.8,382.8 1012.3,390.3" fill="#ff5500"/>
<polygon points="963.0,410.6 975.6,402.0 963.9,398.1 951.4,406.7" fill="#ff7400"/>
<polygon points="1400.7,516.1 1411.7,513.3 1399.5,499.4 1388.4,502.2" fill="#c7ff00"/>
<polygon points="889.4,442.0 902.1,431.7 890.8,428.7 878.1,438.9" fill="#ffb000"/>
<polygon points="704.9,588.1 717.5,573.2 707.0,571.2 694.5,586.1" fill="#34ff00"/>
<polygon points="791.1,506.4 803.8,493.7 792.9,491.5 780.3,504.2" fill="#d2ff00"/>
<polygon points="1170.5,395.9 1182.5,390.9 1170.3,383.1 1158.3,388.1" fill="#ff5200"/>
<polygon points="926.2,425.3 938.8,415.8 927.3,412.3 914.7,421.8" fill="#ff8e00"/>
<polygon points="692.5,603.4 704.9,588.1 694.5,586.1 682.1,601.4" fill="#18ff00"/>
<polygon points="1231.3,412.4 1243.1,408.2 1230.8,399.0 1219.0,403.2" fill="#ff7000"/>
<polygon points="1048.5,393.0 1060.9,386.0 1049.0,380.6 1036.6,387.7" fill="#ff4d00"/>
<polygon points="1304.1,446.1 1315.6,442.6 1303.3,431.5 1291.8,434.9" fill="#ffaf00"/>
<polygon points="1412.9,530.5 1423.9,527.7 1411.7,513.3 1400.7,516.1" fill="#afff00"/>
<polygon points="680.0,619.1 692.5,603.4 682.1,601.4 669.7,617.0" fill="#00ff05"/>
<polygon points="840.2,472.2 852.8,460.7 841.7,458.1 829.1,469.6" fill="#ffe700"/>
<polygon points="1146.1,393.5 1158.3,388.1 1146.1,380.8 1134.0,386.2" fill="#ff4b00"/>
<polygon points="1267.8,428.1 1279.4,424.3 1267.1,414.1 1255.4,417.9" fill="#ff8b00"/>
<polygon points="1072.9,391.8 1085.3,385.2 1073.3,379.4 1060.9,386.0" fill="#ff4800"/>
<polygon points="1352.6,478.8 1363.9,475.7 1351.6,463.2 1340.3,466.3" fill="#ffeb00"/>
<polygon points="1121.7,392.0 1134.0,386.2 1121.8,379.5 1109.6,385.3" fill="#ff4700"/>
<polygon points="1097.3,391.5 1109.6,385.3 1097.5,379.0 1085.3,385.2" fill="#ff4600"/>
<polygon points="778.5,519.4 791.1,506.4 780.3,504.2 767.7,517.2" fill="#beff00"/>
<polygon points="987.3,406.3 999.8,398.1 988.1,393.7 975.6,402.0" fill="#ff6400"/>
<polygon points="1425.0,545.4 1436.0,542.5 1423.9,527.7 1412.9,530.5" fill="#96ff00"/>
<polygon points="1437.2,560.7 1448.1,557.8 1436.0,542.5 1425.0,545.4" fill="#7bff00"/>
<polygon points="1207.1,407.8 1219.0,403.2 1206.7,394.5 1194.8,399.1" fill="#ff6100"/>
<polygon points="876.8,452.7 889.4,442.0 878.1,438.9 865.5,449.6" fill="#ffbc00"/>
<polygon points="1449.3,576.5 1460.2,573.5 1448.1,557.8 1437.2,560.7" fill="#5eff00"/>
<polygon points="950.4,419.7 963.0,410.6 951.4,406.7 938.8,415.8" fill="#ff7b00"/>
<polygon points="827.5,484.1 840.2,472.2 829.1,469.6 816.4,481.5" fill="#fff700"/>
<polygon points="765.9,532.9 778.5,519.4 767.7,517.2 755.1,530.6" fill="#a9ff00"/>
<polygon points="1364.9,491.9 1376.2,488.7 1363.9,475.7 1352.6,478.8" fill="#fffe00"/>
<polygon points="1461.3,592.7 1472.2,589.7 1460.2,573.5 1449.3,576.5" fill="#40ff00"/>
<polygon points="913.5,435.1 926.2,425.3 914.7,421.8 902.1,431.7" fill="#ff9800"/>
<polygon points="1316.5,457.7 1328.0,454.2 1315.6,442.6 1304.1,446.1" fill="#ffbd00"/>
<polygon points="1473.3,609.3 1484.2,606.3 1472.2,589.7 1461.3,592.7" fill="#21ff00"/>
<polygon points="1011.6,403.0 1024.1,395.1 1012.3,390.3 999.8,398.1" fill="#ff5800"/>
<polygon points="1243.6,422.1 1255.4,417.9 1243.1,408.2 1231.3,412.4" fill="#ff7800"/>
<polygon points="1182.8,404.1 1194.8,399.1 1182.5,390.9 1170.5,395.9" fill="#ff5600"/>
<polygon points="1280.1,438.8 1291.8,434.9 1279.4,424.3 1267.8,428.1" fill="#ff9700"/>
<polygon points="753.3,546.7 765.9,532.9 755.1,530.6 742.5,544.4" fill="#92ff00"/>
<polygon points="1377.2,505.4 1388.4,502.2 1376.2,488.7 1364.9,491.9" fill="#ebff00"/>
<polygon points="1036.1,400.4 1048.5,393.0 1036.6,387.7 1024.1,395.1" fill="#ff4f00"/>
<polygon points="814.8,496.4 827.5,484.1 816.4,481.5 803.8,493.7" fill="#f5ff00"/>
<polygon points="864.1,463.8 876.8,452.7 865.5,449.6 852.8,460.7" fill="#ffc900"/>
<polygon points="1158.4,401.3 1170.5,395.9 1158.3,388.1 1146.1,393.5" fill="#ff4d00"/>
<polygon points="974.7,415.0 987.3,406.3 975.6,402.0 963.0,410.6" fill="#ff6a00"/>
<polygon points="740.7,560.9 753.3,546.7 742.5,544.4 730.0,558.6" fill="#7aff00"/>
<polygon points="1328.8,469.8 1340.3,466.3 1328.0,454.2 1316.5,457.7" fill="#ffcd00"/>
<polygon points="1060.5,398.8 1072.9,391.8 1060.9,386.0 1048.5,393.0" fill="#ff4900"/>
<polygon points="1133.9,399.3 1146.1,393.5 1134.0,386.2 1121.7,392.0" fill="#ff4800"/>
<polygon points="1389.5,519.3 1400.7,516.1 1388.4,502.2 1377.2,505.4" fill="#d5ff00"/>
<polygon points="1219.4,417.1 1231.3,412.4 1219.0,403.2 1207.1,407.8" fill="#ff6800"/>
<polygon points="900.8,445.4 913.5,435.1 902.1,431.7 889.4,442.0" fill="#ffa300"/>
<polygon points="937.7,429.2 950.4,419.7 938.8,415.8 926.2,425.3" fill="#ff8300"/>
<polygon points="1085.0,398.1 1097.3,391.5 1085.3,385.2 1072.9,391.8" fill="#ff4500"/>
<polygon points="728.1,575.5 740.7,560.9 730.0,558.6 717.5,573.2" fill="#61ff00"/>
<polygon points="1109.5,398.3 1121.7,392.0 1109.6,385.3 1097.3,391.5" fill="#ff4500"/>
<polygon points="1292.5,449.9 1304.1,446.1 1291.8,434.9 1280.1,438.8" fill="#ffa400"/>
<polygon points="802.1,509.1 814.8,496.4 803.8,493.7 791.1,506.4" fill="#e3ff00"/>
<polygon points="1256.0,432.3 1267.8,428.1 1255.4,417.9 1243.6,422.1" fill="#ff8200"/>
<polygon points="715.5,590.5 728.1,575.5 717.5,573.2 704.9,588.1" fill="#46ff00"/>
<polygon points="1401.7,533.8 1412.9,530.5 1400.7,516.1 1389.5,519.3" fill="#bdff00"/>
<polygon points="999.1,411.2 1011.6,403.0 999.8,398.1 987.3,406.3" fill="#ff5c00"/>
<polygon points="851.4,475.3 864.1,463.8 852.8,460.7 840.2,472.2" fill="#ffd800"/>
<polygon points="1341.2,482.4 1352.6,478.8 1340.3,466.3 1328.8,469.8" fill="#ffdf00"/>
<polygon points="703.0,605.9 715.5,590.5 704.9,588.1 692.5,603.4" fill="#2bff00"/>
<polygon points="1195.1,412.8 1207.1,407.8 1194.8,399.1 1182.8,404.1" fill="#ff5b00"/>
<polygon points="690.5,621.6 703.0,605.9 692.5,603.4 680.0,619.1" fill="#0eff00"/>
<polygon points="1413.9,548.7 1425.0,545.4 1412.9,530.5 1401.7,533.8" fill="#a4ff00"/>
<polygon points="789.4,522.1 802.1,509.1 791.1,506.4 778.5,519.4" fill="#cfff00"/>
<polygon points="962.1,424.1 974.7,415.0 963.0,410.6 950.4,419.7" fill="#ff7100"/>
<polygon points="1023.5,408.3 1036.1,400.4 1024.1,395.1 1011.6,403.0" fill="#ff5200"/>
<polygon points="888.1,456.2 900.8,445.4 889.4,442.0 876.8,452.7" fill="#ffaf00"/>
<polygon points="1426.1,564.0 1437.2,560.7 1425.0,545.4 1413.9,548.7" fill="#89ff00"/>
<polygon points="1304.9,461.6 1316.5,457.7 1304.1,446.1 1292.5,449.9" fill="#ffb200"/>
<polygon points="1170.6,409.5 1182.8,404.1 1170.5,395.9 1158.4,401.3" fill="#ff5100"/>
<polygon points="925.1,439.1 937.7,429.2 926.2,425.3 913.5,435.1" fill="#ff8c00"/>
<polygon points="1353.5,495.4 1364.9,491.9 1352.6,478.8 1341.2,482.4" fill="#fff200"/>
<polygon points="1438.2,579.8 1449.3,576.5 1437.2,560.7 1426.1,564.0" fill="#6dff00"/>
<polygon points="1231.8,426.8 1243.6,422.1 1231.3,412.4 1219.4,417.1" fill="#ff7000"/>
<polygon points="838.7,487.2 851.4,475.3 840.2,472.2 827.5,484.1" fill="#ffe800"/>
<polygon points="1450.4,596.0 1461.3,592.7 1449.3,576.5 1438.2,579.8" fill="#4fff00"/>
<polygon points="1462.4,612.7 1473.3,609.3 1461.3,592.7 1450.4,596.0" fill="#2fff00"/>
<polygon points="1268.4,443.0 1280.1,438.8 1267.8,428.1 1256.0,432.3" fill="#ff8d00"/>
<polygon points="776.8,535.6 789.4,522.1 778.5,519.4 765.9,532.9" fill="#b9ff00"/>
<polygon points="1048.0,406.3 1060.5,398.8 1048.5,393.0 1036.1,400.4" fill="#ff4a00"/>
<polygon points="1146.2,407.1 1158.4,401.3 1146.1,393.5 1133.9,399.3" fill="#ff4900"/>
<polygon points="1072.6,405.1 1085.0,398.1 1072.9,391.8 1060.5,398.8" fill="#ff4500"/>
<polygon points="1121.7,405.5 1133.9,399.3 1121.7,392.0 1109.5,398.3" fill="#ff4500"/>
<polygon points="1365.8,509.0 1377.2,505.4 1364.9,491.9 1353.5,495.4" fill="#f8ff00"/>
<polygon points="1097.1,404.9 1109.5,398.3 1097.3,391.5 1085.0,398.1" fill="#ff4400"/>
<polygon points="986.5,419.9 999.1,411.2 987.3,406.3 974.7,415.0" fill="#ff6200"/>
<polygon points="764.1,549.5 776.8,535.6 765.9,532.9 753.3,546.7" fill="#a3ff00"/>
<polygon points="875.4,467.3 888.1,456.2 876.8,452.7 864.1,463.8" fill="#ffbc00"/>
<polygon points="1207.4,422.1 1219.4,417.1 1207.1,407.8 1195.1,412.8" fill="#ff6100"/>
<polygon points="1317.3,473.7 1328.8,469.8 1316.5,457.7 1304.9,461.6" fill="#ffc200"/>
<polygon points="825.9,499.5 838.7,487.2 827.5,484.1 814.8,496.4" fill="#fffa00"/>
<polygon points="949.4,433.6 962.1,424.1 950.4,419.7 937.7,429.2" fill="#ff7900"/>
<polygon points="912.4,449.4 925.1,439.1 913.5,435.1 900.8,445.4" fill="#ff9700"/>
<polygon points="751.5,563.7 764.1,549.5 753.3,546.7 740.7,560.9" fill="#8bff00"/>
<polygon points="1378.1,523.0 1389.5,519.3 1377.2,505.4 1365.8,509.0" fill="#e2ff00"/>
<polygon points="1244.1,437.0 1256.0,432.3 1243.6,422.1 1231.8,426.8" fill="#ff7a00"/>
<polygon points="1280.8,454.2 1292.5,449.9 1280.1,438.8 1268.4,443.0" fill="#ff9a00"/>
<polygon points="1011.0,416.6 1023.5,408.3 1011.6,403.0 999.1,411.2" fill="#ff5600"/>
<polygon points="1183.0,418.3 1195.1,412.8 1182.8,404.1 1170.6,409.5" fill="#ff5500"/>
<polygon points="738.8,578.4 751.5,563.7 740.7,560.9 728.1,575.5" fill="#72ff00"/>
<polygon points="813.2,512.2 825.9,499.5 814.8,496.4 802.1,509.1" fill="#f2ff00"/>
<polygon points="1390.4,537.4 1401.7,533.8 1389.5,519.3 1378.1,523.0" fill="#caff00"/>
<polygon points="1329.6,486.3 1341.2,482.4 1328.8,469.8 1317.3,473.7" fill="#ffd300"/>
<polygon points="862.7,478.8 875.4,467.3 864.1,463.8 851.4,475.3" fill="#ffcb00"/>
<polygon points="726.2,593.4 738.8,578.4 728.1,575.5 715.5,590.5" fill="#57ff00"/>
<polygon points="1035.5,414.1 1048.0,406.3 1036.1,400.4 1023.5,408.3" fill="#ff4d00"/>
<polygon points="1158.5,415.4 1170.6,409.5 1158.4,401.3 1146.2,407.1" fill="#ff4d00"/>
<polygon points="1402.7,552.3 1413.9,548.7 1401.7,533.8 1390.4,537.4" fill="#b1ff00"/>
<polygon points="973.8,429.0 986.5,419.9 974.7,415.0 962.1,424.1" fill="#ff6900"/>
<polygon points="713.7,608.8 726.2,593.4 715.5,590.5 703.0,605.9" fill="#3cff00"/>
<polygon points="1219.8,431.8 1231.8,426.8 1219.4,417.1 1207.4,422.1" fill="#ff6900"/>
<polygon points="701.1,624.5 713.7,608.8 703.0,605.9 690.5,621.6" fill="#1fff00"/>
<polygon points="1060.1,412.6 1072.6,405.1 1060.5,398.8 1048.0,406.3" fill="#ff4700"/>
<polygon points="899.6,460.1 912.4,449.4 900.8,445.4 888.1,456.2" fill="#ffa300"/>
<polygon points="1293.2,465.9 1304.9,461.6 1292.5,449.9 1280.8,454.2" fill="#ffa800"/>
<polygon points="1133.9,413.3 1146.2,407.1 1133.9,399.3 1121.7,405.5" fill="#ff4700"/>
<polygon points="800.5,525.3 813.2,512.2 802.1,509.1 789.4,522.1" fill="#deff00"/>
<polygon points="1414.9,567.7 1426.1,564.0 1413.9,548.7 1402.7,552.3" fill="#96ff00"/>
<polygon points="936.7,443.5 949.4,433.6 937.7,429.2 925.1,439.1" fill="#ff8200"/>
<polygon points="1342.0,499.4 1353.5,495.4 1341.2,482.4 1329.6,486.3" fill="#ffe600"/>
<polygon points="1084.7,411.9 1097.1,404.9 1085.0,398.1 1072.6,405.1" fill="#ff4400"/>
<polygon points="1109.3,412.2 1121.7,405.5 1109.5,398.3 1097.1,404.9" fill="#ff4400"/>
<polygon points="1256.5,447.7 1268.4,443.0 1256.0,432.3 1244.1,437.0" fill="#ff8500"/>
<polygon points="1427.1,583.5 1438.2,579.8 1426.1,564.0 1414.9,567.7" fill="#7aff00"/>
<polygon points="1439.2,599.8 1450.4,596.0 1438.2,579.8 1427.1,583.5" fill="#5cff00"/>
<polygon points="849.9,490.7 862.7,478.8 851.4,475.3 838.7,487.2" fill="#ffdb00"/>
<polygon points="1451.4,616.5 1462.4,612.7 1450.4,596.0 1439.2,599.8" fill="#3dff00"/>
<polygon points="998.3,425.3 1011.0,416.6 999.1,411.2 986.5,419.9" fill="#ff5b00"/>
<polygon points="787.8,538.8 800.5,525.3 789.4,522.1 776.8,535.6" fill="#c9ff00"/>
<polygon points="1195.3,427.5 1207.4,422.1 1195.1,412.8 1183.0,418.3" fill="#ff5c00"/>
<polygon points="1354.4,512.9 1365.8,509.0 1353.5,495.4 1342.0,499.4" fill="#fffb00"/>
<polygon points="1305.6,478.0 1317.3,473.7 1304.9,461.6 1293.2,465.9" fill="#ffb800"/>
<polygon points="886.9,471.3 899.6,460.1 888.1,456.2 875.4,467.3" fill="#ffb100"/>
<polygon points="961.1,438.5 973.8,429.0 962.1,424.1 949.4,433.6" fill="#ff7100"/>
<polygon points="775.1,552.7 787.8,538.8 776.8,535.6 764.1,549.5" fill="#b2ff00"/>
<polygon points="1022.9,422.4 1035.5,414.1 1023.5,408.3 1011.0,416.6" fill="#ff5100"/>
<polygon points="1232.2,442.0 1244.1,437.0 1231.8,426.8 1219.8,431.8" fill="#ff7300"/>
<polygon points="837.2,503.1 849.9,490.7 838.7,487.2 825.9,499.5" fill="#ffec00"/>
<polygon points="1170.8,424.1 1183.0,418.3 1170.6,409.5 1158.5,415.4" fill="#ff5100"/>
<polygon points="924.0,453.9 936.7,443.5 925.1,439.1 912.4,449.4" fill="#ff8d00"/>
<polygon points="1269.0,458.9 1280.8,454.2 1268.4,443.0 1256.5,447.7" fill="#ff9200"/>
<polygon points="1366.7,527.0 1378.1,523.0 1365.8,509.0 1354.4,512.9" fill="#edff00"/>
<polygon points="1047.6,420.5 1060.1,412.6 1048.0,406.3 1035.5,414.1" fill="#ff4a00"/>
<polygon points="762.4,567.0 775.1,552.7 764.1,549.5 751.5,563.7" fill="#9aff00"/>
<polygon points="1146.2,421.6 1158.5,415.4 1146.2,407.1 1133.9,413.3" fill="#ff4a00"/>
<polygon points="1318.0,490.6 1329.6,486.3 1317.3,473.7 1305.6,478.0" fill="#ffca00"/>
<polygon points="1379.0,541.4 1390.4,537.4 1378.1,523.0 1366.7,527.0" fill="#d5ff00"/>
<polygon points="1072.2,419.4 1084.7,411.9 1072.6,405.1 1060.1,412.6" fill="#ff4500"/>
<polygon points="1121.6,420.0 1133.9,413.3 1121.7,405.5 1109.3,412.2" fill="#ff4500"/>
<polygon points="824.4,515.8 837.2,503.1 825.9,499.5 813.2,512.2" fill="#ffff00"/>
<polygon points="985.7,434.4 998.3,425.3 986.5,419.9 973.8,429.0" fill="#ff6200"/>
<polygon points="1096.9,419.3 1109.3,412.2 1097.1,404.9 1084.7,411.9" fill="#ff4400"/>
<polygon points="749.7,581.7 762.4,567.0 751.5,563.7 738.8,578.4" fill="#81ff00"/>
<polygon points="874.1,482.8 886.9,471.3 875.4,467.3 862.7,478.8" fill="#ffbf00"/>
<polygon points="1207.7,437.3 1219.8,431.8 1207.4,422.1 1195.3,427.5" fill="#ff6400"/>
<polygon points="1391.3,556.4 1402.7,552.3 1390.4,537.4 1379.0,541.4" fill="#bcff00"/>
<polygon points="737.1,596.7 749.7,581.7 738.8,578.4 726.2,593.4" fill="#67ff00"/>
<polygon points="1281.4,470.6 1293.2,465.9 1280.8,454.2 1269.0,458.9" fill="#ffa000"/>
<polygon points="948.4,448.5 961.1,438.5 949.4,433.6 936.7,443.5" fill="#ff7a00"/>
<polygon points="911.2,464.6 924.0,453.9 912.4,449.4 899.6,460.1" fill="#ff9900"/>
<polygon points="1244.6,452.8 1256.5,447.7 1244.1,437.0 1232.2,442.0" fill="#ff7e00"/>
<polygon points="1330.4,503.7 1342.0,499.4 1329.6,486.3 1318.0,490.6" fill="#ffdc00"/>
<polygon points="724.4,612.1 737.1,596.7 726.2,593.4 713.7,608.8" fill="#4bff00"/>
<polygon points="1403.6,571.8 1414.9,567.7 1402.7,552.3 1391.3,556.4" fill="#a2ff00"/>
<polygon points="811.7,529.0 824.4,515.8 813.2,512.2 800.5,525.3" fill="#ebff00"/>
<polygon points="1010.3,431.1 1022.9,422.4 1011.0,416.6 998.3,425.3" fill="#ff5600"/>
<polygon points="711.9,627.9 724.4,612.1 713.7,608.8 701.1,624.5" fill="#2fff00"/>
<polygon points="1183.2,433.4 1195.3,427.5 1183.0,418.3 1170.8,424.1" fill="#ff5800"/>
<polygon points="1415.8,587.7 1427.1,583.5 1414.9,567.7 1403.6,571.8" fill="#85ff00"/>
<polygon points="1428.0,604.0 1439.2,599.8 1427.1,583.5 1415.8,587.7" fill="#68ff00"/>
<polygon points="861.3,494.8 874.1,482.8 862.7,478.8 849.9,490.7" fill="#ffcf00"/>
<polygon points="1440.2,620.7 1451.4,616.5 1439.2,599.8 1428.0,604.0" fill="#48ff00"/>
<polygon points="1342.8,517.3 1354.4,512.9 1342.0,499.4 1330.4,503.7" fill="#fff100"/>
<polygon points="1035.0,428.8 1047.6,420.5 1035.5,414.1 1022.9,422.4" fill="#ff4e00"/>
<polygon points="1158.5,430.4 1170.8,424.1 1158.5,415.4 1146.2,421.6" fill="#ff4f00"/>
<polygon points="1293.8,482.7 1305.6,478.0 1293.2,465.9 1281.4,470.6" fill="#ffb000"/>
<polygon points="798.9,542.5 811.7,529.0 800.5,525.3 787.8,538.8" fill="#d6ff00"/>
<polygon points="973.0,443.9 985.7,434.4 973.8,429.0 961.1,438.5" fill="#ff6a00"/>
<polygon points="1220.1,447.5 1232.2,442.0 1219.8,431.8 1207.7,437.3" fill="#ff6d00"/>
<polygon points="898.4,475.8 911.2,464.6 899.6,460.1 886.9,471.3" fill="#ffa600"/>
<polygon points="1257.0,464.0 1269.0,458.9 1256.5,447.7 1244.6,452.8" fill="#ff8b00"/>
<polygon points="1059.7,427.3 1072.2,419.4 1060.1,412.6 1047.6,420.5" fill="#ff4800"/>
<polygon points="1133.8,428.3 1146.2,421.6 1133.9,413.3 1121.6,420.0" fill="#ff4800"/>
<polygon points="935.7,458.8 948.4,448.5 936.7,443.5 924.0,453.9" fill="#ff8500"/>
<polygon points="1084.4,426.7 1096.9,419.3 1084.7,411.9 1072.2,419.4" fill="#ff4500"/>
<polygon points="1109.1,427.1 1121.6,420.0 1109.3,412.2 1096.9,419.3" fill="#ff4500"/>
<polygon points="848.5,507.2 861.3,494.8 849.9,490.7 837.2,503.1" fill="#ffe000"/>
<polygon points="1355.2,531.4 1366.7,527.0 1354.4,512.9 1342.8,517.3" fill="#f7ff00"/>
<polygon points="786.2,556.4 798.9,542.5 787.8,538.8 775.1,552.7" fill="#c0ff00"/>
<polygon points="1306.3,495.4 1318.0,490.6 1305.6,478.0 1293.8,482.7" fill="#ffc100"/>
<polygon points="997.6,440.3 1010.3,431.1 998.3,425.3 985.7,434.4" fill="#ff5d00"/>
<polygon points="1195.6,443.1 1207.7,437.3 1195.3,427.5 1183.2,433.4" fill="#ff6000"/>
<polygon points="773.4,570.7 786.2,556.4 775.1,552.7 762.4,567.0" fill="#a8ff00"/>
<polygon points="1367.5,545.9 1379.0,541.4 1366.7,527.0 1355.2,531.4" fill="#e0ff00"/>
<polygon points="885.6,487.3 898.4,475.8 886.9,471.3 874.1,482.8" fill="#ffb500"/>
<polygon points="835.7,519.9 848.5,507.2 837.2,503.1 824.4,515.8" fill="#fff300"/>
<polygon points="1269.5,475.7 1281.4,470.6 1269.0,458.9 1257.0,464.0" fill="#ff9900"/>
<polygon points="1232.6,458.2 1244.6,452.8 1232.2,442.0 1220.1,447.5" fill="#ff7800"/>
<polygon points="960.2,453.9 973.0,443.9 961.1,438.5 948.4,448.5" fill="#ff7300"/>
<polygon points="760.7,585.4 773.4,570.7 762.4,567.0 749.7,581.7" fill="#8fff00"/>
<polygon points="1379.9,560.9 1391.3,556.4 1379.0,541.4 1367.5,545.9" fill="#c7ff00"/>
<polygon points="1022.3,437.5 1035.0,428.8 1022.9,422.4 1010.3,431.1" fill="#ff5300"/>
<polygon points="1170.9,439.7 1183.2,433.4 1170.8,424.1 1158.5,430.4" fill="#ff5500"/>
<polygon points="922.9,469.6 935.7,458.8 924.0,453.9 911.2,464.6" fill="#ff9100"/>
<polygon points="1318.7,508.5 1330.4,503.7 1318.0,490.6 1306.3,495.4" fill="#ffd400"/>
<polygon points="748.0,600.5 760.7,585.4 749.7,581.7 737.1,596.7" fill="#75ff00"/>
<polygon points="1392.2,576.3 1403.6,571.8 1391.3,556.4 1379.9,560.9" fill="#acff00"/>
<polygon points="1047.1,435.6 1059.7,427.3 1047.6,420.5 1035.0,428.8" fill="#ff4c00"/>
<polygon points="1146.2,437.1 1158.5,430.4 1146.2,421.6 1133.8,428.3" fill="#ff4d00"/>
<polygon points="735.4,615.9 748.0,600.5 737.1,596.7 724.4,612.1" fill="#5aff00"/>
<polygon points="1404.5,592.2 1415.8,587.7 1403.6,571.8 1392.2,576.3" fill="#90ff00"/>
<polygon points="823.0,533.1 835.7,519.9 824.4,515.8 811.7,529.0" fill="#f7ff00"/>
<polygon points="1416.7,608.5 1428.0,604.0 1415.8,587.7 1404.5,592.2" fill="#72ff00"/>
<polygon points="722.7,631.8 735.4,615.9 724.4,612.1 711.9,627.9" fill="#3dff00"/>
<polygon points="872.8,499.3 885.6,487.3 874.1,482.8 861.3,494.8" fill="#ffc500"/>
<polygon points="1428.9,625.3 1440.2,620.7 1428.0,604.0 1416.7,608.5" fill="#53ff00"/>
<polygon points="1071.9,434.6 1084.4,426.7 1072.2,419.4 1059.7,427.3" fill="#ff4800"/>
<polygon points="1121.4,435.4 1133.8,428.3 1121.6,420.0 1109.1,427.1" fill="#ff4800"/>
<polygon points="1208.0,453.4 1220.1,447.5 1207.7,437.3 1195.6,443.1" fill="#ff6900"/>
<polygon points="984.9,449.8 997.6,440.3 985.7,434.4 973.0,443.9" fill="#ff6500"/>
<polygon points="1282.0,487.8 1293.8,482.7 1281.4,470.6 1269.5,475.7" fill="#ffa800"/>
<polygon points="1096.7,434.6 1109.1,427.1 1096.9,419.3 1084.4,426.7" fill="#ff4600"/>
<polygon points="1331.1,522.1 1342.8,517.3 1330.4,503.7 1318.7,508.5" fill="#ffe800"/>
<polygon points="1245.0,469.5 1257.0,464.0 1244.6,452.8 1232.6,458.2" fill="#ff8500"/>
<polygon points="910.1,480.8 922.9,469.6 911.2,464.6 898.4,475.8" fill="#ff9e00"/>
<polygon points="810.2,546.6 823.0,533.1 811.7,529.0 798.9,542.5" fill="#e2ff00"/>
<polygon points="947.5,464.2 960.2,453.9 948.4,448.5 935.7,458.8" fill="#ff7e00"/>
<polygon points="1343.5,536.2 1355.2,531.4 1342.8,517.3 1331.1,522.1" fill="#fffe00"/>
<polygon points="1183.3,449.4 1195.6,443.1 1183.2,433.4 1170.9,439.7" fill="#ff5d00"/>
<polygon points="1009.6,446.6 1022.3,437.5 1010.3,431.1 997.6,440.3" fill="#ff5900"/>
<polygon points="860.0,511.7 872.8,499.3 861.3,494.8 848.5,507.2" fill="#ffd600"/>
<polygon points="1294.4,500.5 1306.3,495.4 1293.8,482.7 1282.0,487.8" fill="#ffba00"/>
<polygon points="797.4,560.6 810.2,546.6 798.9,542.5 786.2,556.4" fill="#ccff00"/>
<polygon points="1355.9,550.7 1367.5,545.9 1355.2,531.4 1343.5,536.2" fill="#e9ff00"/>
<polygon points="1220.4,464.1 1232.6,458.2 1220.1,447.5 1208.0,453.4" fill="#ff7400"/>
<polygon points="1158.6,446.3 1170.9,439.7 1158.5,430.4 1146.2,437.1" fill="#ff5300"/>
<polygon points="1034.4,444.4 1047.1,435.6 1035.0,428.8 1022.3,437.5" fill="#ff5100"/>
<polygon points="1257.5,481.2 1269.5,475.7 1257.0,464.0 1245.0,469.5" fill="#ff9300"/>
<polygon points="972.1,459.8 984.9,449.8 973.0,443.9 960.2,453.9" fill="#ff6e00"/>
<polygon points="897.3,492.3 910.1,480.8 898.4,475.8 885.6,487.3" fill="#ffac00"/>
<polygon points="784.6,574.9 797.4,560.6 786.2,556.4 773.4,570.7" fill="#b5ff00"/>
<polygon points="847.2,524.5 860.0,511.7 848.5,507.2 835.7,519.9" fill="#ffe800"/>
<polygon points="934.7,475.0 947.5,464.2 935.7,458.8 922.9,469.6" fill="#ff8a00"/>
<polygon points="1133.8,444.2 1146.2,437.1 1133.8,428.3 1121.4,435.4" fill="#ff4d00"/>
<polygon points="1368.3,565.7 1379.9,560.9 1367.5,545.9 1355.9,550.7" fill="#d0ff00"/>
<polygon points="1059.3,443.0 1071.9,434.6 1059.7,427.3 1047.1,435.6" fill="#ff4b00"/>
<polygon points="1306.9,513.7 1318.7,508.5 1306.3,495.4 1294.4,500.5" fill="#ffcc00"/>
<polygon points="1109.0,442.9 1121.4,435.4 1109.1,427.1 1096.7,434.6" fill="#ff4900"/>
<polygon points="1084.1,442.5 1096.7,434.6 1084.4,426.7 1071.9,434.6" fill="#ff4900"/>
<polygon points="771.8,589.7 784.6,574.9 773.4,570.7 760.7,585.4" fill="#9cff00"/>
<polygon points="1380.6,581.2 1392.2,576.3 1379.9,560.9 1368.3,565.7" fill="#b5ff00"/>
<polygon points="1195.8,459.7 1208.0,453.4 1195.6,443.1 1183.3,449.4" fill="#ff6600"/>
<polygon points="759.1,604.8 771.8,589.7 760.7,585.4 748.0,600.5" fill="#82ff00"/>
<polygon points="996.9,456.2 1009.6,446.6 997.6,440.3 984.9,449.8" fill="#ff6100"/>
<polygon points="1393.0,597.1 1404.5,592.2 1392.2,576.3 1380.6,581.2" fill="#99ff00"/>
<polygon points="834.3,537.7 847.2,524.5 835.7,519.9 823.0,533.1" fill="#fffc00"/>
<polygon points="1270.0,493.4 1282.0,487.8 1269.5,475.7 1257.5,481.2" fill="#ffa200"/>
<polygon points="1405.2,613.4 1416.7,608.5 1404.5,592.2 1393.0,597.1" fill="#7cff00"/>
<polygon points="884.4,504.3 897.3,492.3 885.6,487.3 872.8,499.3" fill="#ffbc00"/>
<polygon points="1417.5,630.2 1428.9,625.3 1416.7,608.5 1405.2,613.4" fill="#5dff00"/>
<polygon points="746.4,620.2 759.1,604.8 748.0,600.5 735.4,615.9" fill="#66ff00"/>
<polygon points="1232.9,475.4 1245.0,469.5 1232.6,458.2 1220.4,464.1" fill="#ff8000"/>
<polygon points="1319.3,527.3 1331.1,522.1 1318.7,508.5 1306.9,513.7" fill="#ffe100"/>
<polygon points="733.7,636.1 746.4,620.2 735.4,615.9 722.7,631.8" fill="#4aff00"/>
<polygon points="959.4,470.2 972.1,459.8 960.2,453.9 947.5,464.2" fill="#ff7900"/>
<polygon points="1171.0,456.1 1183.3,449.4 1170.9,439.7 1158.6,446.3" fill="#ff5b00"/>
<polygon points="921.8,486.2 934.7,475.0 922.9,469.6 910.1,480.8" fill="#ff9700"/>
<polygon points="1021.7,453.5 1034.4,444.4 1022.3,437.5 1009.6,446.6" fill="#ff5700"/>
<polygon points="821.5,551.3 834.3,537.7 823.0,533.1 810.2,546.6" fill="#edff00"/>
<polygon points="1331.8,541.4 1343.5,536.2 1331.1,522.1 1319.3,527.3" fill="#fff600"/>
<polygon points="1146.2,453.5 1158.6,446.3 1146.2,437.1 1133.8,444.2" fill="#ff5300"/>
<polygon points="1282.5,506.1 1294.4,500.5 1282.0,487.8 1270.0,493.4" fill="#ffb400"/>
<polygon points="1046.6,451.7 1059.3,443.0 1047.1,435.6 1034.4,444.4" fill="#ff5100"/>
<polygon points="871.6,516.7 884.4,504.3 872.8,499.3 860.0,511.7" fill="#ffcd00"/>
<polygon points="1208.2,470.5 1220.4,464.1 1208.0,453.4 1195.8,459.7" fill="#ff7100"/>
<polygon points="1121.3,451.7 1133.8,444.2 1121.4,435.4 1109.0,442.9" fill="#ff4e00"/>
<polygon points="1071.5,450.8 1084.1,442.5 1071.9,434.6 1059.3,443.0" fill="#ff4d00"/>
<polygon points="1245.4,487.1 1257.5,481.2 1245.0,469.5 1232.9,475.4" fill="#ff8e00"/>
<polygon points="808.7,565.2 821.5,551.3 810.2,546.6 797.4,560.6" fill="#d7ff00"/>
<polygon points="984.1,466.2 996.9,456.2 984.9,449.8 972.1,459.8" fill="#ff6a00"/>
<polygon points="1096.4,450.8 1109.0,442.9 1096.7,434.6 1084.1,442.5" fill="#ff4c00"/>
<polygon points="1344.2,555.9 1355.9,550.7 1343.5,536.2 1331.8,541.4" fill="#f0ff00"/>
<polygon points="909.0,497.8 921.8,486.2 910.1,480.8 897.3,492.3" fill="#ffa500"/>
<polygon points="946.5,481.0 959.4,470.2 947.5,464.2 934.7,475.0" fill="#ff8400"/>
<polygon points="1356.6,571.0 1368.3,565.7 1355.9,550.7 1344.2,555.9" fill="#d7ff00"/>
<polygon points="795.9,579.6 808.7,565.2 797.4,560.6 784.6,574.9" fill="#bfff00"/>
<polygon points="1295.0,519.2 1306.9,513.7 1294.4,500.5 1282.5,506.1" fill="#ffc600"/>
<polygon points="858.7,529.5 871.6,516.7 860.0,511.7 847.2,524.5" fill="#ffdf00"/>
<polygon points="1183.5,466.4 1195.8,459.7 1183.3,449.4 1171.0,456.1" fill="#ff6400"/>
<polygon points="1009.0,463.1 1021.7,453.5 1009.6,446.6 996.9,456.2" fill="#ff5f00"/>
<polygon points="1369.0,586.5 1380.6,581.2 1368.3,565.7 1356.6,571.0" fill="#bdff00"/>
<polygon points="783.1,594.4 795.9,579.6 784.6,574.9 771.8,589.7" fill="#a7ff00"/>
<polygon points="1257.9,499.3 1270.0,493.4 1257.5,481.2 1245.4,487.1" fill="#ff9e00"/>
<polygon points="1220.7,481.7 1232.9,475.4 1220.4,464.1 1208.2,470.5" fill="#ff7d00"/>
<polygon points="1381.4,602.4 1393.0,597.1 1380.6,581.2 1369.0,586.5" fill="#a1ff00"/>
<polygon points="1158.6,463.3 1171.0,456.1 1158.6,446.3 1146.2,453.5" fill="#ff5a00"/>
<polygon points="1307.5,532.9 1319.3,527.3 1306.9,513.7 1295.0,519.2" fill="#ffda00"/>
<polygon points="896.1,509.8 909.0,497.8 897.3,492.3 884.4,504.3" fill="#ffb500"/>
<polygon points="1393.7,618.8 1405.2,613.4 1393.0,597.1 1381.4,602.4" fill="#84ff00"/>
<polygon points="770.3,609.5 783.1,594.4 771.8,589.7 759.1,604.8" fill="#8dff00"/>
<polygon points="1033.9,460.9 1046.6,451.7 1034.4,444.4 1021.7,453.5" fill="#ff5700"/>
<polygon points="845.8,542.8 858.7,529.5 847.2,524.5 834.3,537.7" fill="#fff300"/>
<polygon points="1406.0,635.6 1417.5,630.2 1405.2,613.4 1393.7,618.8" fill="#65ff00"/>
<polygon points="971.3,476.6 984.1,466.2 972.1,459.8 959.4,470.2" fill="#ff7500"/>
<polygon points="933.7,492.2 946.5,481.0 934.7,475.0 921.8,486.2" fill="#ff9100"/>
<polygon points="757.5,625.0 770.3,609.5 759.1,604.8 746.4,620.2" fill="#71ff00"/>
<polygon points="1133.7,461.0 1146.2,453.5 1133.8,444.2 1121.3,451.7" fill="#ff5400"/>
<polygon points="1058.8,459.6 1071.5,450.8 1059.3,443.0 1046.6,451.7" fill="#ff5200"/>
<polygon points="744.8,640.9 757.5,625.0 746.4,620.2 733.7,636.1" fill="#55ff00"/>
<polygon points="1108.8,459.6 1121.3,451.7 1109.0,442.9 1096.4,450.8" fill="#ff5000"/>
<polygon points="1083.8,459.1 1096.4,450.8 1084.1,442.5 1071.5,450.8" fill="#ff4f00"/>
<polygon points="1319.9,547.0 1331.8,541.4 1319.3,527.3 1307.5,532.9" fill="#fff000"/>
<polygon points="1196.0,477.2 1208.2,470.5 1195.8,459.7 1183.5,466.4" fill="#ff6f00"/>
<polygon points="1270.4,512.0 1282.5,506.1 1270.0,493.4 1257.9,499.3" fill="#ffaf00"/>
<polygon points="833.0,556.4 845.8,542.8 834.3,537.7 821.5,551.3" fill="#f6ff00"/>
<polygon points="996.2,473.1 1009.0,463.1 996.9,456.2 984.1,466.2" fill="#ff6800"/>
<polygon points="883.2,522.3 896.1,509.8 884.4,504.3 871.6,516.7" fill="#ffc600"/>
<polygon points="1233.3,493.5 1245.4,487.1 1232.9,475.4 1220.7,481.7" fill="#ff8b00"/>
<polygon points="1332.4,561.6 1344.2,555.9 1331.8,541.4 1319.9,547.0" fill="#f7ff00"/>
<polygon points="820.1,570.4 833.0,556.4 821.5,551.3 808.7,565.2" fill="#e0ff00"/>
<polygon points="958.5,487.4 971.3,476.6 959.4,470.2 946.5,481.0" fill="#ff8000"/>
<polygon points="1171.1,473.5 1183.5,466.4 1171.0,456.1 1158.6,463.3" fill="#ff6400"/>
<polygon points="920.8,503.8 933.7,492.2 921.8,486.2 909.0,497.8" fill="#ffa000"/>
<polygon points="1021.1,470.5 1033.9,460.9 1021.7,453.5 1009.0,463.1" fill="#ff5f00"/>
<polygon points="1283.0,525.2 1295.0,519.2 1282.5,506.1 1270.4,512.0" fill="#ffc100"/>
<polygon points="1344.8,576.6 1356.6,571.0 1344.2,555.9 1332.4,561.6" fill="#deff00"/>
<polygon points="870.3,535.1 883.2,522.3 871.6,516.7 858.7,529.5" fill="#ffd800"/>
<polygon points="807.3,584.8 820.1,570.4 808.7,565.2 795.9,579.6" fill="#c9ff00"/>
<polygon points="1146.1,470.8 1158.6,463.3 1146.2,453.5 1133.7,461.0" fill="#ff5b00"/>
<polygon points="1208.5,488.5 1220.7,481.7 1208.2,470.5 1196.0,477.2" fill="#ff7b00"/>
<polygon points="1245.8,505.7 1257.9,499.3 1245.4,487.1 1233.3,493.5" fill="#ff9a00"/>
<polygon points="1046.1,468.7 1058.8,459.6 1046.6,451.7 1033.9,460.9" fill="#ff5800"/>
<polygon points="1357.3,592.2 1369.0,586.5 1356.6,571.0 1344.8,576.6" fill="#c4ff00"/>
<polygon points="1121.2,468.9 1133.7,461.0 1121.3,451.7 1108.8,459.6" fill="#ff5600"/>
<polygon points="1071.1,467.9 1083.8,459.1 1071.5,450.8 1058.8,459.6" fill="#ff5400"/>
<polygon points="983.4,483.5 996.2,473.1 984.1,466.2 971.3,476.6" fill="#ff7200"/>
<polygon points="1369.6,608.1 1381.4,602.4 1369.0,586.5 1357.3,592.2" fill="#a8ff00"/>
<polygon points="794.4,599.5 807.3,584.8 795.9,579.6 783.1,594.4" fill="#b0ff00"/>
<polygon points="1096.2,468.0 1108.8,459.6 1096.4,450.8 1083.8,459.1" fill="#ff5400"/>
<polygon points="1295.5,538.9 1307.5,532.9 1295.0,519.2 1283.0,525.2" fill="#ffd500"/>
<polygon points="907.9,515.8 920.8,503.8 909.0,497.8 896.1,509.8" fill="#ffaf00"/>
<polygon points="1382.0,624.5 1393.7,618.8 1381.4,602.4 1369.6,608.1" fill="#8aff00"/>
<polygon points="1394.3,641.4 1406.0,635.6 1393.7,618.8 1382.0,624.5" fill="#6cff00"/>
<polygon points="857.5,548.3 870.3,535.1 858.7,529.5 845.8,542.8" fill="#ffeb00"/>
<polygon points="945.6,498.6 958.5,487.4 946.5,481.0 933.7,492.2" fill="#ff8d00"/>
<polygon points="781.6,614.7 794.4,599.5 783.1,594.4 770.3,609.5" fill="#96ff00"/>
<polygon points="1183.6,484.3 1196.0,477.2 1183.5,466.4 1171.1,473.5" fill="#ff6e00"/>
<polygon points="768.8,630.2 781.6,614.7 770.3,609.5 757.5,625.0" fill="#7bff00"/>
<polygon points="1258.3,518.4 1270.4,512.0 1257.9,499.3 1245.8,505.7" fill="#ffab00"/>
<polygon points="1308.0,553.0 1319.9,547.0 1307.5,532.9 1295.5,538.9" fill="#ffeb00"/>
<polygon points="1008.3,480.5 1021.1,470.5 1009.0,463.1 996.2,473.1" fill="#ff6800"/>
<polygon points="1221.0,500.2 1233.3,493.5 1220.7,481.7 1208.5,488.5" fill="#ff8900"/>
<polygon points="756.0,646.2 768.8,630.2 757.5,625.0 744.8,640.9" fill="#5eff00"/>
<polygon points="844.6,561.9 857.5,548.3 845.8,542.8 833.0,556.4" fill="#feff00"/>
<polygon points="1158.6,481.1 1171.1,473.5 1158.6,463.3 1146.1,470.8" fill="#ff6400"/>
<polygon points="895.0,528.3 907.9,515.8 896.1,509.8 883.2,522.3" fill="#ffc000"/>
<polygon points="1033.4,478.3 1046.1,468.7 1033.9,460.9 1021.1,470.5" fill="#ff6000"/>
<polygon points="1320.5,567.6 1332.4,561.6 1319.9,547.0 1308.0,553.0" fill="#fcff00"/>
<polygon points="970.5,494.3 983.4,483.5 971.3,476.6 958.5,487.4" fill="#ff7e00"/>
<polygon points="932.7,510.2 945.6,498.6 933.7,492.2 920.8,503.8" fill="#ff9c00"/>
<polygon points="1133.6,478.8 1146.1,470.8 1133.7,461.0 1121.2,468.9" fill="#ff5d00"/>
<polygon points="1270.9,531.6 1283.0,525.2 1270.4,512.0 1258.3,518.4" fill="#ffbe00"/>
<polygon points="831.7,576.0 844.6,561.9 833.0,556.4 820.1,570.4" fill="#e8ff00"/>
<polygon points="1058.4,477.1 1071.1,467.9 1058.8,459.6 1046.1,468.7" fill="#ff5b00"/>
<polygon points="1108.6,477.3 1121.2,468.9 1108.8,459.6 1096.2,468.0" fill="#ff5900"/>
<polygon points="1196.1,495.6 1208.5,488.5 1196.0,477.2 1183.6,484.3" fill="#ff7a00"/>
<polygon points="1333.0,582.7 1344.8,576.6 1332.4,561.6 1320.5,567.6" fill="#e3ff00"/>
<polygon points="1083.5,476.8 1096.2,468.0 1083.8,459.1 1071.1,467.9" fill="#ff5800"/>
<polygon points="1233.5,512.5 1245.8,505.7 1233.3,493.5 1221.0,500.2" fill="#ff9800"/>
<polygon points="882.1,541.1 895.0,528.3 883.2,522.3 870.3,535.1" fill="#ffd200"/>
<polygon points="995.5,490.9 1008.3,480.5 996.2,473.1 983.4,483.5" fill="#ff7200"/>
<polygon points="1345.4,598.2 1357.3,592.2 1344.8,576.6 1333.0,582.7" fill="#c9ff00"/>
<polygon points="818.8,590.4 831.7,576.0 820.1,570.4 807.3,584.8" fill="#d0ff00"/>
<polygon points="1283.4,545.3 1295.5,538.9 1283.0,525.2 1270.9,531.6" fill="#ffd200"/>
<polygon points="1357.8,614.2 1369.6,608.1 1357.3,592.2 1345.4,598.2" fill="#adff00"/>
<polygon points="919.8,522.3 932.7,510.2 920.8,503.8 907.9,515.8" fill="#ffab00"/>
<polygon points="1171.1,491.9 1183.6,484.3 1171.1,473.5 1158.6,481.1" fill="#ff6f00"/>
<polygon points="957.6,505.5 970.5,494.3 958.5,487.4 945.6,498.6" fill="#ff8b00"/>
<polygon points="1370.2,630.7 1382.0,624.5 1369.6,608.1 1357.8,614.2" fill="#90ff00"/>
<polygon points="805.9,605.2 818.8,590.4 807.3,584.8 794.4,599.5" fill="#b8ff00"/>
<polygon points="1382.6,647.6 1394.3,641.4 1382.0,624.5 1370.2,630.7" fill="#71ff00"/>
<polygon points="869.2,554.4 882.1,541.1 870.3,535.1 857.5,548.3" fill="#ffe600"/>
<polygon points="1020.5,488.4 1033.4,478.3 1021.1,470.5 1008.3,480.5" fill="#ff6800"/>
<polygon points="1246.1,525.2 1258.3,518.4 1245.8,505.7 1233.5,512.5" fill="#ffa900"/>
<polygon points="1208.7,507.4 1221.0,500.2 1208.5,488.5 1196.1,495.6" fill="#ff8800"/>
<polygon points="793.0,620.4 805.9,605.2 794.4,599.5 781.6,614.7" fill="#9eff00"/>
<polygon points="1146.1,489.1 1158.6,481.1 1146.1,470.8 1133.6,478.8" fill="#ff6600"/>
<polygon points="1295.9,559.5 1308.0,553.0 1295.5,538.9 1283.4,545.3" fill="#ffe700"/>
<polygon points="1045.6,486.7 1058.4,477.1 1046.1,468.7 1033.4,478.3" fill="#ff6200"/>
<polygon points="780.2,636.0 793.0,620.4 781.6,614.7 768.8,630.2" fill="#83ff00"/>
<polygon points="1121.0,487.1 1133.6,478.8 1121.2,468.9 1108.6,477.3" fill="#ff6100"/>
<polygon points="906.9,534.8 919.8,522.3 907.9,515.8 895.0,528.3" fill="#ffbc00"/>
<polygon points="1070.8,486.0 1083.5,476.8 1071.1,467.9 1058.4,477.1" fill="#ff5f00"/>
<polygon points="982.6,501.7 995.5,490.9 983.4,483.5 970.5,494.3" fill="#ff7d00"/>
<polygon points="856.2,568.0 869.2,554.4 857.5,548.3 844.6,561.9" fill="#fffa00"/>
<polygon points="1095.9,486.1 1108.6,477.3 1096.2,468.0 1083.5,476.8" fill="#ff5e00"/>
<polygon points="767.4,651.9 780.2,636.0 768.8,630.2 756.0,646.2" fill="#66ff00"/>
<polygon points="1308.5,574.1 1320.5,567.6 1308.0,553.0 1295.9,559.5" fill="#fffe00"/>
<polygon points="944.7,517.2 957.6,505.5 945.6,498.6 932.7,510.2" fill="#ff9900"/>
<polygon points="1183.7,503.2 1196.1,495.6 1183.6,484.3 1171.1,491.9" fill="#ff7b00"/>
<polygon points="1258.7,538.4 1270.9,531.6 1258.3,518.4 1246.1,525.2" fill="#ffbb00"/>
<polygon points="1221.2,519.7 1233.5,512.5 1221.0,500.2 1208.7,507.4" fill="#ff9700"/>
<polygon points="1321.0,589.2 1333.0,582.7 1320.5,567.6 1308.5,574.1" fill="#e7ff00"/>
<polygon points="843.3,582.1 856.2,568.0 844.6,561.9 831.7,576.0" fill="#eeff00"/>
<polygon points="1007.7,498.8 1020.5,488.4 1008.3,480.5 995.5,490.9" fill="#ff7200"/>
<polygon points="893.9,547.6 906.9,534.8 895.0,528.3 882.1,541.1" fill="#ffce00"/>
<polygon points="1158.6,499.9 1171.1,491.9 1158.6,481.1 1146.1,489.1" fill="#ff7100"/>
<polygon points="1333.5,604.8 1345.4,598.2 1333.0,582.7 1321.0,589.2" fill="#cdff00"/>
<polygon points="1271.2,552.1 1283.4,545.3 1270.9,531.6 1258.7,538.4" fill="#ffcf00"/>
<polygon points="830.4,596.5 843.3,582.1 831.7,576.0 818.8,590.4" fill="#d7ff00"/>
<polygon points="969.7,513.0 982.6,501.7 970.5,494.3 957.6,505.5" fill="#ff8a00"/>
<polygon points="1032.8,496.7 1045.6,486.7 1033.4,478.3 1020.5,488.4" fill="#ff6b00"/>
<polygon points="931.8,529.3 944.7,517.2 932.7,510.2 919.8,522.3" fill="#ffa800"/>
<polygon points="1345.9,620.8 1357.8,614.2 1345.4,598.2 1333.5,604.8" fill="#b1ff00"/>
<polygon points="1133.5,497.5 1146.1,489.1 1133.6,478.8 1121.0,487.1" fill="#ff6a00"/>
<polygon points="1358.3,637.2 1370.2,630.7 1357.8,614.2 1345.9,620.8" fill="#94ff00"/>
<polygon points="1196.2,515.0 1208.7,507.4 1196.1,495.6 1183.7,503.2" fill="#ff8900"/>
<polygon points="1370.7,654.1 1382.6,647.6 1370.2,630.7 1358.3,637.2" fill="#75ff00"/>
<polygon points="1233.8,532.4 1246.1,525.2 1233.5,512.5 1221.2,519.7" fill="#ffa800"/>
<polygon points="1058.0,495.6 1070.8,486.0 1058.4,477.1 1045.6,486.7" fill="#ff6600"/>
<polygon points="1108.3,496.0 1121.0,487.1 1108.6,477.3 1095.9,486.1" fill="#ff6500"/>
<polygon points="817.5,611.3 830.4,596.5 818.8,590.4 805.9,605.2" fill="#beff00"/>
<polygon points="881.0,560.9 893.9,547.6 882.1,541.1 869.2,554.4" fill="#ffe100"/>
<polygon points="1083.2,495.3 1095.9,486.1 1083.5,476.8 1070.8,486.0" fill="#ff6400"/>
<polygon points="1283.8,566.3 1295.9,559.5 1283.4,545.3 1271.2,552.1" fill="#ffe500"/>
<polygon points="994.8,509.6 1007.7,498.8 995.5,490.9 982.6,501.7" fill="#ff7e00"/>
<polygon points="804.6,626.5 817.5,611.3 805.9,605.2 793.0,620.4" fill="#a4ff00"/>
<polygon points="918.8,541.8 931.8,529.3 919.8,522.3 906.9,534.8" fill="#ffb900"/>
<polygon points="1171.2,511.2 1183.7,503.2 1171.1,491.9 1158.6,499.9" fill="#ff7d00"/>
<polygon points="791.7,642.1 804.6,626.5 793.0,620.4 780.2,636.0" fill="#89ff00"/>
<polygon points="956.8,524.7 969.7,513.0 957.6,505.5 944.7,517.2" fill="#ff9800"/>
<polygon points="1296.3,581.0 1308.5,574.1 1295.9,559.5 1283.8,566.3" fill="#fffc00"/>
<polygon points="868.0,574.6 881.0,560.9 869.2,554.4 856.2,568.0" fill="#fff600"/>
<polygon points="1246.4,545.7 1258.7,538.4 1246.1,525.2 1233.8,532.4" fill="#ffba00"/>
<polygon points="778.8,658.1 791.7,642.1 780.2,636.0 767.4,651.9" fill="#6dff00"/>
<polygon points="1208.8,527.3 1221.2,519.7 1208.7,507.4 1196.2,515.0" fill="#ff9800"/>
<polygon points="1020.0,507.2 1032.8,496.7 1020.5,488.4 1007.7,498.8" fill="#ff7500"/>
<polygon points="1146.0,508.3 1158.6,499.9 1146.1,489.1 1133.5,497.5" fill="#ff7400"/>
<polygon points="1308.9,596.1 1321.0,589.2 1308.5,574.1 1296.3,581.0" fill="#eaff00"/>
<polygon points="855.0,588.6 868.0,574.6 856.2,568.0 843.3,582.1" fill="#f2ff00"/>
<polygon points="1045.2,505.6 1058.0,495.6 1045.6,486.7 1032.8,496.7" fill="#ff6f00"/>
<polygon points="905.8,554.6 918.8,541.8 906.9,534.8 893.9,547.6" fill="#ffcb00"/>
<polygon points="1120.8,506.3 1133.5,497.5 1121.0,487.1 1108.3,496.0" fill="#ff6e00"/>
<polygon points="1259.0,559.4 1271.2,552.1 1258.7,538.4 1246.4,545.7" fill="#ffce00"/>
<polygon points="1321.4,611.7 1333.5,604.8 1321.0,589.2 1308.9,596.1" fill="#d0ff00"/>
<polygon points="981.9,520.9 994.8,509.6 982.6,501.7 969.7,513.0" fill="#ff8b00"/>
<polygon points="1070.4,505.0 1083.2,495.3 1070.8,486.0 1058.0,495.6" fill="#ff6c00"/>
<polygon points="1095.6,505.2 1108.3,496.0 1095.9,486.1 1083.2,495.3" fill="#ff6b00"/>
<polygon points="943.8,536.7 956.8,524.7 944.7,517.2 931.8,529.3" fill="#ffa700"/>
<polygon points="1183.7,523.0 1196.2,515.0 1183.7,503.2 1171.2,511.2" fill="#ff8a00"/>
<polygon points="1333.9,627.7 1345.9,620.8 1333.5,604.8 1321.4,611.7" fill="#b4ff00"/>
<polygon points="842.1,603.1 855.0,588.6 843.3,582.1 830.4,596.5" fill="#dbff00"/>
<polygon points="1221.4,540.1 1233.8,532.4 1221.2,519.7 1208.8,527.3" fill="#ffa800"/>
<polygon points="1346.4,644.2 1358.3,637.2 1345.9,620.8 1333.9,627.7" fill="#97ff00"/>
<polygon points="1358.8,661.1 1370.7,654.1 1358.3,637.2 1346.4,644.2" fill="#78ff00"/>
<polygon points="1271.6,573.6 1283.8,566.3 1271.2,552.1 1259.0,559.4" fill="#ffe400"/>
<polygon points="892.9,567.9 905.8,554.6 893.9,547.6 881.0,560.9" fill="#ffde00"/>
<polygon points="1007.1,518.1 1020.0,507.2 1007.7,498.8 994.8,509.6" fill="#ff8000"/>
<polygon points="829.1,618.0 842.1,603.1 830.4,596.5 817.5,611.3" fill="#c3ff00"/>
<polygon points="1158.6,519.6 1171.2,511.2 1158.6,499.9 1146.0,508.3" fill="#ff8000"/>
<polygon points="930.8,549.2 943.8,536.7 931.8,529.3 918.8,541.8" fill="#ffb800"/>
<polygon points="968.9,532.6 981.9,520.9 969.7,513.0 956.8,524.7" fill="#ff9800"/>
<polygon points="816.2,633.2 829.1,618.0 817.5,611.3 804.6,626.5" fill="#a9ff00"/>
<polygon points="1032.3,516.1 1045.2,505.6 1032.8,496.7 1020.0,507.2" fill="#ff7900"/>
<polygon points="1234.0,553.3 1246.4,545.7 1233.8,532.4 1221.4,540.1" fill="#ffbb00"/>
<polygon points="1284.1,588.3 1296.3,581.0 1283.8,566.3 1271.6,573.6" fill="#fffa00"/>
<polygon points="1196.3,535.3 1208.8,527.3 1196.2,515.0 1183.7,523.0" fill="#ff9900"/>
<polygon points="1133.4,517.1 1146.0,508.3 1133.5,497.5 1120.8,506.3" fill="#ff7900"/>
<polygon points="879.9,581.6 892.9,567.9 881.0,560.9 868.0,574.6" fill="#fff300"/>
<polygon points="803.3,648.8 816.2,633.2 804.6,626.5 791.7,642.1" fill="#8eff00"/>
<polygon points="1057.6,515.0 1070.4,505.0 1058.0,495.6 1045.2,505.6" fill="#ff7400"/>
<polygon points="1108.1,515.5 1120.8,506.3 1108.3,496.0 1095.6,505.2" fill="#ff7400"/>
<polygon points="1082.8,514.8 1095.6,505.2 1083.2,495.3 1070.4,505.0" fill="#ff7300"/>
<polygon points="790.4,664.8 803.3,648.8 791.7,642.1 778.8,658.1" fill="#72ff00"/>
<polygon points="1296.7,603.4 1308.9,596.1 1296.3,581.0 1284.1,588.3" fill="#ebff00"/>
<polygon points="994.1,529.3 1007.1,518.1 994.8,509.6 981.9,520.9" fill="#ff8d00"/>
<polygon points="1246.6,567.0 1259.0,559.4 1246.4,545.7 1234.0,553.3" fill="#ffce00"/>
<polygon points="917.8,562.1 930.8,549.2 918.8,541.8 905.8,554.6" fill="#ffca00"/>
<polygon points="866.9,595.7 879.9,581.6 868.0,574.6 855.0,588.6" fill="#f6ff00"/>
<polygon points="1171.2,531.5 1183.7,523.0 1171.2,511.2 1158.6,519.6" fill="#ff8d00"/>
<polygon points="1309.3,619.0 1321.4,611.7 1308.9,596.1 1296.7,603.4" fill="#d1ff00"/>
<polygon points="956.0,544.7 968.9,532.6 956.8,524.7 943.8,536.7" fill="#ffa800"/>
<polygon points="1209.0,548.1 1221.4,540.1 1208.8,527.3 1196.3,535.3" fill="#ffaa00"/>
<polygon points="1321.8,635.0 1333.9,627.7 1321.4,611.7 1309.3,619.0" fill="#b6ff00"/>
<polygon points="1019.4,527.0 1032.3,516.1 1020.0,507.2 1007.1,518.1" fill="#ff8400"/>
<polygon points="853.9,610.2 866.9,595.7 855.0,588.6 842.1,603.1" fill="#dfff00"/>
<polygon points="1145.9,528.5 1158.6,519.6 1146.0,508.3 1133.4,517.1" fill="#ff8400"/>
<polygon points="1334.3,651.6 1346.4,644.2 1333.9,627.7 1321.8,635.0" fill="#99ff00"/>
<polygon points="1346.8,668.5 1358.8,661.1 1346.4,644.2 1334.3,651.6" fill="#7aff00"/>
<polygon points="1259.2,581.3 1271.6,573.6 1259.0,559.4 1246.6,567.0" fill="#ffe400"/>
<polygon points="904.8,575.4 917.8,562.1 905.8,554.6 892.9,567.9" fill="#ffdd00"/>
<polygon points="1044.7,525.5 1057.6,515.0 1045.2,505.6 1032.3,516.1" fill="#ff7e00"/>
<polygon points="1120.7,526.4 1133.4,517.1 1120.8,506.3 1108.1,515.5" fill="#ff7e00"/>
<polygon points="840.9,625.1 853.9,610.2 842.1,603.1 829.1,618.0" fill="#c6ff00"/>
<polygon points="981.2,541.0 994.1,529.3 981.9,520.9 968.9,532.6" fill="#ff9b00"/>
<polygon points="1070.0,524.9 1082.8,514.8 1070.4,505.0 1057.6,515.0" fill="#ff7b00"/>
<polygon points="1183.8,543.8 1196.3,535.3 1183.7,523.0 1171.2,531.5" fill="#ff9c00"/>
<polygon points="1095.3,525.2 1108.1,515.5 1095.6,505.2 1082.8,514.8" fill="#ff7b00"/>
<polygon points="1221.6,561.4 1234.0,553.3 1221.4,540.1 1209.0,548.1" fill="#ffbc00"/>
<polygon points="943.0,557.2 956.0,544.7 943.8,536.7 930.8,549.2" fill="#ffb800"/>
<polygon points="1271.8,596.0 1284.1,588.3 1271.6,573.6 1259.2,581.3" fill="#fffa00"/>
<polygon points="828.0,640.3 840.9,625.1 829.1,618.0 816.2,633.2" fill="#adff00"/>
<polygon points="891.8,589.2 904.8,575.4 892.9,567.9 879.9,581.6" fill="#fff100"/>
<polygon points="815.0,656.0 828.0,640.3 816.2,633.2 803.3,648.8" fill="#92ff00"/>
<polygon points="1006.4,538.3 1019.4,527.0 1007.1,518.1 994.1,529.3" fill="#ff9000"/>
<polygon points="1284.4,611.1 1296.7,603.4 1284.1,588.3 1271.8,596.0" fill="#ebff00"/>
<polygon points="1158.5,540.3 1171.2,531.5 1158.6,519.6 1145.9,528.5" fill="#ff9200"/>
<polygon points="1234.2,575.1 1246.6,567.0 1234.0,553.3 1221.6,561.4" fill="#ffd000"/>
<polygon points="802.1,672.0 815.0,656.0 803.3,648.8 790.4,664.8" fill="#76ff00"/>
<polygon points="929.9,570.1 943.0,557.2 930.8,549.2 917.8,562.1" fill="#ffca00"/>
<polygon points="1196.4,556.6 1209.0,548.1 1196.3,535.3 1183.8,543.8" fill="#ffad00"/>
<polygon points="968.2,553.2 981.2,541.0 968.9,532.6 956.0,544.7" fill="#ffaa00"/>
<polygon points="1297.0,626.7 1309.3,619.0 1296.7,603.4 1284.4,611.1" fill="#d1ff00"/>
<polygon points="878.8,603.3 891.8,589.2 879.9,581.6 866.9,595.7" fill="#f7ff00"/>
<polygon points="1031.8,536.4 1044.7,525.5 1032.3,516.1 1019.4,527.0" fill="#ff8900"/>
<polygon points="1133.2,537.8 1145.9,528.5 1133.4,517.1 1120.7,526.4" fill="#ff8a00"/>
<polygon points="1309.6,642.8 1321.8,635.0 1309.3,619.0 1297.0,626.7" fill="#b6ff00"/>
<polygon points="1057.1,535.4 1070.0,524.9 1057.6,515.0 1044.7,525.5" fill="#ff8500"/>
<polygon points="1107.9,536.1 1120.7,526.4 1108.1,515.5 1095.3,525.2" fill="#ff8500"/>
<polygon points="1082.5,535.3 1095.3,525.2 1082.8,514.8 1070.0,524.9" fill="#ff8400"/>
<polygon points="1246.8,589.4 1259.2,581.3 1246.6,567.0 1234.2,575.1" fill="#ffe500"/>
<polygon points="1322.1,659.3 1334.3,651.6 1321.8,635.0 1309.6,642.8" fill="#99ff00"/>
<polygon points="865.8,617.8 878.8,603.3 866.9,595.7 853.9,610.2" fill="#e0ff00"/>
<polygon points="1334.6,676.3 1346.8,668.5 1334.3,651.6 1322.1,659.3" fill="#7bff00"/>
<polygon points="916.9,583.5 929.9,570.1 917.8,562.1 904.8,575.4" fill="#ffdd00"/>
<polygon points="1171.2,552.6 1183.8,543.8 1171.2,531.5 1158.5,540.3" fill="#ffa100"/>
<polygon points="993.5,550.0 1006.4,538.3 994.1,529.3 981.2,541.0" fill="#ff9e00"/>
<polygon points="1209.1,569.9 1221.6,561.4 1209.0,548.1 1196.4,556.6" fill="#ffbf00"/>
<polygon points="955.1,565.7 968.2,553.2 956.0,544.7 943.0,557.2" fill="#ffba00"/>
<polygon points="852.8,632.7 865.8,617.8 853.9,610.2 840.9,625.1" fill="#c8ff00"/>
<polygon points="1259.5,604.1 1271.8,596.0 1259.2,581.3 1246.8,589.4" fill="#fffc00"/>
<polygon points="1145.8,549.6 1158.5,540.3 1145.9,528.5 1133.2,537.8" fill="#ff9700"/>
<polygon points="1018.8,547.7 1031.8,536.4 1019.4,527.0 1006.4,538.3" fill="#ff9500"/>
<polygon points="903.9,597.2 916.9,583.5 904.8,575.4 891.8,589.2" fill="#fff100"/>
<polygon points="839.8,647.9 852.8,632.7 840.9,625.1 828.0,640.3" fill="#aeff00"/>
<polygon points="1272.1,619.2 1284.4,611.1 1271.8,596.0 1259.5,604.1" fill="#eaff00"/>
<polygon points="1221.7,583.6 1234.2,575.1 1221.6,561.4 1209.1,569.9" fill="#ffd200"/>
<polygon points="1120.5,547.4 1133.2,537.8 1120.7,526.4 1107.9,536.1" fill="#ff9100"/>
<polygon points="1044.2,546.3 1057.1,535.4 1044.7,525.5 1031.8,536.4" fill="#ff9000"/>
<polygon points="1183.8,565.5 1196.4,556.6 1183.8,543.8 1171.2,552.6" fill="#ffb100"/>
<polygon points="826.8,663.6 839.8,647.9 828.0,640.3 815.0,656.0" fill="#94ff00"/>
<polygon points="980.4,562.1 993.5,550.0 981.2,541.0 968.2,553.2" fill="#ffad00"/>
<polygon points="942.1,578.6 955.1,565.7 943.0,557.2 929.9,570.1" fill="#ffcc00"/>
<polygon points="1095.0,546.2 1107.9,536.1 1095.3,525.2 1082.5,535.3" fill="#ff8e00"/>
<polygon points="1069.6,545.8 1082.5,535.3 1070.0,524.9 1057.1,535.4" fill="#ff8d00"/>
<polygon points="1284.7,634.9 1297.0,626.7 1284.4,611.1 1272.1,619.2" fill="#d0ff00"/>
<polygon points="813.8,679.6 826.8,663.6 815.0,656.0 802.1,672.0" fill="#78ff00"/>
<polygon points="890.8,611.3 903.9,597.2 891.8,589.2 878.8,603.3" fill="#f7ff00"/>
<polygon points="1297.3,651.0 1309.6,642.8 1297.0,626.7 1284.7,634.9" fill="#b5ff00"/>
<polygon points="1234.4,597.9 1246.8,589.4 1234.2,575.1 1221.7,583.6" fill="#ffe800"/>
<polygon points="1158.5,561.9 1171.2,552.6 1158.5,540.3 1145.8,549.6" fill="#ffa600"/>
<polygon points="1005.8,559.4 1018.8,547.7 1006.4,538.3 993.5,550.0" fill="#ffa300"/>
<polygon points="1309.9,667.5 1322.1,659.3 1309.6,642.8 1297.3,651.0" fill="#98ff00"/>
<polygon points="1322.4,684.5 1334.6,676.3 1322.1,659.3 1309.9,667.5" fill="#7aff00"/>
<polygon points="1196.5,578.8 1209.1,569.9 1196.4,556.6 1183.8,565.5" fill="#ffc300"/>
<polygon points="877.8,625.8 890.8,611.3 878.8,603.3 865.8,617.8" fill="#e0ff00"/>
<polygon points="929.1,592.0 942.1,578.6 929.9,570.1 916.9,583.5" fill="#ffdf00"/>
<polygon points="967.4,574.7 980.4,562.1 968.2,553.2 955.1,565.7" fill="#ffbd00"/>
<polygon points="1133.1,559.3 1145.8,549.6 1133.2,537.8 1120.5,547.4" fill="#ff9e00"/>
<polygon points="1031.2,557.6 1044.2,546.3 1031.8,536.4 1018.8,547.7" fill="#ff9c00"/>
<polygon points="1247.0,612.6 1259.5,604.1 1246.8,589.4 1234.4,597.9" fill="#fffe00"/>
<polygon points="864.8,640.7 877.8,625.8 865.8,617.8 852.8,632.7" fill="#c8ff00"/>
<polygon points="1107.6,557.5 1120.5,547.4 1107.9,536.1 1095.0,546.2" fill="#ff9900"/>
<polygon points="1056.7,556.7 1069.6,545.8 1057.1,535.4 1044.2,546.3" fill="#ff9800"/>
<polygon points="1082.2,556.7 1095.0,546.2 1082.5,535.3 1069.6,545.8" fill="#ff9700"/>
<polygon points="916.0,605.7 929.1,592.0 916.9,583.5 903.9,597.2" fill="#fff300"/>
<polygon points="1171.1,574.8 1183.8,565.5 1171.2,552.6 1158.5,561.9" fill="#ffb600"/>
<polygon points="1209.1,592.5 1221.7,583.6 1209.1,569.9 1196.5,578.8" fill="#ffd600"/>
<polygon points="1259.7,627.8 1272.1,619.2 1259.5,604.1 1247.0,612.6" fill="#e8ff00"/>
<polygon points="851.7,656.0 864.8,640.7 852.8,632.7 839.8,647.9" fill="#afff00"/>
<polygon points="992.8,571.6 1005.8,559.4 993.5,550.0 980.4,562.1" fill="#ffb200"/>
<polygon points="954.4,587.6 967.4,574.7 955.1,565.7 942.1,578.6" fill="#ffcf00"/>
<polygon points="838.7,671.7 851.7,656.0 839.8,647.9 826.8,663.6" fill="#94ff00"/>
<polygon points="1272.3,643.4 1284.7,634.9 1272.1,619.2 1259.7,627.8" fill="#ceff00"/>
<polygon points="1145.7,571.7 1158.5,561.9 1145.8,549.6 1133.1,559.3" fill="#ffad00"/>
<polygon points="902.9,619.8 916.0,605.7 903.9,597.2 890.8,611.3" fill="#f6ff00"/>
<polygon points="825.7,687.8 838.7,671.7 826.8,663.6 813.8,679.6" fill="#78ff00"/>
<polygon points="1018.2,569.4 1031.2,557.6 1018.8,547.7 1005.8,559.4" fill="#ffaa00"/>
<polygon points="1221.8,606.8 1234.4,597.9 1221.7,583.6 1209.1,592.5" fill="#ffeb00"/>
<polygon points="1284.9,659.5 1297.3,651.0 1284.7,634.9 1272.3,643.4" fill="#b3ff00"/>
<polygon points="1183.8,588.1 1196.5,578.8 1183.8,565.5 1171.1,574.8" fill="#ffc800"/>
<polygon points="1297.5,676.1 1309.9,667.5 1297.3,651.0 1284.9,659.5" fill="#96ff00"/>
<polygon points="1120.2,569.4 1133.1,559.3 1120.5,547.4 1107.6,557.5" fill="#ffa600"/>
<polygon points="1043.7,568.0 1056.7,556.7 1044.2,546.3 1031.2,557.6" fill="#ffa400"/>
<polygon points="1310.1,693.1 1322.4,684.5 1309.9,667.5 1297.5,676.1" fill="#78ff00"/>
<polygon points="941.3,601.0 954.4,587.6 942.1,578.6 929.1,592.0" fill="#ffe200"/>
<polygon points="979.8,584.1 992.8,571.6 980.4,562.1 967.4,574.7" fill="#ffc200"/>
<polygon points="889.9,634.4 902.9,619.8 890.8,611.3 877.8,625.8" fill="#dfff00"/>
<polygon points="1094.8,568.1 1107.6,557.5 1095.0,546.2 1082.2,556.7" fill="#ffa300"/>
<polygon points="1069.2,567.6 1082.2,556.7 1069.6,545.8 1056.7,556.7" fill="#ffa200"/>
<polygon points="1234.5,621.5 1247.0,612.6 1234.4,597.9 1221.8,606.8" fill="#fcff00"/>
<polygon points="1158.4,584.5 1171.1,574.8 1158.5,561.9 1145.7,571.7" fill="#ffbd00"/>
<polygon points="876.8,649.3 889.9,634.4 877.8,625.8 864.8,640.7" fill="#c7ff00"/>
<polygon points="1196.5,601.9 1209.1,592.5 1196.5,578.8 1183.8,588.1" fill="#ffdc00"/>
<polygon points="1005.2,581.5 1018.2,569.4 1005.8,559.4 992.8,571.6" fill="#ffb900"/>
<polygon points="928.2,614.7 941.3,601.0 929.1,592.0 916.0,605.7" fill="#fff600"/>
<polygon points="1247.1,636.7 1259.7,627.8 1247.0,612.6 1234.5,621.5" fill="#e4ff00"/>
<polygon points="966.7,597.1 979.8,584.1 967.4,574.7 954.4,587.6" fill="#ffd400"/>
<polygon points="863.7,664.6 876.8,649.3 864.8,640.7 851.7,656.0" fill="#aeff00"/>
<polygon points="1132.9,581.8 1145.7,571.7 1133.1,559.3 1120.2,569.4" fill="#ffb500"/>
<polygon points="1030.7,579.8 1043.7,568.0 1031.2,557.6 1018.2,569.4" fill="#ffb200"/>
<polygon points="1259.8,652.4 1272.3,643.4 1259.7,627.8 1247.1,636.7" fill="#caff00"/>
<polygon points="850.7,680.3 863.7,664.6 851.7,656.0 838.7,671.7" fill="#93ff00"/>
<polygon points="1107.4,580.0 1120.2,569.4 1107.6,557.5 1094.8,568.1" fill="#ffb000"/>
<polygon points="1209.2,616.2 1221.8,606.8 1209.1,592.5 1196.5,601.9" fill="#fff100"/>
<polygon points="1056.3,579.0 1069.2,567.6 1056.7,556.7 1043.7,568.0" fill="#ffae00"/>
<polygon points="915.1,628.9 928.2,614.7 916.0,605.7 902.9,619.8" fill="#f3ff00"/>
<polygon points="1171.1,597.8 1183.8,588.1 1171.1,574.8 1158.4,584.5" fill="#ffcf00"/>
<polygon points="1081.8,579.0 1094.8,568.1 1082.2,556.7 1069.2,567.6" fill="#ffad00"/>
<polygon points="1272.4,668.5 1284.9,659.5 1272.3,643.4 1259.8,652.4" fill="#afff00"/>
<polygon points="837.7,696.4 850.7,680.3 838.7,671.7 825.7,687.8" fill="#77ff00"/>
<polygon points="992.2,594.1 1005.2,581.5 992.8,571.6 979.8,584.1" fill="#ffc900"/>
<polygon points="1285.1,685.1 1297.5,676.1 1284.9,659.5 1272.4,668.5" fill="#93ff00"/>
<polygon points="953.6,610.5 966.7,597.1 954.4,587.6 941.3,601.0" fill="#ffe700"/>
<polygon points="1297.7,702.1 1310.1,693.1 1297.5,676.1 1285.1,685.1" fill="#74ff00"/>
<polygon points="1221.9,630.9 1234.5,621.5 1221.8,606.8 1209.2,616.2" fill="#f7ff00"/>
<polygon points="902.0,643.4 915.1,628.9 902.9,619.8 889.9,634.4" fill="#dcff00"/>
<polygon points="1145.6,594.6 1158.4,584.5 1145.7,571.7 1132.9,581.8" fill="#ffc500"/>
<polygon points="1017.7,592.0 1030.7,579.8 1018.2,569.4 1005.2,581.5" fill="#ffc100"/>
<polygon points="1183.8,611.6 1196.5,601.9 1183.8,588.1 1171.1,597.8" fill="#ffe200"/>
<polygon points="1120.0,592.3 1132.9,581.8 1120.2,569.4 1107.4,580.0" fill="#ffbe00"/>
<polygon points="1234.6,646.1 1247.1,636.7 1234.5,621.5 1221.9,630.9" fill="#dfff00"/>
<polygon points="888.9,658.4 902.0,643.4 889.9,634.4 876.8,649.3" fill="#c4ff00"/>
<polygon points="940.5,624.2 953.6,610.5 941.3,601.0 928.2,614.7" fill="#fffb00"/>
<polygon points="1043.3,590.7 1056.3,579.0 1043.7,568.0 1030.7,579.8" fill="#ffbc00"/>
<polygon points="979.1,607.1 992.2,594.1 979.8,584.1 966.7,597.1" fill="#ffda00"/>
<polygon points="1094.4,590.9 1107.4,580.0 1094.8,568.1 1081.8,579.0" fill="#ffba00"/>
<polygon points="1068.8,590.4 1081.8,579.0 1069.2,567.6 1056.3,579.0" fill="#ffba00"/>
<polygon points="875.9,673.7 888.9,658.4 876.8,649.3 863.7,664.6" fill="#abff00"/>
<polygon points="1247.2,661.8 1259.8,652.4 1247.1,636.7 1234.6,646.1" fill="#c6ff00"/>
<polygon points="1158.3,608.0 1171.1,597.8 1158.4,584.5 1145.6,594.6" fill="#ffd700"/>
<polygon points="1196.5,625.9 1209.2,616.2 1196.5,601.9 1183.8,611.6" fill="#fff700"/>
<polygon points="927.4,638.4 940.5,624.2 928.2,614.7 915.1,628.9" fill="#eeff00"/>
<polygon points="1259.9,677.9 1272.4,668.5 1259.8,652.4 1247.2,661.8" fill="#aaff00"/>
<polygon points="862.8,689.4 875.9,673.7 863.7,664.6 850.7,680.3" fill="#90ff00"/>
<polygon points="1004.6,604.5 1017.7,592.0 1005.2,581.5 992.2,594.1" fill="#ffd100"/>
<polygon points="966.0,620.4 979.1,607.1 966.7,597.1 953.6,610.5" fill="#ffed00"/>
<polygon points="1272.6,694.5 1285.1,685.1 1272.4,668.5 1259.9,677.9" fill="#8eff00"/>
<polygon points="849.7,705.5 862.8,689.4 850.7,680.3 837.7,696.4" fill="#74ff00"/>
<polygon points="1132.7,605.2 1145.6,594.6 1132.9,581.8 1120.0,592.3" fill="#ffce00"/>
<polygon points="1285.2,711.6 1297.7,702.1 1285.1,685.1 1272.6,694.5" fill="#70ff00"/>
<polygon points="1209.2,640.7 1221.9,630.9 1209.2,616.2 1196.5,625.9" fill="#f1ff00"/>
<polygon points="1030.2,602.9 1043.3,590.7 1030.7,579.8 1017.7,592.0" fill="#ffca00"/>
<polygon points="914.3,653.0 927.4,638.4 915.1,628.9 902.0,643.4" fill="#d7ff00"/>
<polygon points="1171.0,621.8 1183.8,611.6 1171.1,597.8 1158.3,608.0" fill="#ffea00"/>
<polygon points="1107.1,603.3 1120.0,592.3 1107.4,580.0 1094.4,590.9" fill="#ffc900"/>
<polygon points="1055.8,602.2 1068.8,590.4 1056.3,579.0 1043.3,590.7" fill="#ffc700"/>
<polygon points="1081.5,602.3 1094.4,590.9 1081.8,579.0 1068.8,590.4" fill="#ffc600"/>
<polygon points="1221.9,655.9 1234.6,646.1 1221.9,630.9 1209.2,640.7" fill="#d9ff00"/>
<polygon points="991.5,617.5 1004.6,604.5 992.2,594.1 979.1,607.1" fill="#ffe200"/>
<polygon points="952.8,634.2 966.0,620.4 953.6,610.5 940.5,624.2" fill="#fdff00"/>
<polygon points="901.2,667.9 914.3,653.0 902.0,643.4 888.9,658.4" fill="#c0ff00"/>
<polygon points="1145.4,618.5 1158.3,608.0 1145.6,594.6 1132.7,605.2" fill="#ffe000"/>
<polygon points="1183.7,636.1 1196.5,625.9 1183.8,611.6 1171.0,621.8" fill="#ffff00"/>
<polygon points="1234.6,671.6 1247.2,661.8 1234.6,646.1 1221.9,655.9" fill="#bfff00"/>
<polygon points="1017.1,615.5 1030.2,602.9 1017.7,592.0 1004.6,604.5" fill="#ffda00"/>
<polygon points="888.0,683.3 901.2,667.9 888.9,658.4 875.9,673.7" fill="#a6ff00"/>
<polygon points="939.7,648.4 952.8,634.2 940.5,624.2 927.4,638.4" fill="#e8ff00"/>
<polygon points="1119.8,616.2 1132.7,605.2 1120.0,592.3 1107.1,603.3" fill="#ffd900"/>
<polygon points="1247.3,687.8 1259.9,677.9 1247.2,661.8 1234.6,671.6" fill="#a4ff00"/>
<polygon points="978.4,630.9 991.5,617.5 979.1,607.1 966.0,620.4" fill="#fff500"/>
<polygon points="1042.8,614.3 1055.8,602.2 1043.3,590.7 1030.2,602.9" fill="#ffd500"/>
<polygon points="874.9,699.0 888.0,683.3 875.9,673.7 862.8,689.4" fill="#8cff00"/>
<polygon points="1260.0,704.4 1272.6,694.5 1259.9,677.9 1247.3,687.8" fill="#88ff00"/>
<polygon points="1094.1,614.7 1107.1,603.3 1094.4,590.9 1081.5,602.3" fill="#ffd500"/>
<polygon points="1196.4,650.9 1209.2,640.7 1196.5,625.9 1183.7,636.1" fill="#e9ff00"/>
<polygon points="1068.5,614.1 1081.5,602.3 1068.8,590.4 1055.8,602.2" fill="#ffd400"/>
<polygon points="1272.6,721.4 1285.2,711.6 1272.6,694.5 1260.0,704.4" fill="#6aff00"/>
<polygon points="1158.1,632.4 1171.0,621.8 1158.3,608.0 1145.4,618.5" fill="#fff300"/>
<polygon points="861.9,715.1 874.9,699.0 862.8,689.4 849.7,705.5" fill="#70ff00"/>
<polygon points="926.6,663.0 939.7,648.4 927.4,638.4 914.3,653.0" fill="#d1ff00"/>
<polygon points="1004.0,628.5 1017.1,615.5 1004.6,604.5 991.5,617.5" fill="#ffeb00"/>
<polygon points="1209.2,666.1 1221.9,655.9 1209.2,640.7 1196.4,650.9" fill="#d1ff00"/>
<polygon points="965.3,644.7 978.4,630.9 966.0,620.4 952.8,634.2" fill="#f5ff00"/>
<polygon points="1132.5,629.5 1145.4,618.5 1132.7,605.2 1119.8,616.2" fill="#ffea00"/>
<polygon points="913.5,678.0 926.6,663.0 914.3,653.0 901.2,667.9" fill="#baff00"/>
<polygon points="1170.9,646.7 1183.7,636.1 1171.0,621.8 1158.1,632.4" fill="#f6ff00"/>
<polygon points="1029.7,626.9 1042.8,614.3 1030.2,602.9 1017.1,615.5" fill="#ffe500"/>
<polygon points="1221.9,681.8 1234.6,671.6 1221.9,655.9 1209.2,666.1" fill="#b8ff00"/>
<polygon points="1106.8,627.6 1119.8,616.2 1107.1,603.3 1094.1,614.7" fill="#ffe500"/>
<polygon points="1055.4,626.3 1068.5,614.1 1055.8,602.2 1042.8,614.3" fill="#ffe200"/>
<polygon points="1081.1,626.5 1094.1,614.7 1081.5,602.3 1068.5,614.1" fill="#ffe200"/>
<polygon points="900.3,693.3 913.5,678.0 901.2,667.9 888.0,683.3" fill="#a1ff00"/>
<polygon points="952.1,658.9 965.3,644.7 952.8,634.2 939.7,648.4" fill="#e0ff00"/>
<polygon points="1234.6,698.0 1247.3,687.8 1234.6,671.6 1221.9,681.8" fill="#9dff00"/>
<polygon points="990.9,641.9 1004.0,628.5 991.5,617.5 978.4,630.9" fill="#fffe00"/>
<polygon points="1183.6,661.5 1196.4,650.9 1183.7,636.1 1170.9,646.7" fill="#e0ff00"/>
<polygon points="1145.2,643.4 1158.1,632.4 1145.4,618.5 1132.5,629.5" fill="#fffd00"/>
<polygon points="1247.3,714.6 1260.0,704.4 1247.3,687.8 1234.6,698.0" fill="#81ff00"/>
<polygon points="887.2,709.1 900.3,693.3 888.0,683.3 874.9,699.0" fill="#86ff00"/>
<polygon points="1260.0,731.7 1272.6,721.4 1260.0,704.4 1247.3,714.6" fill="#63ff00"/>
<polygon points="1016.6,640.0 1029.7,626.9 1017.1,615.5 1004.0,628.5" fill="#fff600"/>
<polygon points="874.1,725.2 887.2,709.1 874.9,699.0 861.9,715.1" fill="#6bff00"/>
<polygon points="939.0,673.5 952.1,658.9 939.7,648.4 926.6,663.0" fill="#caff00"/>
<polygon points="1119.5,640.9 1132.5,629.5 1119.8,616.2 1106.8,627.6" fill="#fff600"/>
<polygon points="1196.4,676.7 1209.2,666.1 1196.4,650.9 1183.6,661.5" fill="#c8ff00"/>
<polygon points="977.8,655.7 990.9,641.9 978.4,630.9 965.3,644.7" fill="#ecff00"/>
<polygon points="1042.3,638.9 1055.4,626.3 1042.8,614.3 1029.7,626.9" fill="#fff200"/>
<polygon points="1093.8,639.4 1106.8,627.6 1094.1,614.7 1081.1,626.5" fill="#fff200"/>
<polygon points="1158.0,657.7 1170.9,646.7 1158.1,632.4 1145.2,643.4" fill="#ecff00"/>
<polygon points="1068.1,638.7 1081.1,626.5 1068.5,614.1 1055.4,626.3" fill="#fff000"/>
<polygon points="925.8,688.5 939.0,673.5 926.6,663.0 913.5,678.0" fill="#b2ff00"/>
<polygon points="1209.1,692.4 1221.9,681.8 1209.2,666.1 1196.4,676.7" fill="#afff00"/>
<polygon points="1003.4,653.4 1016.6,640.0 1004.0,628.5 990.9,641.9" fill="#f5ff00"/>
<polygon points="964.6,669.9 977.8,655.7 965.3,644.7 952.1,658.9" fill="#d7ff00"/>
<polygon points="1221.8,708.6 1234.6,698.0 1221.9,681.8 1209.1,692.4" fill="#94ff00"/>
<polygon points="1132.3,654.8 1145.2,643.4 1132.5,629.5 1119.5,640.9" fill="#f5ff00"/>
<polygon points="912.7,703.9 925.8,688.5 913.5,678.0 900.3,693.3" fill="#99ff00"/>
<polygon points="1170.7,672.5 1183.6,661.5 1170.9,646.7 1158.0,657.7" fill="#d6ff00"/>
<polygon points="1234.6,725.2 1247.3,714.6 1234.6,698.0 1221.8,708.6" fill="#78ff00"/>
<polygon points="1029.2,651.9 1042.3,638.9 1029.7,626.9 1016.6,640.0" fill="#fbff00"/>
<polygon points="1106.5,652.8 1119.5,640.9 1106.8,627.6 1093.8,639.4" fill="#fbff00"/>
<polygon points="1247.3,742.3 1260.0,731.7 1247.3,714.6 1234.6,725.2" fill="#5aff00"/>
<polygon points="899.5,719.6 912.7,703.9 900.3,693.3 887.2,709.1" fill="#7fff00"/>
<polygon points="1055.0,651.3 1068.1,638.7 1055.4,626.3 1042.3,638.9" fill="#feff00"/>
<polygon points="1080.8,651.6 1093.8,639.4 1081.1,626.5 1068.1,638.7" fill="#feff00"/>
<polygon points="951.4,684.5 964.6,669.9 952.1,658.9 939.0,673.5" fill="#c1ff00"/>
<polygon points="1183.5,687.7 1196.4,676.7 1183.6,661.5 1170.7,672.5" fill="#beff00"/>
<polygon points="886.4,735.8 899.5,719.6 887.2,709.1 874.1,725.2" fill="#63ff00"/>
<polygon points="990.3,667.2 1003.4,653.4 990.9,641.9 977.8,655.7" fill="#e1ff00"/>
<polygon points="1145.0,669.1 1158.0,657.7 1145.2,643.4 1132.3,654.8" fill="#e1ff00"/>
<polygon points="1196.3,703.5 1209.1,692.4 1196.4,676.7 1183.5,687.7" fill="#a5ff00"/>
<polygon points="938.2,699.5 951.4,684.5 939.0,673.5 925.8,688.5" fill="#a9ff00"/>
<polygon points="1016.0,665.3 1029.2,651.9 1016.6,640.0 1003.4,653.4" fill="#e9ff00"/>
<polygon points="1119.3,666.6 1132.3,654.8 1119.5,640.9 1106.5,652.8" fill="#e8ff00"/>
<polygon points="977.1,681.4 990.3,667.2 977.8,655.7 964.6,669.9" fill="#ccff00"/>
<polygon points="1157.8,683.9 1170.7,672.5 1158.0,657.7 1145.0,669.1" fill="#cbff00"/>
<polygon points="1209.0,719.6 1221.8,708.6 1209.1,692.4 1196.3,703.5" fill="#8bff00"/>
<polygon points="1041.8,664.3 1055.0,651.3 1042.3,638.9 1029.2,651.9" fill="#edff00"/>
<polygon points="1093.5,665.0 1106.5,652.8 1093.8,639.4 1080.8,651.6" fill="#edff00"/>
<polygon points="925.1,714.9 938.2,699.5 925.8,688.5 912.7,703.9" fill="#90ff00"/>
<polygon points="1067.7,664.2 1080.8,651.6 1068.1,638.7 1055.0,651.3" fill="#eeff00"/>
<polygon points="1221.8,736.3 1234.6,725.2 1221.8,708.6 1209.0,719.6" fill="#6eff00"/>
<polygon points="1234.5,753.4 1247.3,742.3 1234.6,725.2 1221.8,736.3" fill="#51ff00"/>
<polygon points="911.9,730.7 925.1,714.9 912.7,703.9 899.5,719.6" fill="#76ff00"/>
<polygon points="1170.6,699.2 1183.5,687.7 1170.7,672.5 1157.8,683.9" fill="#b3ff00"/>
<polygon points="1002.9,679.1 1016.0,665.3 1003.4,653.4 990.3,667.2" fill="#d5ff00"/>
<polygon points="963.9,696.0 977.1,681.4 964.6,669.9 951.4,684.5" fill="#b6ff00"/>
<polygon points="1132.0,680.9 1145.0,669.1 1132.3,654.8 1119.3,666.6" fill="#d4ff00"/>
<polygon points="898.7,746.8 911.9,730.7 899.5,719.6 886.4,735.8" fill="#5bff00"/>
<polygon points="1028.7,677.8 1041.8,664.3 1029.2,651.9 1016.0,665.3" fill="#dbff00"/>
<polygon points="1106.2,678.8 1119.3,666.6 1106.5,652.8 1093.5,665.0" fill="#daff00"/>
<polygon points="1183.4,714.9 1196.3,703.5 1183.5,687.7 1170.6,699.2" fill="#9aff00"/>
<polygon points="950.7,711.0 963.9,696.0 951.4,684.5 938.2,699.5" fill="#9fff00"/>
<polygon points="1054.5,677.3 1067.7,664.2 1055.0,651.3 1041.8,664.3" fill="#deff00"/>
<polygon points="1080.4,677.6 1093.5,665.0 1080.8,651.6 1067.7,664.2" fill="#ddff00"/>
<polygon points="1144.8,695.8 1157.8,683.9 1145.0,669.1 1132.0,680.9" fill="#beff00"/>
<polygon points="989.7,693.4 1002.9,679.1 990.3,667.2 977.1,681.4" fill="#c0ff00"/>
<polygon points="1196.1,731.1 1209.0,719.6 1196.3,703.5 1183.4,714.9" fill="#7fff00"/>
<polygon points="937.5,726.4 950.7,711.0 938.2,699.5 925.1,714.9" fill="#86ff00"/>
<polygon points="1208.9,747.7 1221.8,736.3 1209.0,719.6 1196.1,731.1" fill="#63ff00"/>
<polygon points="1119.0,693.2 1132.0,680.9 1119.3,666.6 1106.2,678.8" fill="#c6ff00"/>
<polygon points="1015.5,691.6 1028.7,677.8 1016.0,665.3 1002.9,679.1" fill="#c7ff00"/>
<polygon points="1221.6,764.8 1234.5,753.4 1221.8,736.3 1208.9,747.7" fill="#46ff00"/>
<polygon points="1157.6,711.0 1170.6,699.2 1157.8,683.9 1144.8,695.8" fill="#a6ff00"/>
<polygon points="976.5,708.0 989.7,693.4 977.1,681.4 963.9,696.0" fill="#aaff00"/>
<polygon points="924.4,742.2 937.5,726.4 925.1,714.9 911.9,730.7" fill="#6cff00"/>
<polygon points="1093.1,691.5 1106.2,678.8 1093.5,665.0 1080.4,677.6" fill="#cbff00"/>
<polygon points="1041.4,690.7 1054.5,677.3 1041.8,664.3 1028.7,677.8" fill="#cbff00"/>
<polygon points="1067.3,690.7 1080.4,677.6 1067.7,664.2 1054.5,677.3" fill="#ccff00"/>
<polygon points="911.2,758.3 924.4,742.2 911.9,730.7 898.7,746.8" fill="#51ff00"/>
<polygon points="1170.4,726.8 1183.4,714.9 1170.6,699.2 1157.6,711.0" fill="#8dff00"/>
<polygon points="1131.8,708.0 1144.8,695.8 1132.0,680.9 1119.0,693.2" fill="#b0ff00"/>
<polygon points="963.3,723.0 976.5,708.0 963.9,696.0 950.7,711.0" fill="#93ff00"/>
<polygon points="1002.3,705.8 1015.5,691.6 1002.9,679.1 989.7,693.4" fill="#b3ff00"/>
<polygon points="1183.2,743.0 1196.1,731.1 1183.4,714.9 1170.4,726.8" fill="#73ff00"/>
<polygon points="1105.9,705.8 1119.0,693.2 1106.2,678.8 1093.1,691.5" fill="#b6ff00"/>
<polygon points="1028.2,704.5 1041.4,690.7 1028.7,677.8 1015.5,691.6" fill="#b8ff00"/>
<polygon points="950.1,738.4 963.3,723.0 950.7,711.0 937.5,726.4" fill="#7aff00"/>
<polygon points="1196.0,759.6 1208.9,747.7 1196.1,731.1 1183.2,743.0" fill="#57ff00"/>
<polygon points="1144.6,723.3 1157.6,711.0 1144.8,695.8 1131.8,708.0" fill="#99ff00"/>
<polygon points="1080.0,704.5 1093.1,691.5 1080.4,677.6 1067.3,690.7" fill="#baff00"/>
<polygon points="1054.1,704.1 1067.3,690.7 1054.5,677.3 1041.4,690.7" fill="#baff00"/>
<polygon points="1208.7,776.7 1221.6,764.8 1208.9,747.7 1196.0,759.6" fill="#39ff00"/>
<polygon points="989.1,720.5 1002.3,705.8 989.7,693.4 976.5,708.0" fill="#9cff00"/>
<polygon points="936.9,754.2 950.1,738.4 937.5,726.4 924.4,742.2" fill="#60ff00"/>
<polygon points="1157.4,739.0 1170.4,726.8 1157.6,711.0 1144.6,723.3" fill="#80ff00"/>
<polygon points="1118.7,720.6 1131.8,708.0 1119.0,693.2 1105.9,705.8" fill="#a1ff00"/>
<polygon points="923.7,770.3 936.9,754.2 924.4,742.2 911.2,758.3" fill="#45ff00"/>
<polygon points="1015.0,718.8 1028.2,704.5 1015.5,691.6 1002.3,705.8" fill="#a3ff00"/>
<polygon points="975.9,735.5 989.1,720.5 976.5,708.0 963.3,723.0" fill="#85ff00"/>
<polygon points="1092.8,718.9 1105.9,705.8 1093.1,691.5 1080.0,704.5" fill="#a6ff00"/>
<polygon points="1170.2,755.2 1183.2,743.0 1170.4,726.8 1157.4,739.0" fill="#65ff00"/>
<polygon points="1040.9,717.9 1054.1,704.1 1041.4,690.7 1028.2,704.5" fill="#a7ff00"/>
<polygon points="1066.9,718.0 1080.0,704.5 1067.3,690.7 1054.1,704.1" fill="#a8ff00"/>
<polygon points="1131.5,735.9 1144.6,723.3 1131.8,708.0 1118.7,720.6" fill="#89ff00"/>
<polygon points="1183.0,771.9 1196.0,759.6 1183.2,743.0 1170.2,755.2" fill="#49ff00"/>
<polygon points="962.7,750.9 975.9,735.5 963.3,723.0 950.1,738.4" fill="#6dff00"/>
<polygon points="1001.8,733.4 1015.0,718.8 1002.3,705.8 989.1,720.5" fill="#8dff00"/>
<polygon points="1195.8,788.9 1208.7,776.7 1196.0,759.6 1183.0,771.9" fill="#2cff00"/>
<polygon points="949.5,766.6 962.7,750.9 950.1,738.4 936.9,754.2" fill="#53ff00"/>
<polygon points="1105.6,733.7 1118.7,720.6 1105.9,705.8 1092.8,718.9" fill="#90ff00"/>
<polygon points="1144.3,751.7 1157.4,739.0 1144.6,723.3 1131.5,735.9" fill="#71ff00"/>
<polygon points="1027.7,732.2 1040.9,717.9 1028.2,704.5 1015.0,718.8" fill="#92ff00"/>
<polygon points="1079.6,732.3 1092.8,718.9 1080.0,704.5 1066.9,718.0" fill="#94ff00"/>
<polygon points="1053.7,731.8 1066.9,718.0 1054.1,704.1 1040.9,717.9" fill="#95ff00"/>
<polygon points="988.6,748.4 1001.8,733.4 989.1,720.5 975.9,735.5" fill="#76ff00"/>
<polygon points="936.2,782.8 949.5,766.6 936.9,754.2 923.7,770.3" fill="#37ff00"/>
<polygon points="1157.2,767.9 1170.2,755.2 1157.4,739.0 1144.3,751.7" fill="#56ff00"/>
<polygon points="1118.4,749.0 1131.5,735.9 1118.7,720.6 1105.6,733.7" fill="#79ff00"/>
<polygon points="1170.0,784.5 1183.0,771.9 1170.2,755.2 1157.2,767.9" fill="#3aff00"/>
<polygon points="1014.5,746.8 1027.7,732.2 1015.0,718.8 1001.8,733.4" fill="#7dff00"/>
<polygon points="975.3,763.8 988.6,748.4 975.9,735.5 962.7,750.9" fill="#5eff00"/>
<polygon points="1182.8,801.6 1195.8,788.9 1183.0,771.9 1170.0,784.5" fill="#1dff00"/>
<polygon points="1092.4,747.2 1105.6,733.7 1092.8,718.9 1079.6,732.3" fill="#7eff00"/>
<polygon points="1040.5,746.1 1053.7,731.8 1040.9,717.9 1027.7,732.2" fill="#80ff00"/>
<polygon points="1066.5,746.2 1079.6,732.3 1066.9,718.0 1053.7,731.8" fill="#81ff00"/>
<polygon points="1131.2,764.7 1144.3,751.7 1131.5,735.9 1118.4,749.0" fill="#60ff00"/>
<polygon points="962.1,779.6 975.3,763.8 962.7,750.9 949.5,766.6" fill="#44ff00"/>
<polygon points="1001.3,761.8 1014.5,746.8 1001.8,733.4 988.6,748.4" fill="#65ff00"/>
<polygon points="948.8,795.8 962.1,779.6 949.5,766.6 936.2,782.8" fill="#29ff00"/>
<polygon points="1144.1,780.9 1157.2,767.9 1144.3,751.7 1131.2,764.7" fill="#46ff00"/>
<polygon points="1105.3,762.4 1118.4,749.0 1105.6,733.7 1092.4,747.2" fill="#67ff00"/>
<polygon points="1027.2,760.7 1040.5,746.1 1027.7,732.2 1014.5,746.8" fill="#6aff00"/>
<polygon points="1156.9,797.6 1170.0,784.5 1157.2,767.9 1144.1,780.9" fill="#2aff00"/>
<polygon points="1079.3,761.0 1092.4,747.2 1079.6,732.3 1066.5,746.2" fill="#6bff00"/>
<polygon points="988.0,777.2 1001.3,761.8 988.6,748.4 975.3,763.8" fill="#4dff00"/>
<polygon points="1053.2,760.4 1066.5,746.2 1053.7,731.8 1040.5,746.1" fill="#6cff00"/>
<polygon points="1169.7,814.7 1182.8,801.6 1170.0,784.5 1156.9,797.6" fill="#0dff00"/>
<polygon points="1118.1,778.2 1131.2,764.7 1118.4,749.0 1105.3,762.4" fill="#4fff00"/>
<polygon points="974.8,793.0 988.0,777.2 975.3,763.8 962.1,779.6" fill="#33ff00"/>
<polygon points="1014.0,775.7 1027.2,760.7 1014.5,746.8 1001.3,761.8" fill="#53ff00"/>
<polygon points="1092.1,776.3 1105.3,762.4 1092.4,747.2 1079.3,761.0" fill="#54ff00"/>
<polygon points="1130.9,794.4 1144.1,780.9 1131.2,764.7 1118.1,778.2" fill="#34ff00"/>
<polygon points="1040.0,775.1 1053.2,760.4 1040.5,746.1 1027.2,760.7" fill="#57ff00"/>
<polygon points="961.5,809.2 974.8,793.0 962.1,779.6 948.8,795.8" fill="#18ff00"/>
<polygon points="1066.1,775.2 1079.3,761.0 1066.5,746.2 1053.2,760.4" fill="#57ff00"/>
<polygon points="1143.8,811.0 1156.9,797.6 1144.1,780.9 1130.9,794.4" fill="#19ff00"/>
<polygon points="1000.7,791.1 1014.0,775.7 1001.3,761.8 988.0,777.2" fill="#3bff00"/>
<polygon points="1104.9,792.0 1118.1,778.2 1105.3,762.4 1092.1,776.3" fill="#3cff00"/>
<polygon points="1156.6,828.1 1169.7,814.7 1156.9,797.6 1143.8,811.0" fill="#00ff04"/>
<polygon points="1026.8,790.1 1040.0,775.1 1027.2,760.7 1014.0,775.7" fill="#40ff00"/>
<polygon points="987.5,806.9 1000.7,791.1 988.0,777.2 974.8,793.0" fill="#21ff00"/>
<polygon points="1078.9,790.5 1092.1,776.3 1079.3,761.0 1066.1,775.2" fill="#40ff00"/>
<polygon points="1052.8,789.9 1066.1,775.2 1053.2,760.4 1040.0,775.1" fill="#41ff00"/>
<polygon points="1117.8,808.2 1130.9,794.4 1118.1,778.2 1104.9,792.0" fill="#22ff00"/>
<polygon points="974.2,823.1 987.5,806.9 974.8,793.0 961.5,809.2" fill="#06ff00"/>
<polygon points="1013.5,805.5 1026.8,790.1 1014.0,775.7 1000.7,791.1" fill="#27ff00"/>
<polygon points="1130.6,824.9 1143.8,811.0 1130.9,794.4 1117.8,808.2" fill="#06ff00"/>
<polygon points="1091.7,806.3 1104.9,792.0 1092.1,776.3 1078.9,790.5" fill="#28ff00"/>
<polygon points="1143.5,842.0 1156.6,828.1 1143.8,811.0 1130.6,824.9" fill="#00ff17"/>
<polygon points="1039.6,804.9 1052.8,789.9 1040.0,775.1 1026.8,790.1" fill="#2aff00"/>
<polygon points="1065.6,805.2 1078.9,790.5 1066.1,775.2 1052.8,789.9" fill="#2aff00"/>
<polygon points="1000.2,821.3 1013.5,805.5 1000.7,791.1 987.5,806.9" fill="#0eff00"/>
<polygon points="1104.6,822.5 1117.8,808.2 1104.9,792.0 1091.7,806.3" fill="#0eff00"/>
<polygon points="1026.3,820.3 1039.6,804.9 1026.8,790.1 1013.5,805.5" fill="#12ff00"/>
<polygon points="987.0,837.4 1000.2,821.3 987.5,806.9 974.2,823.1" fill="#00ff0d"/>
<polygon points="1078.5,820.9 1091.7,806.3 1078.9,790.5 1065.6,805.2" fill="#12ff00"/>
<polygon points="1117.4,839.1 1130.6,824.9 1117.8,808.2 1104.6,822.5" fill="#00ff0e"/>
<polygon points="1052.4,820.2 1065.6,805.2 1052.8,789.9 1039.6,804.9" fill="#14ff00"/>
<polygon points="1130.3,856.2 1143.5,842.0 1130.6,824.9 1117.4,839.1" fill="#00ff2b"/>
<polygon points="1013.0,836.1 1026.3,820.3 1013.5,805.5 1000.2,821.3" fill="#00ff07"/>
<polygon points="1091.3,837.1 1104.6,822.5 1091.7,806.3 1078.5,820.9" fill="#00ff08"/>
<polygon points="1039.1,835.6 1052.4,820.2 1039.6,804.9 1026.3,820.3" fill="#00ff04"/>
<polygon points="1065.2,835.9 1078.5,820.9 1065.6,805.2 1052.4,820.2" fill="#00ff05"/>
<polygon points="999.7,852.2 1013.0,836.1 1000.2,821.3 987.0,837.4" fill="#00ff22"/>
<polygon points="1104.2,853.7 1117.4,839.1 1104.6,822.5 1091.3,837.1" fill="#00ff23"/>
<polygon points="1117.1,870.8 1130.3,856.2 1117.4,839.1 1104.2,853.7" fill="#00ff40"/>
<polygon points="1025.8,851.4 1039.1,835.6 1026.3,820.3 1013.0,836.1" fill="#00ff1e"/>
<polygon points="1078.1,852.1 1091.3,837.1 1078.5,820.9 1065.2,835.9" fill="#00ff1e"/>
<polygon points="1052.0,851.3 1065.2,835.9 1052.4,820.2 1039.1,835.6" fill="#00ff1d"/>
<polygon points="1091.0,868.7 1104.2,853.7 1091.3,837.1 1078.1,852.1" fill="#00ff3a"/>
<polygon points="1012.6,867.5 1025.8,851.4 1013.0,836.1 999.7,852.2" fill="#00ff38"/>
<polygon points="1064.8,867.5 1078.1,852.1 1065.2,835.9 1052.0,851.3" fill="#00ff36"/>
<polygon points="1103.8,885.8 1117.1,870.8 1104.2,853.7 1091.0,868.7" fill="#00ff57"/>
<polygon points="1038.7,867.1 1052.0,851.3 1039.1,835.6 1025.8,851.4" fill="#00ff36"/>
<polygon points="1077.7,884.1 1091.0,868.7 1078.1,852.1 1064.8,867.5" fill="#00ff52"/>
<polygon points="1025.4,883.2 1038.7,867.1 1025.8,851.4 1012.6,867.5" fill="#00ff50"/>
<polygon points="1051.6,883.2 1064.8,867.5 1052.0,851.3 1038.7,867.1" fill="#00ff50"/>
<polygon points="1090.6,901.2 1103.8,885.8 1091.0,868.7 1077.7,884.1" fill="#00ff6e"/>
<polygon points="1064.4,899.9 1077.7,884.1 1064.8,867.5 1051.6,883.2" fill="#00ff6b"/>
<polygon points="1038.3,899.4 1051.6,883.2 1038.7,867.1 1025.4,883.2" fill="#00ff6a"/>
<polygon points="1077.3,916.9 1090.6,901.2 1077.7,884.1 1064.4,899.9" fill="#00ff87"/>
<polygon points="1051.1,916.0 1064.4,899.9 1051.6,883.2 1038.3,899.4" fill="#00ff85"/>
<polygon points="1064.0,933.0 1077.3,916.9 1064.4,899.9 1051.1,916.0" fill="#00ffa2"/>
</g>
<path d="M1058.3,374 L1058.3,456.8" stroke="#111" stroke-width="1.5" fill="none"/>
<rect x="963.5" y="345" width="94.2" height="28.8" fill="#fff" stroke="#444" stroke-width="1.2"/>
<text x="966" y="364.5" font-size="21.15">96.8588</text>
<circle cx="616.8" cy="732.6" r="3.35" fill="#000"/>
<text x="607.8" y="745.3" font-size="28" text-anchor="end">88</text>
<circle cx="607.7" cy="663.9" r="3.35" fill="#000"/>
<text x="598.7" y="676.6" font-size="28" text-anchor="end">90</text>
<circle cx="598.6" cy="595.1" r="3.35" fill="#000"/>
<text x="589.6" y="607.8" font-size="28" text-anchor="end">92</text>
<circle cx="589.5" cy="526.3" r="3.35" fill="#000"/>
<text x="580.5" y="539.0" font-size="28" text-anchor="end">94</text>
<circle cx="580.4" cy="457.5" r="3.35" fill="#000"/>
<text x="571.4" y="470.2" font-size="28" text-anchor="end">96</text>
<circle cx="571.3" cy="388.7" r="3.35" fill="#000"/>
<text x="562.3" y="401.4" font-size="28" text-anchor="end">98</text>
<circle cx="630.2" cy="834.1" r="3.35" fill="#000"/>
<text x="621.0" y="860.5" font-size="28" text-anchor="end">75.00</text>
<circle cx="673.6" cy="866.6" r="3.35" fill="#000"/>
<text x="664.4" y="893.0" font-size="28" text-anchor="end">70.00</text>
<circle cx="717.0" cy="899.2" r="3.35" fill="#000"/>
<text x="707.8" y="925.6" font-size="28" text-anchor="end">65.00</text>
<circle cx="760.4" cy="931.7" r="3.35" fill="#000"/>
<text x="751.2" y="958.1" font-size="28" text-anchor="end">60.00</text>
<circle cx="803.8" cy="964.3" r="3.35" fill="#000"/>
<text x="794.6" y="990.7" font-size="28" text-anchor="end">55.00</text>
<circle cx="847.2" cy="996.8" r="3.35" fill="#000"/>
<text x="838.0" y="1023.2" font-size="28" text-anchor="end">50.00</text>
<circle cx="890.6" cy="1029.3" r="3.35" fill="#000"/>
<text x="881.4" y="1055.7" font-size="28" text-anchor="end">45.00</text>
<circle cx="934.0" cy="1061.9" r="3.35" fill="#000"/>
<text x="924.8" y="1088.3" font-size="28" text-anchor="end">40.00</text>
<circle cx="977.4" cy="1094.4" r="3.35" fill="#000"/>
<text x="968.2" y="1120.8" font-size="28" text-anchor="end">35.00</text>
<circle cx="1020.8" cy="1127.0" r="3.35" fill="#000"/>
<text x="1011.6" y="1153.4" font-size="28" text-anchor="end">30.00</text>
<circle cx="1064.2" cy="1159.5" r="3.35" fill="#000"/>
<text x="1055.0" y="1184.5" font-size="28" text-anchor="end">25.00</text>
<circle cx="1064.2" cy="1159.5" r="3.35" fill="#000"/>
<text x="1073.6" y="1182.5" font-size="28">800.00</text>
<circle cx="1176.2" cy="1080.2" r="3.35" fill="#000"/>
<text x="1185.6" y="1103.3" font-size="28">850.00</text>
<circle cx="1288.2" cy="1001.0" r="3.35" fill="#000"/>
<text x="1297.6" y="1024.0" font-size="28">900.00</text>
<circle cx="1400.1" cy="921.7" r="3.35" fill="#000"/>
<text x="1409.5" y="944.8" font-size="28">950.00</text>
<circle cx="1512.1" cy="842.4" r="3.35" fill="#000"/>
<text x="1522.3" y="865.6" font-size="28">1000.00</text>
<rect x="7.7" y="100.4" width="19.1" height="79.7" fill="url(#lg)" stroke="#000" stroke-width="2.2"/>
<text x="34.5" y="119.5" font-size="27" style="fill:#ff0000">97.5</text>
<text x="34.5" y="182.8" font-size="27" style="fill:#0000ff">89</text>
<text x="0.4" y="25.5" font-size="27.07">Design-Expert® Software</text>
<text x="0.4" y="57.5" font-size="27.07">Factor Coding: Actual</text>
<text x="0.4" y="88.5" font-size="27.07">Removal Efficiency % (%)</text>
<text x="0.4" y="245.5" font-size="27.07">X1 = A: calcinatin temperature</text>
<text x="0.4" y="277" font-size="27.07">X2 = B: Concentration of calcium solution</text>
<text x="0.4" y="339.5" font-size="27.07">Actual Factor</text>
<text x="0.4" y="371.7" font-size="27.07">C: calcination contact time = 61.51</text>
<text x="190.5" y="1112.7" font-size="34.65">B: Concentration of calcium solution (V%)</text>
<text x="1244" y="1158.5" font-size="34.5">A: calcinatin temperature (Celsius)</text>
<text transform="translate(498.5,803) rotate(-90)" font-size="34.5">Removal Efficiency % (%)</text>
</svg>
</body></html>
